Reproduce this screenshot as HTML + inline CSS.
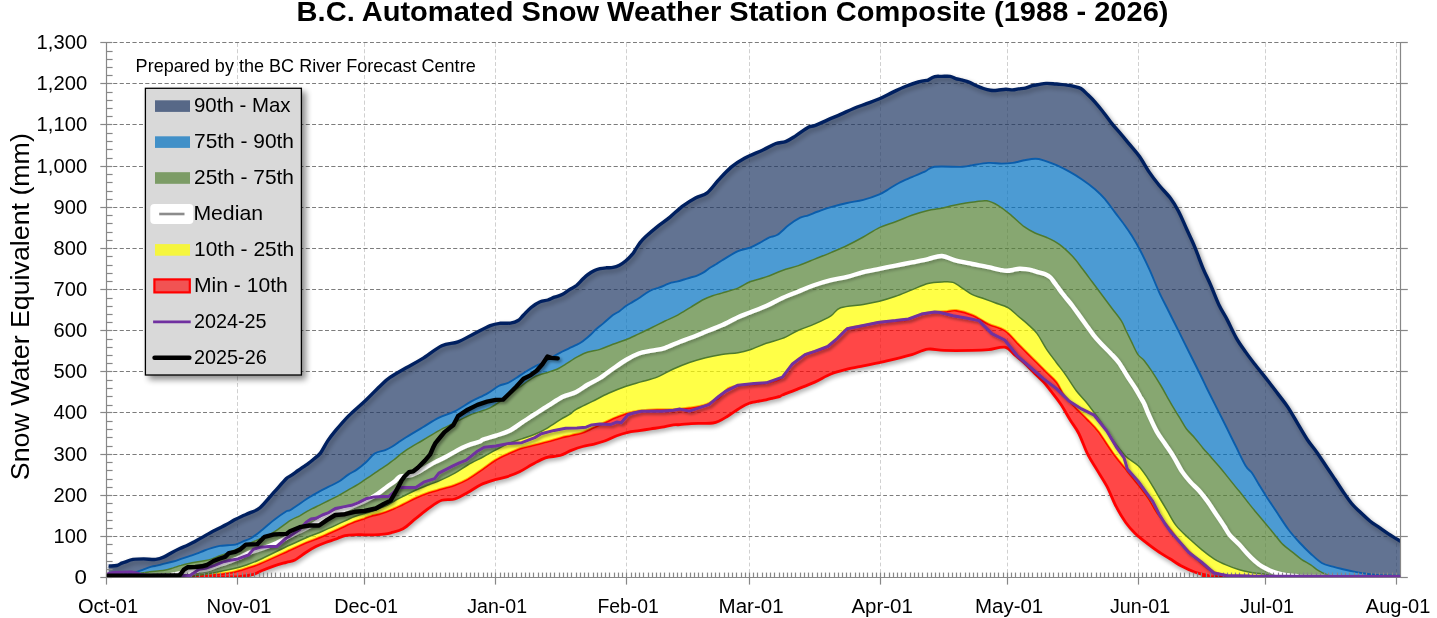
<!DOCTYPE html>
<html><head><meta charset="utf-8"><title>B.C. Automated Snow Weather Station Composite</title>
<style>html,body{margin:0;padding:0;background:#fff;overflow:hidden;}svg{display:block;will-change:transform;}text{font-family:"Liberation Sans",sans-serif;fill:#000;}</style>
</head><body>

<svg width="1437" height="618" viewBox="0 0 1437 618">
<defs>
<filter id="so" x="-10%" y="-10%" width="120%" height="130%"><feGaussianBlur in="SourceAlpha" stdDeviation="2.6"/><feOffset dx="2.4" dy="3.0"/><feComponentTransfer><feFuncA type="linear" slope="0.42"/></feComponentTransfer></filter>
<filter id="si" x="-10%" y="-10%" width="120%" height="130%"><feGaussianBlur in="SourceAlpha" stdDeviation="2.4"/><feOffset dx="2.2" dy="2.8"/><feComponentTransfer><feFuncA type="linear" slope="0.30"/></feComponentTransfer></filter>
<filter id="sr" x="-10%" y="-10%" width="120%" height="130%"><feGaussianBlur in="SourceAlpha" stdDeviation="2.2"/><feOffset dx="0.8" dy="3.0"/><feComponentTransfer><feFuncA type="linear" slope="0.30"/></feComponentTransfer></filter>
<filter id="shl" x="-5%" y="-5%" width="110%" height="115%"><feGaussianBlur in="SourceAlpha" stdDeviation="1.6"/><feOffset dx="1.6" dy="2" result="b"/><feComponentTransfer><feFuncA type="linear" slope="0.22"/></feComponentTransfer><feMerge><feMergeNode/><feMergeNode in="SourceGraphic"/></feMerge></filter>
<filter id="shl2" x="-5%" y="-5%" width="110%" height="115%"><feGaussianBlur in="SourceAlpha" stdDeviation="1.8"/><feOffset dx="1.5" dy="2.2" result="b"/><feComponentTransfer><feFuncA type="linear" slope="0.38"/></feComponentTransfer><feMerge><feMergeNode/><feMergeNode in="SourceGraphic"/></feMerge></filter>
<filter id="shg" x="-10%" y="-10%" width="130%" height="130%"><feGaussianBlur in="SourceAlpha" stdDeviation="3"/><feOffset dx="4" dy="4" result="b"/><feComponentTransfer><feFuncA type="linear" slope="0.45"/></feComponentTransfer><feMerge><feMergeNode/><feMergeNode in="SourceGraphic"/></feMerge></filter>
<clipPath id="plot"><rect x="106.8" y="30" width="1293.6" height="547.3"/></clipPath>
</defs>
<rect x="0" y="0" width="1437" height="618" fill="#fff"/>
<g stroke-width="1" fill="none">
<line x1="237.5" y1="43.0" x2="237.5" y2="577.0" stroke="#d0d0d0" stroke-dasharray="3.75 2.665"/>
<line x1="364.5" y1="43.0" x2="364.5" y2="577.0" stroke="#d0d0d0" stroke-dasharray="3.75 2.665"/>
<line x1="495.5" y1="43.0" x2="495.5" y2="577.0" stroke="#d0d0d0" stroke-dasharray="3.75 2.665"/>
<line x1="626.5" y1="43.0" x2="626.5" y2="577.0" stroke="#d0d0d0" stroke-dasharray="3.75 2.665"/>
<line x1="749.5" y1="43.0" x2="749.5" y2="577.0" stroke="#d0d0d0" stroke-dasharray="3.75 2.665"/>
<line x1="880.5" y1="43.0" x2="880.5" y2="577.0" stroke="#d0d0d0" stroke-dasharray="3.75 2.665"/>
<line x1="1007.5" y1="43.0" x2="1007.5" y2="577.0" stroke="#d0d0d0" stroke-dasharray="3.75 2.665"/>
<line x1="1138.5" y1="43.0" x2="1138.5" y2="577.0" stroke="#d0d0d0" stroke-dasharray="3.75 2.665"/>
<line x1="1265.5" y1="43.0" x2="1265.5" y2="577.0" stroke="#d0d0d0" stroke-dasharray="3.75 2.665"/>
<line x1="1396.5" y1="43.0" x2="1396.5" y2="577.0" stroke="#d0d0d0" stroke-dasharray="3.75 2.665"/>
<line x1="107.0" y1="536.5" x2="1400.0" y2="536.5" stroke="#7c7c7c" stroke-dasharray="3.75 2.665"/>
<line x1="107.0" y1="495.5" x2="1400.0" y2="495.5" stroke="#7c7c7c" stroke-dasharray="3.75 2.665"/>
<line x1="107.0" y1="454.5" x2="1400.0" y2="454.5" stroke="#7c7c7c" stroke-dasharray="3.75 2.665"/>
<line x1="107.0" y1="412.5" x2="1400.0" y2="412.5" stroke="#7c7c7c" stroke-dasharray="3.75 2.665"/>
<line x1="107.0" y1="371.5" x2="1400.0" y2="371.5" stroke="#7c7c7c" stroke-dasharray="3.75 2.665"/>
<line x1="107.0" y1="330.5" x2="1400.0" y2="330.5" stroke="#7c7c7c" stroke-dasharray="3.75 2.665"/>
<line x1="107.0" y1="289.5" x2="1400.0" y2="289.5" stroke="#7c7c7c" stroke-dasharray="3.75 2.665"/>
<line x1="107.0" y1="248.5" x2="1400.0" y2="248.5" stroke="#7c7c7c" stroke-dasharray="3.75 2.665"/>
<line x1="107.0" y1="207.5" x2="1400.0" y2="207.5" stroke="#7c7c7c" stroke-dasharray="3.75 2.665"/>
<line x1="107.0" y1="166.5" x2="1400.0" y2="166.5" stroke="#7c7c7c" stroke-dasharray="3.75 2.665"/>
<line x1="107.0" y1="124.5" x2="1400.0" y2="124.5" stroke="#7c7c7c" stroke-dasharray="3.75 2.665"/>
<line x1="107.0" y1="83.5" x2="1400.0" y2="83.5" stroke="#7c7c7c" stroke-dasharray="3.75 2.665"/>
<line x1="107.0" y1="42.5" x2="1400.0" y2="42.5" stroke="#7c7c7c" stroke-dasharray="3.75 2.665"/>
</g>
<g clip-path="url(#plot)">
<path d="M108.6,566.0 C108.8,566.0 108.1,566.1 109.5,566.0 C110.9,565.9 114.8,566.0 116.8,565.5 C118.8,565.0 120.4,563.7 121.7,563.1 C123.0,562.5 122.9,562.7 124.8,562.1 C126.7,561.5 129.8,559.9 133.0,559.4 C136.2,558.9 139.9,558.9 143.7,558.9 C147.5,558.9 152.3,559.7 155.7,559.4 C159.1,559.1 161.5,558.1 164.2,556.9 C166.9,555.7 169.4,553.8 172.0,552.4 C174.6,551.0 177.2,549.7 179.8,548.5 C182.4,547.3 184.9,546.5 187.5,545.3 C190.1,544.1 192.7,542.6 195.3,541.2 C197.9,539.8 200.5,538.4 203.1,536.9 C205.7,535.4 208.2,533.8 210.8,532.4 C213.4,531.0 216.0,529.8 218.6,528.5 C221.2,527.2 223.8,526.0 226.4,524.6 C229.0,523.2 231.5,521.5 234.1,520.1 C236.7,518.7 239.3,517.4 241.9,516.2 C244.5,515.0 246.7,514.3 249.7,512.9 C252.7,511.5 255.9,511.3 260.0,507.8 C264.1,504.3 269.9,496.8 274.3,491.9 C278.7,487.0 283.8,481.1 286.4,478.5 C289.0,475.9 288.1,477.5 290.0,476.2 C291.9,474.9 295.4,472.4 298.1,470.5 C300.8,468.6 303.8,466.6 306.2,464.9 C308.6,463.1 310.3,462.0 312.7,460.0 C315.1,458.0 317.9,456.3 320.4,453.1 C322.9,449.9 325.1,444.7 327.7,440.9 C330.3,437.1 332.4,434.4 335.9,430.2 C339.4,426.0 344.0,420.5 348.9,415.6 C353.8,410.7 359.6,406.1 365.0,401.0 C370.4,395.9 377.0,388.8 381.2,384.9 C385.4,381.0 385.8,380.3 390.0,377.4 C394.2,374.5 400.8,370.8 406.2,367.7 C411.6,364.6 416.5,362.3 422.4,358.6 C428.3,354.9 435.9,348.5 441.8,345.7 C447.7,342.9 452.6,343.8 458.0,341.8 C463.4,339.8 468.7,336.4 474.1,333.7 C479.5,331.0 486.0,327.3 490.3,325.6 C494.6,323.9 496.6,323.7 500.0,323.3 C503.4,322.9 507.4,323.6 510.4,323.1 C513.4,322.6 516.0,321.8 518.1,320.5 C520.2,319.2 521.1,317.5 523.3,315.3 C525.5,313.1 528.3,309.8 531.1,307.5 C533.9,305.2 537.3,302.9 540.1,301.7 C542.9,300.4 545.5,300.8 547.9,300.0 C550.3,299.2 552.0,298.1 554.4,297.2 C556.8,296.3 559.5,295.9 562.1,294.6 C564.7,293.3 567.5,290.9 569.9,289.4 C572.3,287.9 574.2,287.2 576.4,285.5 C578.5,283.8 580.9,280.9 582.8,279.1 C584.7,277.3 586.0,275.9 588.0,274.5 C590.0,273.1 592.5,271.6 594.5,270.6 C596.5,269.6 598.0,269.2 600.0,268.7 C602.0,268.2 604.4,268.0 606.5,267.8 C608.6,267.6 610.8,267.8 612.9,267.4 C615.0,267.0 617.2,266.3 619.4,265.2 C621.6,264.1 623.7,262.5 625.9,260.7 C628.1,258.9 630.7,256.2 632.4,254.2 C634.1,252.1 634.9,250.3 636.2,248.4 C637.5,246.5 638.5,244.6 640.1,242.6 C641.7,240.6 643.0,239.1 645.8,236.5 C648.6,233.9 653.1,230.0 657.1,226.8 C661.1,223.6 665.7,220.6 670.0,217.1 C674.3,213.6 678.7,209.0 683.0,205.8 C687.3,202.6 691.9,199.9 695.9,197.7 C699.9,195.5 703.4,195.8 707.2,192.8 C711.0,189.8 714.6,184.2 718.6,179.9 C722.6,175.6 727.2,170.5 731.5,166.9 C735.8,163.3 739.3,161.0 744.5,158.2 C749.7,155.4 757.7,152.4 762.9,150.0 C768.1,147.6 772.1,144.9 775.9,143.5 C779.7,142.1 782.4,142.8 785.6,141.6 C788.8,140.4 791.5,138.5 795.3,136.1 C799.1,133.7 805.1,129.0 808.3,127.3 C811.5,125.6 811.5,126.9 814.7,125.7 C817.9,124.5 823.4,121.8 827.7,119.9 C832.0,118.0 836.3,116.3 840.6,114.4 C844.9,112.5 849.3,110.3 853.6,108.5 C857.9,106.7 862.2,105.3 866.5,103.7 C870.8,102.1 875.1,100.7 879.4,98.8 C883.7,96.9 888.1,94.5 892.4,92.4 C896.7,90.4 901.0,88.2 905.3,86.5 C909.6,84.8 914.5,83.1 918.3,82.0 C922.1,80.9 926.4,80.4 928.0,80.1 C929.6,79.8 926.9,80.7 928.0,80.1 C929.1,79.5 932.5,77.2 934.8,76.6 C937.1,76.0 939.2,76.4 941.8,76.4 C944.3,76.4 947.8,76.0 950.1,76.4 C952.4,76.8 953.6,78.0 955.7,78.6 C957.8,79.2 960.3,79.6 962.6,80.2 C964.9,80.8 967.3,81.4 969.6,82.3 C971.9,83.2 974.2,84.7 976.5,85.7 C978.8,86.7 981.2,87.7 983.5,88.5 C985.8,89.3 988.2,90.0 990.5,90.3 C992.8,90.6 994.9,90.5 997.4,90.3 C999.9,90.1 1003.2,89.3 1005.8,89.2 C1008.3,89.1 1010.6,90.0 1012.7,89.9 C1014.8,89.9 1016.2,89.2 1018.3,88.9 C1020.4,88.6 1023.0,88.6 1025.3,88.1 C1027.6,87.6 1029.9,86.3 1032.2,85.7 C1034.5,85.1 1036.9,84.8 1039.2,84.4 C1041.5,84.0 1043.8,83.5 1046.1,83.4 C1048.4,83.3 1050.8,83.5 1053.1,83.7 C1055.4,83.9 1057.8,84.2 1060.1,84.4 C1062.4,84.6 1064.7,84.8 1067.0,85.1 C1069.3,85.4 1071.7,85.8 1074.0,86.4 C1076.3,87.0 1078.6,87.1 1080.9,88.5 C1083.2,89.9 1085.6,92.6 1087.9,94.8 C1090.2,97.0 1092.5,99.2 1094.8,101.8 C1097.1,104.4 1099.0,106.7 1101.8,110.2 C1104.6,113.8 1108.3,119.1 1111.5,123.1 C1114.7,127.1 1118.1,130.8 1121.2,134.4 C1124.3,138.0 1126.9,141.2 1130.0,144.9 C1133.1,148.6 1136.5,152.2 1139.7,156.8 C1142.9,161.4 1146.2,167.7 1149.4,172.4 C1152.6,177.2 1155.6,181.0 1159.1,185.3 C1162.6,189.6 1167.3,194.0 1170.5,198.3 C1173.7,202.6 1175.8,206.1 1178.5,211.2 C1181.2,216.3 1183.9,223.1 1186.6,229.0 C1189.3,234.9 1192.0,240.3 1194.7,246.8 C1197.4,253.3 1200.1,261.3 1202.8,267.8 C1205.5,274.3 1208.2,279.4 1210.9,285.6 C1213.6,291.8 1216.3,299.3 1219.0,305.0 C1221.7,310.7 1224.2,314.1 1227.1,319.6 C1230.0,325.1 1233.1,332.3 1236.2,337.8 C1239.3,343.3 1242.7,347.8 1245.9,352.4 C1249.1,357.0 1251.8,360.4 1255.6,365.3 C1259.4,370.2 1264.7,376.6 1268.5,381.5 C1272.3,386.4 1275.0,390.1 1278.3,394.4 C1281.5,398.7 1284.8,402.5 1288.0,407.4 C1291.2,412.3 1294.5,418.2 1297.7,423.6 C1300.9,429.0 1304.2,434.9 1307.4,439.7 C1310.6,444.5 1313.9,448.1 1317.1,452.7 C1320.3,457.3 1323.8,462.8 1326.8,467.2 C1329.8,471.6 1332.3,475.4 1334.9,479.3 C1337.5,483.2 1339.5,486.5 1342.3,490.5 C1345.1,494.5 1348.5,499.8 1351.6,503.5 C1354.7,507.2 1357.8,509.8 1360.9,512.8 C1364.0,515.8 1367.1,518.7 1370.2,521.2 C1373.3,523.7 1376.4,525.5 1379.5,527.7 C1382.6,529.9 1385.5,532.0 1388.8,534.2 C1392.1,536.4 1397.7,539.6 1399.6,540.7 C1401.5,541.8 1399.9,540.7 1400.0,540.7 L1400.0,577.0 C1184.8,577.0 323.8,577.0 108.6,577.0 Z" fill="#000" stroke="#000" stroke-width="3.4" stroke-linejoin="round" filter="url(#so)"/>
<path d="M108.6,566.0 C108.8,566.0 108.1,566.1 109.5,566.0 C110.9,565.9 114.8,566.0 116.8,565.5 C118.8,565.0 120.4,563.7 121.7,563.1 C123.0,562.5 122.9,562.7 124.8,562.1 C126.7,561.5 129.8,559.9 133.0,559.4 C136.2,558.9 139.9,558.9 143.7,558.9 C147.5,558.9 152.3,559.7 155.7,559.4 C159.1,559.1 161.5,558.1 164.2,556.9 C166.9,555.7 169.4,553.8 172.0,552.4 C174.6,551.0 177.2,549.7 179.8,548.5 C182.4,547.3 184.9,546.5 187.5,545.3 C190.1,544.1 192.7,542.6 195.3,541.2 C197.9,539.8 200.5,538.4 203.1,536.9 C205.7,535.4 208.2,533.8 210.8,532.4 C213.4,531.0 216.0,529.8 218.6,528.5 C221.2,527.2 223.8,526.0 226.4,524.6 C229.0,523.2 231.5,521.5 234.1,520.1 C236.7,518.7 239.3,517.4 241.9,516.2 C244.5,515.0 246.7,514.3 249.7,512.9 C252.7,511.5 255.9,511.3 260.0,507.8 C264.1,504.3 269.9,496.8 274.3,491.9 C278.7,487.0 283.8,481.1 286.4,478.5 C289.0,475.9 288.1,477.5 290.0,476.2 C291.9,474.9 295.4,472.4 298.1,470.5 C300.8,468.6 303.8,466.6 306.2,464.9 C308.6,463.1 310.3,462.0 312.7,460.0 C315.1,458.0 317.9,456.3 320.4,453.1 C322.9,449.9 325.1,444.7 327.7,440.9 C330.3,437.1 332.4,434.4 335.9,430.2 C339.4,426.0 344.0,420.5 348.9,415.6 C353.8,410.7 359.6,406.1 365.0,401.0 C370.4,395.9 377.0,388.8 381.2,384.9 C385.4,381.0 385.8,380.3 390.0,377.4 C394.2,374.5 400.8,370.8 406.2,367.7 C411.6,364.6 416.5,362.3 422.4,358.6 C428.3,354.9 435.9,348.5 441.8,345.7 C447.7,342.9 452.6,343.8 458.0,341.8 C463.4,339.8 468.7,336.4 474.1,333.7 C479.5,331.0 486.0,327.3 490.3,325.6 C494.6,323.9 496.6,323.7 500.0,323.3 C503.4,322.9 507.4,323.6 510.4,323.1 C513.4,322.6 516.0,321.8 518.1,320.5 C520.2,319.2 521.1,317.5 523.3,315.3 C525.5,313.1 528.3,309.8 531.1,307.5 C533.9,305.2 537.3,302.9 540.1,301.7 C542.9,300.4 545.5,300.8 547.9,300.0 C550.3,299.2 552.0,298.1 554.4,297.2 C556.8,296.3 559.5,295.9 562.1,294.6 C564.7,293.3 567.5,290.9 569.9,289.4 C572.3,287.9 574.2,287.2 576.4,285.5 C578.5,283.8 580.9,280.9 582.8,279.1 C584.7,277.3 586.0,275.9 588.0,274.5 C590.0,273.1 592.5,271.6 594.5,270.6 C596.5,269.6 598.0,269.2 600.0,268.7 C602.0,268.2 604.4,268.0 606.5,267.8 C608.6,267.6 610.8,267.8 612.9,267.4 C615.0,267.0 617.2,266.3 619.4,265.2 C621.6,264.1 623.7,262.5 625.9,260.7 C628.1,258.9 630.7,256.2 632.4,254.2 C634.1,252.1 634.9,250.3 636.2,248.4 C637.5,246.5 638.5,244.6 640.1,242.6 C641.7,240.6 643.0,239.1 645.8,236.5 C648.6,233.9 653.1,230.0 657.1,226.8 C661.1,223.6 665.7,220.6 670.0,217.1 C674.3,213.6 678.7,209.0 683.0,205.8 C687.3,202.6 691.9,199.9 695.9,197.7 C699.9,195.5 703.4,195.8 707.2,192.8 C711.0,189.8 714.6,184.2 718.6,179.9 C722.6,175.6 727.2,170.5 731.5,166.9 C735.8,163.3 739.3,161.0 744.5,158.2 C749.7,155.4 757.7,152.4 762.9,150.0 C768.1,147.6 772.1,144.9 775.9,143.5 C779.7,142.1 782.4,142.8 785.6,141.6 C788.8,140.4 791.5,138.5 795.3,136.1 C799.1,133.7 805.1,129.0 808.3,127.3 C811.5,125.6 811.5,126.9 814.7,125.7 C817.9,124.5 823.4,121.8 827.7,119.9 C832.0,118.0 836.3,116.3 840.6,114.4 C844.9,112.5 849.3,110.3 853.6,108.5 C857.9,106.7 862.2,105.3 866.5,103.7 C870.8,102.1 875.1,100.7 879.4,98.8 C883.7,96.9 888.1,94.5 892.4,92.4 C896.7,90.4 901.0,88.2 905.3,86.5 C909.6,84.8 914.5,83.1 918.3,82.0 C922.1,80.9 926.4,80.4 928.0,80.1 C929.6,79.8 926.9,80.7 928.0,80.1 C929.1,79.5 932.5,77.2 934.8,76.6 C937.1,76.0 939.2,76.4 941.8,76.4 C944.3,76.4 947.8,76.0 950.1,76.4 C952.4,76.8 953.6,78.0 955.7,78.6 C957.8,79.2 960.3,79.6 962.6,80.2 C964.9,80.8 967.3,81.4 969.6,82.3 C971.9,83.2 974.2,84.7 976.5,85.7 C978.8,86.7 981.2,87.7 983.5,88.5 C985.8,89.3 988.2,90.0 990.5,90.3 C992.8,90.6 994.9,90.5 997.4,90.3 C999.9,90.1 1003.2,89.3 1005.8,89.2 C1008.3,89.1 1010.6,90.0 1012.7,89.9 C1014.8,89.9 1016.2,89.2 1018.3,88.9 C1020.4,88.6 1023.0,88.6 1025.3,88.1 C1027.6,87.6 1029.9,86.3 1032.2,85.7 C1034.5,85.1 1036.9,84.8 1039.2,84.4 C1041.5,84.0 1043.8,83.5 1046.1,83.4 C1048.4,83.3 1050.8,83.5 1053.1,83.7 C1055.4,83.9 1057.8,84.2 1060.1,84.4 C1062.4,84.6 1064.7,84.8 1067.0,85.1 C1069.3,85.4 1071.7,85.8 1074.0,86.4 C1076.3,87.0 1078.6,87.1 1080.9,88.5 C1083.2,89.9 1085.6,92.6 1087.9,94.8 C1090.2,97.0 1092.5,99.2 1094.8,101.8 C1097.1,104.4 1099.0,106.7 1101.8,110.2 C1104.6,113.8 1108.3,119.1 1111.5,123.1 C1114.7,127.1 1118.1,130.8 1121.2,134.4 C1124.3,138.0 1126.9,141.2 1130.0,144.9 C1133.1,148.6 1136.5,152.2 1139.7,156.8 C1142.9,161.4 1146.2,167.7 1149.4,172.4 C1152.6,177.2 1155.6,181.0 1159.1,185.3 C1162.6,189.6 1167.3,194.0 1170.5,198.3 C1173.7,202.6 1175.8,206.1 1178.5,211.2 C1181.2,216.3 1183.9,223.1 1186.6,229.0 C1189.3,234.9 1192.0,240.3 1194.7,246.8 C1197.4,253.3 1200.1,261.3 1202.8,267.8 C1205.5,274.3 1208.2,279.4 1210.9,285.6 C1213.6,291.8 1216.3,299.3 1219.0,305.0 C1221.7,310.7 1224.2,314.1 1227.1,319.6 C1230.0,325.1 1233.1,332.3 1236.2,337.8 C1239.3,343.3 1242.7,347.8 1245.9,352.4 C1249.1,357.0 1251.8,360.4 1255.6,365.3 C1259.4,370.2 1264.7,376.6 1268.5,381.5 C1272.3,386.4 1275.0,390.1 1278.3,394.4 C1281.5,398.7 1284.8,402.5 1288.0,407.4 C1291.2,412.3 1294.5,418.2 1297.7,423.6 C1300.9,429.0 1304.2,434.9 1307.4,439.7 C1310.6,444.5 1313.9,448.1 1317.1,452.7 C1320.3,457.3 1323.8,462.8 1326.8,467.2 C1329.8,471.6 1332.3,475.4 1334.9,479.3 C1337.5,483.2 1339.5,486.5 1342.3,490.5 C1345.1,494.5 1348.5,499.8 1351.6,503.5 C1354.7,507.2 1357.8,509.8 1360.9,512.8 C1364.0,515.8 1367.1,518.7 1370.2,521.2 C1373.3,523.7 1376.4,525.5 1379.5,527.7 C1382.6,529.9 1385.5,532.0 1388.8,534.2 C1392.1,536.4 1397.7,539.6 1399.6,540.7 C1401.5,541.8 1399.9,540.7 1400.0,540.7 L1400.0,577.0 C1184.8,577.0 323.8,577.0 108.6,577.0 Z" fill="#fff"/>
<path d="M108.6,576.4 C120.9,576.4 166.9,576.6 182.4,576.4 C197.9,576.2 195.3,575.8 201.8,575.4 C208.3,575.0 215.8,574.4 221.2,573.8 C226.6,573.2 229.8,572.8 234.1,571.8 C238.4,570.8 242.8,569.3 247.1,567.9 C251.4,566.5 252.8,566.4 260.0,563.4 C267.1,560.4 282.3,553.3 290.0,549.8 C297.7,546.3 300.8,544.8 306.2,542.5 C311.6,540.2 317.0,538.4 322.4,536.1 C327.8,533.8 333.1,531.2 338.5,528.8 C343.9,526.4 350.4,523.2 354.7,521.5 C359.0,519.8 361.7,519.2 364.4,518.3 C367.1,517.3 368.2,516.6 370.9,515.8 C373.6,515.0 377.4,514.4 380.6,513.4 C383.8,512.4 386.6,511.5 390.3,510.0 C394.0,508.5 398.7,506.2 403.0,504.2 C407.3,502.1 411.6,499.6 415.9,497.7 C420.2,495.8 424.6,494.0 428.9,492.5 C433.2,491.0 437.5,490.0 441.8,488.7 C446.1,487.4 450.5,486.4 454.8,484.8 C459.1,483.2 463.0,481.7 467.7,479.0 C472.4,476.3 478.3,471.9 483.0,468.7 C487.7,465.5 491.6,462.2 495.9,459.6 C500.2,457.0 504.6,455.1 508.9,453.1 C513.2,451.2 517.5,449.3 521.8,447.9 C526.1,446.5 530.5,445.8 534.8,444.7 C539.1,443.6 543.4,442.7 547.7,441.5 C552.0,440.3 556.8,438.7 560.7,437.6 C564.6,436.5 567.6,436.0 571.3,435.1 C575.0,434.2 578.9,433.6 582.7,432.3 C586.5,431.0 590.2,428.9 594.0,427.2 C597.8,425.5 601.5,423.8 605.3,422.1 C609.1,420.4 612.9,418.5 616.7,417.0 C620.5,415.5 624.2,414.0 628.0,413.0 C631.8,412.0 634.4,411.4 639.3,410.8 C644.1,410.2 651.4,409.6 657.1,409.4 C662.8,409.2 667.9,409.7 673.3,409.4 C678.7,409.1 684.0,408.6 689.4,407.8 C694.8,407.0 700.7,406.2 705.6,404.6 C710.5,403.0 714.8,400.8 718.6,398.1 C722.4,395.4 724.5,390.5 728.3,388.4 C732.1,386.2 736.8,386.0 741.2,385.2 C745.7,384.4 750.8,384.2 755.0,383.8 C759.2,383.4 761.6,383.9 766.2,382.8 C770.8,381.7 778.1,380.3 782.4,377.2 C786.7,374.1 788.3,368.1 792.1,364.3 C795.9,360.5 801.2,356.8 805.0,354.6 C808.8,352.5 810.9,352.8 814.7,351.4 C818.5,350.0 823.9,348.7 827.7,346.5 C831.5,344.3 834.2,341.4 837.4,338.4 C840.6,335.4 842.8,330.8 847.1,328.7 C851.4,326.6 857.9,326.6 863.3,325.5 C868.7,324.4 874.0,323.0 879.4,322.2 C884.8,321.4 890.7,321.1 895.6,320.6 C900.5,320.1 904.3,320.1 908.6,319.0 C912.9,317.9 917.2,315.3 921.5,314.1 C925.8,312.9 930.6,312.3 934.5,311.9 C938.4,311.5 941.4,311.8 945.0,311.5 C948.6,311.2 951.6,309.8 956.2,310.3 C960.8,310.9 967.0,312.5 972.4,314.8 C977.8,317.1 983.1,321.3 988.5,323.9 C993.9,326.5 999.8,327.1 1004.7,330.3 C1009.6,333.5 1013.9,339.5 1017.7,343.3 C1021.5,347.1 1024.2,349.8 1027.4,353.0 C1030.6,356.2 1033.9,359.5 1037.1,362.7 C1040.3,365.9 1043.6,369.2 1046.8,372.4 C1050.0,375.6 1053.6,378.3 1056.5,382.1 C1059.4,385.9 1060.8,390.8 1064.0,395.0 C1067.2,399.2 1071.7,403.5 1075.5,407.5 C1079.3,411.5 1083.2,415.1 1087.0,419.0 C1090.8,422.9 1093.7,425.3 1098.0,431.0 C1102.3,436.7 1108.5,446.8 1113.1,453.1 C1117.7,459.4 1121.5,463.6 1125.7,468.9 C1129.9,474.1 1134.6,479.9 1138.3,484.6 C1142.0,489.3 1144.6,492.6 1147.8,497.3 C1151.0,502.0 1153.6,507.8 1157.3,513.0 C1161.0,518.2 1165.7,523.5 1169.9,528.8 C1174.1,534.1 1178.3,539.9 1182.5,544.6 C1186.7,549.3 1190.9,553.3 1195.1,557.2 C1199.3,561.1 1203.5,565.3 1207.7,568.2 C1211.9,571.1 1215.8,573.0 1220.3,574.5 C1224.8,576.0 1205.1,576.5 1235.0,577.0 C1264.9,577.5 1372.1,577.2 1399.6,577.3 C1427.1,577.3 1399.9,577.3 1400.0,577.3 L1400.0,577.3 C1399.9,577.3 1429.6,577.3 1399.6,577.3 C1369.6,577.2 1252.0,577.3 1220.0,577.0 C1188.0,576.7 1211.9,576.3 1207.7,575.5 C1203.5,574.7 1199.3,573.8 1195.1,572.3 C1190.9,570.8 1186.7,568.9 1182.5,566.6 C1178.3,564.4 1174.1,561.4 1169.9,558.8 C1165.7,556.2 1161.5,553.8 1157.3,550.9 C1153.1,548.0 1148.3,544.3 1144.6,541.4 C1140.9,538.5 1138.3,536.6 1135.2,533.5 C1132.1,530.4 1128.9,527.0 1125.7,522.5 C1122.5,518.0 1119.4,512.8 1116.2,506.7 C1113.0,500.6 1110.0,492.2 1106.8,486.2 C1103.6,480.1 1100.4,475.6 1097.3,470.4 C1094.2,465.1 1091.0,460.8 1087.9,454.7 C1084.8,448.6 1081.7,439.2 1078.8,433.5 C1075.9,427.8 1073.5,425.3 1070.5,420.5 C1067.5,415.7 1064.1,409.2 1061.0,404.5 C1057.9,399.8 1054.9,396.2 1052.0,392.5 C1049.1,388.8 1046.6,385.5 1043.6,382.1 C1040.6,378.8 1037.0,375.6 1033.8,372.4 C1030.5,369.2 1027.3,365.7 1024.1,362.7 C1020.9,359.7 1017.6,357.2 1014.4,354.6 C1011.2,352.0 1009.0,348.0 1004.7,347.2 C1000.4,346.4 993.9,349.2 988.5,349.7 C983.1,350.2 979.8,350.3 972.4,350.4 C965.0,350.5 951.6,350.6 944.2,350.4 C936.8,350.2 933.4,348.4 928.0,349.1 C922.6,349.8 917.2,353.0 911.8,354.6 C906.4,356.2 901.0,357.5 895.6,358.8 C890.2,360.1 884.8,361.5 879.4,362.7 C874.0,363.9 868.7,364.8 863.3,365.9 C857.9,367.0 852.5,367.8 847.1,369.2 C841.7,370.6 836.3,371.9 830.9,374.0 C825.5,376.1 820.1,379.7 814.7,382.1 C809.3,384.5 803.9,386.5 798.5,388.6 C793.1,390.8 785.5,393.7 782.4,395.0 C779.3,396.3 781.6,395.9 780.0,396.4 C778.4,396.9 775.2,397.5 772.9,398.1 C770.6,398.7 768.4,399.3 766.1,399.8 C763.8,400.3 761.4,400.6 759.3,401.0 C757.2,401.4 755.5,401.6 753.6,402.1 C751.7,402.6 750.1,403.0 748.0,403.8 C745.9,404.6 743.5,405.9 741.2,407.2 C738.9,408.5 736.7,410.2 734.4,411.7 C732.1,413.2 730.1,414.7 727.6,416.2 C725.1,417.7 722.1,419.7 719.6,420.8 C717.1,421.9 715.6,422.6 712.8,423.0 C710.0,423.4 706.2,423.3 702.6,423.4 C699.0,423.5 695.1,423.4 691.3,423.6 C687.5,423.8 683.0,424.5 680.0,424.7 C677.0,424.9 676.3,424.5 673.3,424.9 C670.3,425.3 665.8,426.5 662.0,427.2 C658.2,427.9 654.5,428.3 650.7,428.9 C646.9,429.5 643.1,430.0 639.3,430.6 C635.5,431.2 631.8,431.5 628.0,432.3 C624.2,433.1 620.5,434.3 616.7,435.7 C612.9,437.1 609.1,439.4 605.3,440.8 C601.5,442.2 597.8,443.2 594.0,444.2 C590.2,445.1 586.5,445.5 582.7,446.5 C578.9,447.5 575.1,448.9 571.3,450.4 C567.5,451.9 564.3,454.3 560.0,455.5 C555.7,456.7 550.0,456.3 545.4,457.8 C540.8,459.3 536.8,462.0 532.5,464.3 C528.2,466.6 523.8,469.7 519.5,471.8 C515.2,473.9 510.9,475.4 506.6,476.8 C502.3,478.2 497.9,478.9 493.6,480.2 C489.3,481.5 485.0,482.8 480.7,484.8 C476.4,486.9 472.0,490.1 467.7,492.5 C463.4,494.9 459.1,497.7 454.8,499.0 C450.5,500.3 446.1,498.8 441.8,500.3 C437.5,501.8 433.2,505.1 428.9,508.1 C424.6,511.1 420.2,515.0 415.9,518.4 C411.6,521.8 407.1,526.4 403.0,528.8 C398.9,531.2 394.2,531.9 391.0,532.8 C387.8,533.7 386.7,533.8 383.9,534.1 C381.1,534.4 377.4,534.7 374.1,534.8 C370.9,534.9 367.6,534.8 364.4,534.8 C361.2,534.8 357.9,534.6 354.7,534.8 C351.5,534.9 348.2,535.0 345.0,535.7 C341.8,536.5 338.5,538.2 335.3,539.3 C332.1,540.4 328.8,541.3 325.6,542.5 C322.4,543.7 319.1,545.0 315.9,546.6 C312.7,548.2 309.7,550.0 306.2,552.2 C302.7,554.4 298.2,558.3 294.9,560.0 C291.6,561.7 289.8,561.3 286.4,562.3 C283.0,563.3 278.4,564.5 274.3,565.9 C270.2,567.3 265.6,569.1 262.1,570.5 C258.6,571.9 257.1,573.4 253.5,574.4 C249.9,575.4 244.9,576.0 240.6,576.4 C236.3,576.8 249.6,576.9 227.6,577.0 C205.6,577.1 128.4,577.0 108.6,577.0 Z" fill="#000" stroke="#000" stroke-width="2.8" filter="url(#sr)"/>
<path d="M108.6,566.0 C108.8,566.0 108.1,566.1 109.5,566.0 C110.9,565.9 114.8,566.0 116.8,565.5 C118.8,565.0 120.4,563.7 121.7,563.1 C123.0,562.5 122.9,562.7 124.8,562.1 C126.7,561.5 129.8,559.9 133.0,559.4 C136.2,558.9 139.9,558.9 143.7,558.9 C147.5,558.9 152.3,559.7 155.7,559.4 C159.1,559.1 161.5,558.1 164.2,556.9 C166.9,555.7 169.4,553.8 172.0,552.4 C174.6,551.0 177.2,549.7 179.8,548.5 C182.4,547.3 184.9,546.5 187.5,545.3 C190.1,544.1 192.7,542.6 195.3,541.2 C197.9,539.8 200.5,538.4 203.1,536.9 C205.7,535.4 208.2,533.8 210.8,532.4 C213.4,531.0 216.0,529.8 218.6,528.5 C221.2,527.2 223.8,526.0 226.4,524.6 C229.0,523.2 231.5,521.5 234.1,520.1 C236.7,518.7 239.3,517.4 241.9,516.2 C244.5,515.0 246.7,514.3 249.7,512.9 C252.7,511.5 255.9,511.3 260.0,507.8 C264.1,504.3 269.9,496.8 274.3,491.9 C278.7,487.0 283.8,481.1 286.4,478.5 C289.0,475.9 288.1,477.5 290.0,476.2 C291.9,474.9 295.4,472.4 298.1,470.5 C300.8,468.6 303.8,466.6 306.2,464.9 C308.6,463.1 310.3,462.0 312.7,460.0 C315.1,458.0 317.9,456.3 320.4,453.1 C322.9,449.9 325.1,444.7 327.7,440.9 C330.3,437.1 332.4,434.4 335.9,430.2 C339.4,426.0 344.0,420.5 348.9,415.6 C353.8,410.7 359.6,406.1 365.0,401.0 C370.4,395.9 377.0,388.8 381.2,384.9 C385.4,381.0 385.8,380.3 390.0,377.4 C394.2,374.5 400.8,370.8 406.2,367.7 C411.6,364.6 416.5,362.3 422.4,358.6 C428.3,354.9 435.9,348.5 441.8,345.7 C447.7,342.9 452.6,343.8 458.0,341.8 C463.4,339.8 468.7,336.4 474.1,333.7 C479.5,331.0 486.0,327.3 490.3,325.6 C494.6,323.9 496.6,323.7 500.0,323.3 C503.4,322.9 507.4,323.6 510.4,323.1 C513.4,322.6 516.0,321.8 518.1,320.5 C520.2,319.2 521.1,317.5 523.3,315.3 C525.5,313.1 528.3,309.8 531.1,307.5 C533.9,305.2 537.3,302.9 540.1,301.7 C542.9,300.4 545.5,300.8 547.9,300.0 C550.3,299.2 552.0,298.1 554.4,297.2 C556.8,296.3 559.5,295.9 562.1,294.6 C564.7,293.3 567.5,290.9 569.9,289.4 C572.3,287.9 574.2,287.2 576.4,285.5 C578.5,283.8 580.9,280.9 582.8,279.1 C584.7,277.3 586.0,275.9 588.0,274.5 C590.0,273.1 592.5,271.6 594.5,270.6 C596.5,269.6 598.0,269.2 600.0,268.7 C602.0,268.2 604.4,268.0 606.5,267.8 C608.6,267.6 610.8,267.8 612.9,267.4 C615.0,267.0 617.2,266.3 619.4,265.2 C621.6,264.1 623.7,262.5 625.9,260.7 C628.1,258.9 630.7,256.2 632.4,254.2 C634.1,252.1 634.9,250.3 636.2,248.4 C637.5,246.5 638.5,244.6 640.1,242.6 C641.7,240.6 643.0,239.1 645.8,236.5 C648.6,233.9 653.1,230.0 657.1,226.8 C661.1,223.6 665.7,220.6 670.0,217.1 C674.3,213.6 678.7,209.0 683.0,205.8 C687.3,202.6 691.9,199.9 695.9,197.7 C699.9,195.5 703.4,195.8 707.2,192.8 C711.0,189.8 714.6,184.2 718.6,179.9 C722.6,175.6 727.2,170.5 731.5,166.9 C735.8,163.3 739.3,161.0 744.5,158.2 C749.7,155.4 757.7,152.4 762.9,150.0 C768.1,147.6 772.1,144.9 775.9,143.5 C779.7,142.1 782.4,142.8 785.6,141.6 C788.8,140.4 791.5,138.5 795.3,136.1 C799.1,133.7 805.1,129.0 808.3,127.3 C811.5,125.6 811.5,126.9 814.7,125.7 C817.9,124.5 823.4,121.8 827.7,119.9 C832.0,118.0 836.3,116.3 840.6,114.4 C844.9,112.5 849.3,110.3 853.6,108.5 C857.9,106.7 862.2,105.3 866.5,103.7 C870.8,102.1 875.1,100.7 879.4,98.8 C883.7,96.9 888.1,94.5 892.4,92.4 C896.7,90.4 901.0,88.2 905.3,86.5 C909.6,84.8 914.5,83.1 918.3,82.0 C922.1,80.9 926.4,80.4 928.0,80.1 C929.6,79.8 926.9,80.7 928.0,80.1 C929.1,79.5 932.5,77.2 934.8,76.6 C937.1,76.0 939.2,76.4 941.8,76.4 C944.3,76.4 947.8,76.0 950.1,76.4 C952.4,76.8 953.6,78.0 955.7,78.6 C957.8,79.2 960.3,79.6 962.6,80.2 C964.9,80.8 967.3,81.4 969.6,82.3 C971.9,83.2 974.2,84.7 976.5,85.7 C978.8,86.7 981.2,87.7 983.5,88.5 C985.8,89.3 988.2,90.0 990.5,90.3 C992.8,90.6 994.9,90.5 997.4,90.3 C999.9,90.1 1003.2,89.3 1005.8,89.2 C1008.3,89.1 1010.6,90.0 1012.7,89.9 C1014.8,89.9 1016.2,89.2 1018.3,88.9 C1020.4,88.6 1023.0,88.6 1025.3,88.1 C1027.6,87.6 1029.9,86.3 1032.2,85.7 C1034.5,85.1 1036.9,84.8 1039.2,84.4 C1041.5,84.0 1043.8,83.5 1046.1,83.4 C1048.4,83.3 1050.8,83.5 1053.1,83.7 C1055.4,83.9 1057.8,84.2 1060.1,84.4 C1062.4,84.6 1064.7,84.8 1067.0,85.1 C1069.3,85.4 1071.7,85.8 1074.0,86.4 C1076.3,87.0 1078.6,87.1 1080.9,88.5 C1083.2,89.9 1085.6,92.6 1087.9,94.8 C1090.2,97.0 1092.5,99.2 1094.8,101.8 C1097.1,104.4 1099.0,106.7 1101.8,110.2 C1104.6,113.8 1108.3,119.1 1111.5,123.1 C1114.7,127.1 1118.1,130.8 1121.2,134.4 C1124.3,138.0 1126.9,141.2 1130.0,144.9 C1133.1,148.6 1136.5,152.2 1139.7,156.8 C1142.9,161.4 1146.2,167.7 1149.4,172.4 C1152.6,177.2 1155.6,181.0 1159.1,185.3 C1162.6,189.6 1167.3,194.0 1170.5,198.3 C1173.7,202.6 1175.8,206.1 1178.5,211.2 C1181.2,216.3 1183.9,223.1 1186.6,229.0 C1189.3,234.9 1192.0,240.3 1194.7,246.8 C1197.4,253.3 1200.1,261.3 1202.8,267.8 C1205.5,274.3 1208.2,279.4 1210.9,285.6 C1213.6,291.8 1216.3,299.3 1219.0,305.0 C1221.7,310.7 1224.2,314.1 1227.1,319.6 C1230.0,325.1 1233.1,332.3 1236.2,337.8 C1239.3,343.3 1242.7,347.8 1245.9,352.4 C1249.1,357.0 1251.8,360.4 1255.6,365.3 C1259.4,370.2 1264.7,376.6 1268.5,381.5 C1272.3,386.4 1275.0,390.1 1278.3,394.4 C1281.5,398.7 1284.8,402.5 1288.0,407.4 C1291.2,412.3 1294.5,418.2 1297.7,423.6 C1300.9,429.0 1304.2,434.9 1307.4,439.7 C1310.6,444.5 1313.9,448.1 1317.1,452.7 C1320.3,457.3 1323.8,462.8 1326.8,467.2 C1329.8,471.6 1332.3,475.4 1334.9,479.3 C1337.5,483.2 1339.5,486.5 1342.3,490.5 C1345.1,494.5 1348.5,499.8 1351.6,503.5 C1354.7,507.2 1357.8,509.8 1360.9,512.8 C1364.0,515.8 1367.1,518.7 1370.2,521.2 C1373.3,523.7 1376.4,525.5 1379.5,527.7 C1382.6,529.9 1385.5,532.0 1388.8,534.2 C1392.1,536.4 1397.7,539.6 1399.6,540.7 C1401.5,541.8 1399.9,540.7 1400.0,540.7 L1400.0,577.3 C1399.9,577.3 1429.6,577.3 1399.6,577.3 C1369.6,577.2 1252.0,577.3 1220.0,577.0 C1188.0,576.7 1211.9,576.3 1207.7,575.5 C1203.5,574.7 1199.3,573.8 1195.1,572.3 C1190.9,570.8 1186.7,568.9 1182.5,566.6 C1178.3,564.4 1174.1,561.4 1169.9,558.8 C1165.7,556.2 1161.5,553.8 1157.3,550.9 C1153.1,548.0 1148.3,544.3 1144.6,541.4 C1140.9,538.5 1138.3,536.6 1135.2,533.5 C1132.1,530.4 1128.9,527.0 1125.7,522.5 C1122.5,518.0 1119.4,512.8 1116.2,506.7 C1113.0,500.6 1110.0,492.2 1106.8,486.2 C1103.6,480.1 1100.4,475.6 1097.3,470.4 C1094.2,465.1 1091.0,460.8 1087.9,454.7 C1084.8,448.6 1081.7,439.2 1078.8,433.5 C1075.9,427.8 1073.5,425.3 1070.5,420.5 C1067.5,415.7 1064.1,409.2 1061.0,404.5 C1057.9,399.8 1054.9,396.2 1052.0,392.5 C1049.1,388.8 1046.6,385.5 1043.6,382.1 C1040.6,378.8 1037.0,375.6 1033.8,372.4 C1030.5,369.2 1027.3,365.7 1024.1,362.7 C1020.9,359.7 1017.6,357.2 1014.4,354.6 C1011.2,352.0 1009.0,348.0 1004.7,347.2 C1000.4,346.4 993.9,349.2 988.5,349.7 C983.1,350.2 979.8,350.3 972.4,350.4 C965.0,350.5 951.6,350.6 944.2,350.4 C936.8,350.2 933.4,348.4 928.0,349.1 C922.6,349.8 917.2,353.0 911.8,354.6 C906.4,356.2 901.0,357.5 895.6,358.8 C890.2,360.1 884.8,361.5 879.4,362.7 C874.0,363.9 868.7,364.8 863.3,365.9 C857.9,367.0 852.5,367.8 847.1,369.2 C841.7,370.6 836.3,371.9 830.9,374.0 C825.5,376.1 820.1,379.7 814.7,382.1 C809.3,384.5 803.9,386.5 798.5,388.6 C793.1,390.8 785.5,393.7 782.4,395.0 C779.3,396.3 781.6,395.9 780.0,396.4 C778.4,396.9 775.2,397.5 772.9,398.1 C770.6,398.7 768.4,399.3 766.1,399.8 C763.8,400.3 761.4,400.6 759.3,401.0 C757.2,401.4 755.5,401.6 753.6,402.1 C751.7,402.6 750.1,403.0 748.0,403.8 C745.9,404.6 743.5,405.9 741.2,407.2 C738.9,408.5 736.7,410.2 734.4,411.7 C732.1,413.2 730.1,414.7 727.6,416.2 C725.1,417.7 722.1,419.7 719.6,420.8 C717.1,421.9 715.6,422.6 712.8,423.0 C710.0,423.4 706.2,423.3 702.6,423.4 C699.0,423.5 695.1,423.4 691.3,423.6 C687.5,423.8 683.0,424.5 680.0,424.7 C677.0,424.9 676.3,424.5 673.3,424.9 C670.3,425.3 665.8,426.5 662.0,427.2 C658.2,427.9 654.5,428.3 650.7,428.9 C646.9,429.5 643.1,430.0 639.3,430.6 C635.5,431.2 631.8,431.5 628.0,432.3 C624.2,433.1 620.5,434.3 616.7,435.7 C612.9,437.1 609.1,439.4 605.3,440.8 C601.5,442.2 597.8,443.2 594.0,444.2 C590.2,445.1 586.5,445.5 582.7,446.5 C578.9,447.5 575.1,448.9 571.3,450.4 C567.5,451.9 564.3,454.3 560.0,455.5 C555.7,456.7 550.0,456.3 545.4,457.8 C540.8,459.3 536.8,462.0 532.5,464.3 C528.2,466.6 523.8,469.7 519.5,471.8 C515.2,473.9 510.9,475.4 506.6,476.8 C502.3,478.2 497.9,478.9 493.6,480.2 C489.3,481.5 485.0,482.8 480.7,484.8 C476.4,486.9 472.0,490.1 467.7,492.5 C463.4,494.9 459.1,497.7 454.8,499.0 C450.5,500.3 446.1,498.8 441.8,500.3 C437.5,501.8 433.2,505.1 428.9,508.1 C424.6,511.1 420.2,515.0 415.9,518.4 C411.6,521.8 407.1,526.4 403.0,528.8 C398.9,531.2 394.2,531.9 391.0,532.8 C387.8,533.7 386.7,533.8 383.9,534.1 C381.1,534.4 377.4,534.7 374.1,534.8 C370.9,534.9 367.6,534.8 364.4,534.8 C361.2,534.8 357.9,534.6 354.7,534.8 C351.5,534.9 348.2,535.0 345.0,535.7 C341.8,536.5 338.5,538.2 335.3,539.3 C332.1,540.4 328.8,541.3 325.6,542.5 C322.4,543.7 319.1,545.0 315.9,546.6 C312.7,548.2 309.7,550.0 306.2,552.2 C302.7,554.4 298.2,558.3 294.9,560.0 C291.6,561.7 289.8,561.3 286.4,562.3 C283.0,563.3 278.4,564.5 274.3,565.9 C270.2,567.3 265.6,569.1 262.1,570.5 C258.6,571.9 257.1,573.4 253.5,574.4 C249.9,575.4 244.9,576.0 240.6,576.4 C236.3,576.8 249.6,576.9 227.6,577.0 C205.6,577.1 128.4,577.0 108.6,577.0 Z" fill="#fff"/>
<g stroke-width="1" fill="none">
<line x1="237.5" y1="43.0" x2="237.5" y2="577.0" stroke="#d0d0d0" stroke-dasharray="3.75 2.665"/>
<line x1="364.5" y1="43.0" x2="364.5" y2="577.0" stroke="#d0d0d0" stroke-dasharray="3.75 2.665"/>
<line x1="495.5" y1="43.0" x2="495.5" y2="577.0" stroke="#d0d0d0" stroke-dasharray="3.75 2.665"/>
<line x1="626.5" y1="43.0" x2="626.5" y2="577.0" stroke="#d0d0d0" stroke-dasharray="3.75 2.665"/>
<line x1="749.5" y1="43.0" x2="749.5" y2="577.0" stroke="#d0d0d0" stroke-dasharray="3.75 2.665"/>
<line x1="880.5" y1="43.0" x2="880.5" y2="577.0" stroke="#d0d0d0" stroke-dasharray="3.75 2.665"/>
<line x1="1007.5" y1="43.0" x2="1007.5" y2="577.0" stroke="#d0d0d0" stroke-dasharray="3.75 2.665"/>
<line x1="1138.5" y1="43.0" x2="1138.5" y2="577.0" stroke="#d0d0d0" stroke-dasharray="3.75 2.665"/>
<line x1="1265.5" y1="43.0" x2="1265.5" y2="577.0" stroke="#d0d0d0" stroke-dasharray="3.75 2.665"/>
<line x1="1396.5" y1="43.0" x2="1396.5" y2="577.0" stroke="#d0d0d0" stroke-dasharray="3.75 2.665"/>
<line x1="107.0" y1="536.5" x2="1400.0" y2="536.5" stroke="#7c7c7c" stroke-dasharray="3.75 2.665"/>
<line x1="107.0" y1="495.5" x2="1400.0" y2="495.5" stroke="#7c7c7c" stroke-dasharray="3.75 2.665"/>
<line x1="107.0" y1="454.5" x2="1400.0" y2="454.5" stroke="#7c7c7c" stroke-dasharray="3.75 2.665"/>
<line x1="107.0" y1="412.5" x2="1400.0" y2="412.5" stroke="#7c7c7c" stroke-dasharray="3.75 2.665"/>
<line x1="107.0" y1="371.5" x2="1400.0" y2="371.5" stroke="#7c7c7c" stroke-dasharray="3.75 2.665"/>
<line x1="107.0" y1="330.5" x2="1400.0" y2="330.5" stroke="#7c7c7c" stroke-dasharray="3.75 2.665"/>
<line x1="107.0" y1="289.5" x2="1400.0" y2="289.5" stroke="#7c7c7c" stroke-dasharray="3.75 2.665"/>
<line x1="107.0" y1="248.5" x2="1400.0" y2="248.5" stroke="#7c7c7c" stroke-dasharray="3.75 2.665"/>
<line x1="107.0" y1="207.5" x2="1400.0" y2="207.5" stroke="#7c7c7c" stroke-dasharray="3.75 2.665"/>
<line x1="107.0" y1="166.5" x2="1400.0" y2="166.5" stroke="#7c7c7c" stroke-dasharray="3.75 2.665"/>
<line x1="107.0" y1="124.5" x2="1400.0" y2="124.5" stroke="#7c7c7c" stroke-dasharray="3.75 2.665"/>
<line x1="107.0" y1="83.5" x2="1400.0" y2="83.5" stroke="#7c7c7c" stroke-dasharray="3.75 2.665"/>
<line x1="107.0" y1="42.5" x2="1400.0" y2="42.5" stroke="#7c7c7c" stroke-dasharray="3.75 2.665"/>
</g>
<path d="M108.6,566.0 C108.8,566.0 108.1,566.1 109.5,566.0 C110.9,565.9 114.8,566.0 116.8,565.5 C118.8,565.0 120.4,563.7 121.7,563.1 C123.0,562.5 122.9,562.7 124.8,562.1 C126.7,561.5 129.8,559.9 133.0,559.4 C136.2,558.9 139.9,558.9 143.7,558.9 C147.5,558.9 152.3,559.7 155.7,559.4 C159.1,559.1 161.5,558.1 164.2,556.9 C166.9,555.7 169.4,553.8 172.0,552.4 C174.6,551.0 177.2,549.7 179.8,548.5 C182.4,547.3 184.9,546.5 187.5,545.3 C190.1,544.1 192.7,542.6 195.3,541.2 C197.9,539.8 200.5,538.4 203.1,536.9 C205.7,535.4 208.2,533.8 210.8,532.4 C213.4,531.0 216.0,529.8 218.6,528.5 C221.2,527.2 223.8,526.0 226.4,524.6 C229.0,523.2 231.5,521.5 234.1,520.1 C236.7,518.7 239.3,517.4 241.9,516.2 C244.5,515.0 246.7,514.3 249.7,512.9 C252.7,511.5 255.9,511.3 260.0,507.8 C264.1,504.3 269.9,496.8 274.3,491.9 C278.7,487.0 283.8,481.1 286.4,478.5 C289.0,475.9 288.1,477.5 290.0,476.2 C291.9,474.9 295.4,472.4 298.1,470.5 C300.8,468.6 303.8,466.6 306.2,464.9 C308.6,463.1 310.3,462.0 312.7,460.0 C315.1,458.0 317.9,456.3 320.4,453.1 C322.9,449.9 325.1,444.7 327.7,440.9 C330.3,437.1 332.4,434.4 335.9,430.2 C339.4,426.0 344.0,420.5 348.9,415.6 C353.8,410.7 359.6,406.1 365.0,401.0 C370.4,395.9 377.0,388.8 381.2,384.9 C385.4,381.0 385.8,380.3 390.0,377.4 C394.2,374.5 400.8,370.8 406.2,367.7 C411.6,364.6 416.5,362.3 422.4,358.6 C428.3,354.9 435.9,348.5 441.8,345.7 C447.7,342.9 452.6,343.8 458.0,341.8 C463.4,339.8 468.7,336.4 474.1,333.7 C479.5,331.0 486.0,327.3 490.3,325.6 C494.6,323.9 496.6,323.7 500.0,323.3 C503.4,322.9 507.4,323.6 510.4,323.1 C513.4,322.6 516.0,321.8 518.1,320.5 C520.2,319.2 521.1,317.5 523.3,315.3 C525.5,313.1 528.3,309.8 531.1,307.5 C533.9,305.2 537.3,302.9 540.1,301.7 C542.9,300.4 545.5,300.8 547.9,300.0 C550.3,299.2 552.0,298.1 554.4,297.2 C556.8,296.3 559.5,295.9 562.1,294.6 C564.7,293.3 567.5,290.9 569.9,289.4 C572.3,287.9 574.2,287.2 576.4,285.5 C578.5,283.8 580.9,280.9 582.8,279.1 C584.7,277.3 586.0,275.9 588.0,274.5 C590.0,273.1 592.5,271.6 594.5,270.6 C596.5,269.6 598.0,269.2 600.0,268.7 C602.0,268.2 604.4,268.0 606.5,267.8 C608.6,267.6 610.8,267.8 612.9,267.4 C615.0,267.0 617.2,266.3 619.4,265.2 C621.6,264.1 623.7,262.5 625.9,260.7 C628.1,258.9 630.7,256.2 632.4,254.2 C634.1,252.1 634.9,250.3 636.2,248.4 C637.5,246.5 638.5,244.6 640.1,242.6 C641.7,240.6 643.0,239.1 645.8,236.5 C648.6,233.9 653.1,230.0 657.1,226.8 C661.1,223.6 665.7,220.6 670.0,217.1 C674.3,213.6 678.7,209.0 683.0,205.8 C687.3,202.6 691.9,199.9 695.9,197.7 C699.9,195.5 703.4,195.8 707.2,192.8 C711.0,189.8 714.6,184.2 718.6,179.9 C722.6,175.6 727.2,170.5 731.5,166.9 C735.8,163.3 739.3,161.0 744.5,158.2 C749.7,155.4 757.7,152.4 762.9,150.0 C768.1,147.6 772.1,144.9 775.9,143.5 C779.7,142.1 782.4,142.8 785.6,141.6 C788.8,140.4 791.5,138.5 795.3,136.1 C799.1,133.7 805.1,129.0 808.3,127.3 C811.5,125.6 811.5,126.9 814.7,125.7 C817.9,124.5 823.4,121.8 827.7,119.9 C832.0,118.0 836.3,116.3 840.6,114.4 C844.9,112.5 849.3,110.3 853.6,108.5 C857.9,106.7 862.2,105.3 866.5,103.7 C870.8,102.1 875.1,100.7 879.4,98.8 C883.7,96.9 888.1,94.5 892.4,92.4 C896.7,90.4 901.0,88.2 905.3,86.5 C909.6,84.8 914.5,83.1 918.3,82.0 C922.1,80.9 926.4,80.4 928.0,80.1 C929.6,79.8 926.9,80.7 928.0,80.1 C929.1,79.5 932.5,77.2 934.8,76.6 C937.1,76.0 939.2,76.4 941.8,76.4 C944.3,76.4 947.8,76.0 950.1,76.4 C952.4,76.8 953.6,78.0 955.7,78.6 C957.8,79.2 960.3,79.6 962.6,80.2 C964.9,80.8 967.3,81.4 969.6,82.3 C971.9,83.2 974.2,84.7 976.5,85.7 C978.8,86.7 981.2,87.7 983.5,88.5 C985.8,89.3 988.2,90.0 990.5,90.3 C992.8,90.6 994.9,90.5 997.4,90.3 C999.9,90.1 1003.2,89.3 1005.8,89.2 C1008.3,89.1 1010.6,90.0 1012.7,89.9 C1014.8,89.9 1016.2,89.2 1018.3,88.9 C1020.4,88.6 1023.0,88.6 1025.3,88.1 C1027.6,87.6 1029.9,86.3 1032.2,85.7 C1034.5,85.1 1036.9,84.8 1039.2,84.4 C1041.5,84.0 1043.8,83.5 1046.1,83.4 C1048.4,83.3 1050.8,83.5 1053.1,83.7 C1055.4,83.9 1057.8,84.2 1060.1,84.4 C1062.4,84.6 1064.7,84.8 1067.0,85.1 C1069.3,85.4 1071.7,85.8 1074.0,86.4 C1076.3,87.0 1078.6,87.1 1080.9,88.5 C1083.2,89.9 1085.6,92.6 1087.9,94.8 C1090.2,97.0 1092.5,99.2 1094.8,101.8 C1097.1,104.4 1099.0,106.7 1101.8,110.2 C1104.6,113.8 1108.3,119.1 1111.5,123.1 C1114.7,127.1 1118.1,130.8 1121.2,134.4 C1124.3,138.0 1126.9,141.2 1130.0,144.9 C1133.1,148.6 1136.5,152.2 1139.7,156.8 C1142.9,161.4 1146.2,167.7 1149.4,172.4 C1152.6,177.2 1155.6,181.0 1159.1,185.3 C1162.6,189.6 1167.3,194.0 1170.5,198.3 C1173.7,202.6 1175.8,206.1 1178.5,211.2 C1181.2,216.3 1183.9,223.1 1186.6,229.0 C1189.3,234.9 1192.0,240.3 1194.7,246.8 C1197.4,253.3 1200.1,261.3 1202.8,267.8 C1205.5,274.3 1208.2,279.4 1210.9,285.6 C1213.6,291.8 1216.3,299.3 1219.0,305.0 C1221.7,310.7 1224.2,314.1 1227.1,319.6 C1230.0,325.1 1233.1,332.3 1236.2,337.8 C1239.3,343.3 1242.7,347.8 1245.9,352.4 C1249.1,357.0 1251.8,360.4 1255.6,365.3 C1259.4,370.2 1264.7,376.6 1268.5,381.5 C1272.3,386.4 1275.0,390.1 1278.3,394.4 C1281.5,398.7 1284.8,402.5 1288.0,407.4 C1291.2,412.3 1294.5,418.2 1297.7,423.6 C1300.9,429.0 1304.2,434.9 1307.4,439.7 C1310.6,444.5 1313.9,448.1 1317.1,452.7 C1320.3,457.3 1323.8,462.8 1326.8,467.2 C1329.8,471.6 1332.3,475.4 1334.9,479.3 C1337.5,483.2 1339.5,486.5 1342.3,490.5 C1345.1,494.5 1348.5,499.8 1351.6,503.5 C1354.7,507.2 1357.8,509.8 1360.9,512.8 C1364.0,515.8 1367.1,518.7 1370.2,521.2 C1373.3,523.7 1376.4,525.5 1379.5,527.7 C1382.6,529.9 1385.5,532.0 1388.8,534.2 C1392.1,536.4 1397.7,539.6 1399.6,540.7 C1401.5,541.8 1399.9,540.7 1400.0,540.7 L1400.0,575.7 C1399.9,575.7 1403.0,575.8 1399.6,575.7 C1396.2,575.6 1385.0,575.4 1379.5,575.1 C1374.0,574.8 1370.5,574.3 1366.5,573.8 C1362.5,573.3 1359.0,572.6 1355.3,571.9 C1351.6,571.2 1347.9,570.4 1344.2,569.5 C1340.5,568.6 1336.7,567.8 1333.0,566.7 C1329.3,565.6 1325.5,565.2 1321.8,563.0 C1318.1,560.8 1314.4,557.1 1310.7,553.7 C1307.0,550.3 1303.2,546.5 1299.5,542.5 C1295.8,538.5 1292.1,534.5 1288.4,529.5 C1284.7,524.5 1280.9,518.4 1277.2,512.8 C1273.5,507.2 1269.1,500.8 1266.0,496.0 C1262.9,491.2 1260.9,487.8 1258.6,484.0 C1256.3,480.2 1254.2,476.1 1252.0,473.0 C1249.8,469.9 1248.2,470.1 1245.6,465.7 C1242.9,461.3 1239.2,453.1 1236.1,446.8 C1232.9,440.5 1229.8,434.1 1226.7,427.8 C1223.6,421.5 1220.4,415.2 1217.2,408.9 C1214.0,402.6 1210.6,395.8 1207.7,390.0 C1204.8,384.2 1203.0,380.0 1200.0,374.0 C1197.0,368.0 1193.6,361.2 1190.0,354.0 C1186.4,346.8 1182.0,338.0 1178.5,330.9 C1175.0,323.8 1172.0,318.0 1168.8,311.5 C1165.6,305.0 1162.3,299.1 1159.1,292.1 C1155.9,285.1 1152.6,276.4 1149.4,269.4 C1146.2,262.4 1142.9,255.6 1140.0,250.0 C1137.1,244.4 1134.6,240.2 1132.0,236.0 C1129.4,231.8 1127.4,229.0 1124.5,225.0 C1121.6,221.0 1118.0,216.4 1114.8,212.1 C1111.5,207.8 1108.2,203.0 1105.0,199.2 C1101.8,195.4 1099.1,192.7 1095.3,189.4 C1091.5,186.2 1086.7,182.6 1082.4,179.7 C1078.1,176.8 1073.7,174.1 1069.4,171.7 C1065.1,169.3 1060.8,167.1 1056.5,165.2 C1052.2,163.3 1047.1,161.4 1043.6,160.3 C1040.1,159.2 1038.8,158.7 1035.5,158.7 C1032.2,158.7 1027.9,159.6 1024.1,160.3 C1020.3,161.0 1016.6,162.4 1012.8,162.9 C1009.0,163.4 1005.5,163.6 1001.5,163.6 C997.5,163.6 993.4,162.6 988.5,162.9 C983.6,163.2 976.7,164.5 972.4,165.2 C968.1,165.8 969.0,166.5 962.7,166.8 C956.4,167.1 940.8,166.0 934.5,166.8 C928.2,167.6 928.6,170.0 924.8,171.7 C921.0,173.4 916.1,175.3 911.8,177.2 C907.5,179.1 902.7,181.1 898.9,183.0 C895.1,184.9 892.5,186.9 889.2,188.8 C886.0,190.7 883.7,192.5 879.4,194.3 C875.1,196.1 868.7,198.4 863.3,199.8 C857.9,201.2 852.5,201.8 847.1,203.0 C841.7,204.2 835.8,205.8 830.9,207.2 C826.0,208.6 821.8,210.2 818.0,211.5 C814.2,212.8 811.3,214.3 808.3,215.3 C805.3,216.3 803.5,216.0 800.2,217.6 C797.0,219.2 792.6,222.1 788.8,225.0 C785.0,227.9 780.7,232.8 777.5,234.8 C774.3,236.9 772.4,236.0 769.4,237.3 C766.4,238.6 762.9,241.1 759.7,242.8 C756.5,244.5 753.6,246.3 750.0,247.7 C746.4,249.1 742.7,249.0 738.0,251.1 C733.3,253.2 725.4,258.4 721.8,260.5 C718.2,262.6 718.5,262.8 716.5,264.0 C714.5,265.2 712.1,266.4 710.0,267.8 C707.9,269.2 705.8,271.1 703.6,272.4 C701.5,273.7 699.3,274.8 697.1,275.6 C694.9,276.5 692.8,276.9 690.6,277.5 C688.4,278.1 686.2,278.9 684.1,279.5 C682.0,280.1 679.9,280.9 677.7,281.4 C675.6,281.9 673.4,282.0 671.2,282.7 C669.0,283.4 666.9,284.4 664.7,285.3 C662.6,286.2 660.4,287.1 658.3,287.9 C656.1,288.6 654.0,288.8 651.8,289.8 C649.6,290.8 647.5,292.3 645.3,293.7 C643.1,295.1 640.9,296.9 638.8,298.3 C636.6,299.7 634.5,300.8 632.4,302.1 C630.2,303.4 628.1,304.5 625.9,306.0 C623.7,307.5 621.6,309.7 619.4,311.2 C617.2,312.7 615.5,313.1 612.9,315.1 C610.3,317.1 606.5,320.7 603.6,323.1 C600.8,325.5 598.0,327.6 595.8,329.5 C593.6,331.4 592.8,332.8 590.6,334.7 C588.4,336.6 585.1,339.5 582.8,341.2 C580.5,342.9 579.4,343.5 577.0,344.7 C574.6,345.9 571.5,347.2 568.6,348.6 C565.8,350.0 562.8,351.3 559.9,352.8 C557.0,354.3 554.0,356.0 551.1,357.7 C548.2,359.4 545.3,361.2 542.4,362.8 C539.5,364.4 536.6,365.5 533.7,367.1 C530.8,368.7 527.8,370.4 524.9,372.2 C522.0,374.0 519.1,376.2 516.2,378.0 C513.3,379.8 510.4,381.8 507.5,383.1 C504.6,384.4 502.1,384.2 498.7,386.0 C495.3,387.8 491.7,391.0 487.1,393.6 C482.5,396.2 476.3,398.7 470.9,401.7 C465.5,404.7 460.1,408.7 454.7,411.4 C449.3,414.1 443.9,415.1 438.5,417.8 C433.1,420.5 427.8,424.3 422.4,427.5 C417.0,430.7 409.9,434.9 406.2,437.2 C402.5,439.5 402.3,439.6 400.0,441.2 C397.7,442.8 394.8,445.0 392.3,446.5 C389.8,448.0 388.1,448.9 385.2,450.1 C382.2,451.3 377.9,451.5 374.6,453.6 C371.4,455.7 368.7,459.8 365.7,462.5 C362.7,465.2 359.7,467.6 356.8,469.6 C353.9,471.6 351.4,472.6 348.3,474.6 C345.2,476.6 341.8,479.8 338.5,481.8 C335.2,483.8 332.0,485.1 328.8,486.7 C325.6,488.3 322.3,489.9 319.1,491.6 C315.9,493.4 312.6,495.2 309.4,497.2 C306.2,499.2 302.9,501.5 299.7,503.7 C296.5,505.9 292.2,508.9 290.0,510.2 C287.8,511.5 289.0,509.7 286.4,511.3 C283.8,512.9 278.7,516.4 274.3,519.8 C269.9,523.2 263.9,528.6 260.0,531.7 C256.1,534.8 253.7,536.6 250.9,538.2 C248.1,539.8 245.8,540.3 243.2,541.4 C240.6,542.5 238.0,544.0 235.4,544.6 C232.8,545.2 230.2,545.1 227.6,545.3 C225.0,545.5 222.5,545.5 219.9,545.9 C217.3,546.3 214.7,547.1 212.1,547.9 C209.5,548.7 207.0,549.5 204.4,550.5 C201.8,551.5 199.2,552.7 196.6,553.7 C194.0,554.7 191.4,555.4 188.8,556.3 C186.2,557.2 183.7,558.0 181.1,558.9 C178.5,559.8 175.9,560.8 173.3,561.5 C170.7,562.2 168.1,562.8 165.5,563.4 C162.9,564.0 160.1,564.8 157.8,565.4 C155.5,566.0 153.9,566.0 151.6,566.7 C149.2,567.4 146.7,568.4 143.7,569.4 C140.7,570.4 137.4,571.8 133.5,572.7 C129.6,573.6 124.2,574.6 120.0,575.0 C115.8,575.4 110.5,575.0 108.6,575.0 Z" fill="#1f3864" fill-opacity="0.70"/>
<path d="M108.6,575.0 C110.5,575.0 115.8,575.4 120.0,575.0 C124.2,574.6 129.6,573.6 133.5,572.7 C137.4,571.8 140.7,570.4 143.7,569.4 C146.7,568.4 149.2,567.4 151.6,566.7 C153.9,566.0 155.5,566.0 157.8,565.4 C160.1,564.8 162.9,564.0 165.5,563.4 C168.1,562.8 170.7,562.2 173.3,561.5 C175.9,560.8 178.5,559.8 181.1,558.9 C183.7,558.0 186.2,557.2 188.8,556.3 C191.4,555.4 194.0,554.7 196.6,553.7 C199.2,552.7 201.8,551.5 204.4,550.5 C207.0,549.5 209.5,548.7 212.1,547.9 C214.7,547.1 217.3,546.3 219.9,545.9 C222.5,545.5 225.0,545.5 227.6,545.3 C230.2,545.1 232.8,545.2 235.4,544.6 C238.0,544.0 240.6,542.5 243.2,541.4 C245.8,540.3 248.1,539.8 250.9,538.2 C253.7,536.6 256.1,534.8 260.0,531.7 C263.9,528.6 269.9,523.2 274.3,519.8 C278.7,516.4 283.8,512.9 286.4,511.3 C289.0,509.7 287.8,511.5 290.0,510.2 C292.2,508.9 296.5,505.9 299.7,503.7 C302.9,501.5 306.2,499.2 309.4,497.2 C312.6,495.2 315.9,493.4 319.1,491.6 C322.3,489.9 325.6,488.3 328.8,486.7 C332.0,485.1 335.2,483.8 338.5,481.8 C341.8,479.8 345.2,476.6 348.3,474.6 C351.4,472.6 353.9,471.6 356.8,469.6 C359.7,467.6 362.7,465.2 365.7,462.5 C368.7,459.8 371.4,455.7 374.6,453.6 C377.9,451.5 382.2,451.3 385.2,450.1 C388.1,448.9 389.8,448.0 392.3,446.5 C394.8,445.0 397.7,442.8 400.0,441.2 C402.3,439.6 402.5,439.5 406.2,437.2 C409.9,434.9 417.0,430.7 422.4,427.5 C427.8,424.3 433.1,420.5 438.5,417.8 C443.9,415.1 449.3,414.1 454.7,411.4 C460.1,408.7 465.5,404.7 470.9,401.7 C476.3,398.7 482.5,396.2 487.1,393.6 C491.7,391.0 495.3,387.8 498.7,386.0 C502.1,384.2 504.6,384.4 507.5,383.1 C510.4,381.8 513.3,379.8 516.2,378.0 C519.1,376.2 522.0,374.0 524.9,372.2 C527.8,370.4 530.8,368.7 533.7,367.1 C536.6,365.5 539.5,364.4 542.4,362.8 C545.3,361.2 548.2,359.4 551.1,357.7 C554.0,356.0 557.0,354.3 559.9,352.8 C562.8,351.3 565.8,350.0 568.6,348.6 C571.5,347.2 574.6,345.9 577.0,344.7 C579.4,343.5 580.5,342.9 582.8,341.2 C585.1,339.5 588.4,336.6 590.6,334.7 C592.8,332.8 593.6,331.4 595.8,329.5 C598.0,327.6 600.8,325.5 603.6,323.1 C606.5,320.7 610.3,317.1 612.9,315.1 C615.5,313.1 617.2,312.7 619.4,311.2 C621.6,309.7 623.7,307.5 625.9,306.0 C628.1,304.5 630.2,303.4 632.4,302.1 C634.5,300.8 636.6,299.7 638.8,298.3 C640.9,296.9 643.1,295.1 645.3,293.7 C647.5,292.3 649.6,290.8 651.8,289.8 C654.0,288.8 656.1,288.6 658.3,287.9 C660.4,287.1 662.6,286.2 664.7,285.3 C666.9,284.4 669.0,283.4 671.2,282.7 C673.4,282.0 675.6,281.9 677.7,281.4 C679.9,280.9 682.0,280.1 684.1,279.5 C686.2,278.9 688.4,278.1 690.6,277.5 C692.8,276.9 694.9,276.5 697.1,275.6 C699.3,274.8 701.5,273.7 703.6,272.4 C705.8,271.1 707.9,269.2 710.0,267.8 C712.1,266.4 714.5,265.2 716.5,264.0 C718.5,262.8 718.2,262.6 721.8,260.5 C725.4,258.4 733.3,253.2 738.0,251.1 C742.7,249.0 746.4,249.1 750.0,247.7 C753.6,246.3 756.5,244.5 759.7,242.8 C762.9,241.1 766.4,238.6 769.4,237.3 C772.4,236.0 774.3,236.9 777.5,234.8 C780.7,232.8 785.0,227.9 788.8,225.0 C792.6,222.1 797.0,219.2 800.2,217.6 C803.5,216.0 805.3,216.3 808.3,215.3 C811.3,214.3 814.2,212.8 818.0,211.5 C821.8,210.2 826.0,208.6 830.9,207.2 C835.8,205.8 841.7,204.2 847.1,203.0 C852.5,201.8 857.9,201.2 863.3,199.8 C868.7,198.4 875.1,196.1 879.4,194.3 C883.7,192.5 886.0,190.7 889.2,188.8 C892.5,186.9 895.1,184.9 898.9,183.0 C902.7,181.1 907.5,179.1 911.8,177.2 C916.1,175.3 921.0,173.4 924.8,171.7 C928.6,170.0 928.2,167.6 934.5,166.8 C940.8,166.0 956.4,167.1 962.7,166.8 C969.0,166.5 968.1,165.8 972.4,165.2 C976.7,164.5 983.6,163.2 988.5,162.9 C993.4,162.6 997.5,163.6 1001.5,163.6 C1005.5,163.6 1009.0,163.4 1012.8,162.9 C1016.6,162.4 1020.3,161.0 1024.1,160.3 C1027.9,159.6 1032.2,158.7 1035.5,158.7 C1038.8,158.7 1040.1,159.2 1043.6,160.3 C1047.1,161.4 1052.2,163.3 1056.5,165.2 C1060.8,167.1 1065.1,169.3 1069.4,171.7 C1073.7,174.1 1078.1,176.8 1082.4,179.7 C1086.7,182.6 1091.5,186.2 1095.3,189.4 C1099.1,192.7 1101.8,195.4 1105.0,199.2 C1108.2,203.0 1111.5,207.8 1114.8,212.1 C1118.0,216.4 1121.6,221.0 1124.5,225.0 C1127.4,229.0 1129.4,231.8 1132.0,236.0 C1134.6,240.2 1137.1,244.4 1140.0,250.0 C1142.9,255.6 1146.2,262.4 1149.4,269.4 C1152.6,276.4 1155.9,285.1 1159.1,292.1 C1162.3,299.1 1165.6,305.0 1168.8,311.5 C1172.0,318.0 1175.0,323.8 1178.5,330.9 C1182.0,338.0 1186.4,346.8 1190.0,354.0 C1193.6,361.2 1197.0,368.0 1200.0,374.0 C1203.0,380.0 1204.8,384.2 1207.7,390.0 C1210.6,395.8 1214.0,402.6 1217.2,408.9 C1220.4,415.2 1223.6,421.5 1226.7,427.8 C1229.8,434.1 1232.9,440.5 1236.1,446.8 C1239.2,453.1 1242.9,461.3 1245.6,465.7 C1248.2,470.1 1249.8,469.9 1252.0,473.0 C1254.2,476.1 1256.3,480.2 1258.6,484.0 C1260.9,487.8 1262.9,491.2 1266.0,496.0 C1269.1,500.8 1273.5,507.2 1277.2,512.8 C1280.9,518.4 1284.7,524.5 1288.4,529.5 C1292.1,534.5 1295.8,538.5 1299.5,542.5 C1303.2,546.5 1307.0,550.3 1310.7,553.7 C1314.4,557.1 1318.1,560.8 1321.8,563.0 C1325.5,565.2 1329.3,565.6 1333.0,566.7 C1336.7,567.8 1340.5,568.6 1344.2,569.5 C1347.9,570.4 1351.6,571.2 1355.3,571.9 C1359.0,572.6 1362.5,573.3 1366.5,573.8 C1370.5,574.3 1374.0,574.8 1379.5,575.1 C1385.0,575.4 1396.2,575.6 1399.6,575.7 C1403.0,575.8 1399.9,575.7 1400.0,575.7 L1400.0,577.3 C1399.9,577.3 1407.9,577.3 1399.6,577.3 C1391.3,577.2 1361.1,577.2 1350.0,577.0 C1338.9,576.8 1337.1,576.5 1333.0,576.0 C1328.9,575.5 1328.1,575.1 1325.6,574.2 C1323.1,573.3 1320.6,572.0 1318.1,570.4 C1315.6,568.8 1313.5,566.8 1310.7,564.9 C1307.9,563.0 1304.5,561.5 1301.4,559.3 C1298.3,557.1 1295.2,554.3 1292.1,551.8 C1289.0,549.3 1285.9,547.5 1282.8,544.4 C1279.7,541.3 1276.6,536.9 1273.5,533.2 C1270.4,529.5 1267.3,525.8 1264.2,522.1 C1261.1,518.4 1257.7,514.3 1254.9,510.9 C1252.1,507.5 1249.8,504.6 1247.4,501.6 C1245.0,498.6 1242.3,495.0 1240.5,492.8 C1238.7,490.6 1238.8,490.9 1236.8,488.4 C1234.8,485.9 1231.2,481.4 1228.4,477.9 C1225.6,474.4 1222.8,470.7 1220.0,467.4 C1217.2,464.1 1214.4,461.1 1211.6,457.9 C1208.8,454.7 1206.0,451.7 1203.2,448.4 C1200.4,445.1 1197.5,441.2 1194.7,437.9 C1191.9,434.6 1188.8,432.0 1186.3,428.7 C1183.8,425.4 1182.1,421.7 1179.9,418.2 C1177.8,414.7 1175.6,411.3 1173.4,407.7 C1171.2,404.1 1169.1,400.1 1166.9,396.3 C1164.8,392.5 1162.9,389.0 1160.5,385.0 C1158.1,381.0 1155.1,376.2 1152.4,372.1 C1149.7,368.1 1146.7,363.7 1144.3,360.7 C1141.9,357.7 1140.0,357.5 1137.8,354.3 C1135.6,351.1 1133.3,345.4 1131.3,341.3 C1129.3,337.2 1127.4,333.4 1125.7,330.0 C1124.0,326.6 1123.6,324.3 1121.2,320.6 C1118.8,316.9 1114.7,312.0 1111.5,307.7 C1108.3,303.4 1105.0,299.0 1101.8,294.7 C1098.6,290.4 1095.3,286.1 1092.1,281.8 C1088.9,277.5 1085.6,273.0 1082.4,268.8 C1079.2,264.6 1076.5,260.5 1072.7,256.5 C1068.9,252.5 1064.0,247.8 1059.7,244.6 C1055.4,241.4 1050.9,239.4 1046.8,237.5 C1042.7,235.6 1038.8,234.8 1035.0,233.0 C1031.2,231.2 1028.1,229.6 1024.1,226.7 C1020.1,223.8 1015.5,218.8 1011.2,215.3 C1006.9,211.8 1002.3,208.0 998.3,205.6 C994.2,203.2 990.7,201.5 986.9,200.8 C983.1,200.2 979.1,201.3 975.6,201.7 C972.1,202.1 969.7,202.3 965.9,203.0 C962.1,203.7 957.2,204.7 952.9,205.6 C948.6,206.5 944.1,207.7 940.0,208.5 C935.9,209.3 932.7,209.4 928.0,210.5 C923.3,211.6 917.2,213.4 911.8,215.3 C906.4,217.2 901.0,219.8 895.6,221.8 C890.2,223.9 884.8,225.1 879.4,227.6 C874.0,230.1 868.7,234.0 863.3,237.0 C857.9,240.0 852.5,242.9 847.1,245.5 C841.7,248.1 836.3,250.3 830.9,252.6 C825.5,254.9 820.1,256.9 814.7,259.1 C809.3,261.3 803.9,263.7 798.5,265.6 C793.1,267.5 787.8,268.6 782.4,270.5 C777.0,272.4 771.6,275.0 766.2,276.9 C760.8,278.8 754.7,279.9 750.0,281.8 C745.3,283.7 742.7,286.2 738.0,288.1 C733.3,290.0 726.0,291.8 721.8,293.1 C717.6,294.4 715.6,294.6 712.6,295.7 C709.6,296.8 707.3,297.6 703.6,299.5 C699.9,301.4 694.9,304.7 690.6,307.3 C686.3,309.9 682.0,312.8 677.7,315.1 C673.4,317.4 669.3,318.9 665.0,321.0 C660.7,323.1 656.4,325.4 652.0,327.5 C647.6,329.6 643.1,331.9 638.8,333.9 C634.4,335.9 630.2,338.0 625.9,339.7 C621.6,341.4 617.2,342.6 612.9,344.2 C608.6,345.8 604.1,348.1 600.0,349.4 C595.9,350.7 591.8,350.8 588.0,352.0 C584.2,353.2 581.0,354.9 577.3,356.9 C573.6,358.9 569.1,362.1 565.7,364.2 C562.3,366.3 559.9,368.0 557.0,369.3 C554.1,370.6 552.1,370.9 548.2,372.2 C544.3,373.5 538.6,374.8 533.7,377.3 C528.9,379.9 524.0,384.0 519.1,387.5 C514.2,391.0 509.5,395.0 504.6,398.4 C499.8,401.8 495.6,405.2 490.0,407.9 C484.4,410.6 476.8,412.1 470.9,414.6 C465.0,417.1 460.1,420.0 454.7,422.7 C449.3,425.4 443.9,427.8 438.5,430.8 C433.1,433.8 427.8,437.3 422.4,440.5 C417.0,443.7 411.0,446.9 406.2,450.2 C401.4,453.4 396.8,457.6 393.6,460.0 C390.4,462.4 389.8,463.0 387.1,464.9 C384.4,466.8 380.6,469.1 377.4,471.3 C374.2,473.5 370.9,475.6 367.7,477.8 C364.5,480.0 361.2,482.3 358.0,484.3 C354.8,486.3 351.6,488.0 348.3,489.9 C345.1,491.8 341.8,493.8 338.5,495.6 C335.2,497.4 332.0,498.9 328.8,500.5 C325.6,502.1 322.3,503.7 319.1,505.3 C315.9,506.9 312.6,508.4 309.4,510.2 C306.2,511.9 302.9,514.0 299.7,515.8 C296.5,517.5 294.2,518.0 290.0,520.7 C285.8,523.4 278.9,529.0 274.3,531.9 C269.7,534.8 266.0,536.2 262.1,538.0 C258.2,539.8 254.1,541.4 250.9,542.7 C247.8,544.0 245.8,544.7 243.2,545.9 C240.6,547.1 238.0,548.6 235.4,549.8 C232.8,551.0 230.2,552.1 227.6,553.1 C225.0,554.1 222.5,554.6 219.9,555.6 C217.3,556.6 214.7,558.0 212.1,558.9 C209.5,559.8 207.0,560.3 204.4,560.8 C201.8,561.3 199.2,561.7 196.6,562.1 C194.0,562.5 191.4,562.9 188.8,563.4 C186.2,563.9 183.7,564.6 181.1,565.4 C178.5,566.1 175.9,567.1 173.3,567.9 C170.7,568.6 168.1,569.4 165.5,569.9 C162.9,570.4 160.4,570.6 157.8,570.9 C155.2,571.2 152.9,571.4 150.0,571.8 C147.1,572.2 144.5,572.6 140.3,573.2 C136.1,573.8 130.3,575.1 125.0,575.5 C119.7,575.9 111.3,575.5 108.6,575.5 Z" fill="#0070c0" fill-opacity="0.70"/>
<path d="M108.6,575.5 C111.3,575.5 119.7,575.9 125.0,575.5 C130.3,575.1 136.1,573.8 140.3,573.2 C144.5,572.6 147.1,572.2 150.0,571.8 C152.9,571.4 155.2,571.2 157.8,570.9 C160.4,570.6 162.9,570.4 165.5,569.9 C168.1,569.4 170.7,568.6 173.3,567.9 C175.9,567.1 178.5,566.1 181.1,565.4 C183.7,564.6 186.2,563.9 188.8,563.4 C191.4,562.9 194.0,562.5 196.6,562.1 C199.2,561.7 201.8,561.3 204.4,560.8 C207.0,560.3 209.5,559.8 212.1,558.9 C214.7,558.0 217.3,556.6 219.9,555.6 C222.5,554.6 225.0,554.1 227.6,553.1 C230.2,552.1 232.8,551.0 235.4,549.8 C238.0,548.6 240.6,547.1 243.2,545.9 C245.8,544.7 247.8,544.0 250.9,542.7 C254.1,541.4 258.2,539.8 262.1,538.0 C266.0,536.2 269.7,534.8 274.3,531.9 C278.9,529.0 285.8,523.4 290.0,520.7 C294.2,518.0 296.5,517.5 299.7,515.8 C302.9,514.0 306.2,511.9 309.4,510.2 C312.6,508.4 315.9,506.9 319.1,505.3 C322.3,503.7 325.6,502.1 328.8,500.5 C332.0,498.9 335.2,497.4 338.5,495.6 C341.8,493.8 345.1,491.8 348.3,489.9 C351.6,488.0 354.8,486.3 358.0,484.3 C361.2,482.3 364.5,480.0 367.7,477.8 C370.9,475.6 374.2,473.5 377.4,471.3 C380.6,469.1 384.4,466.8 387.1,464.9 C389.8,463.0 390.4,462.4 393.6,460.0 C396.8,457.6 401.4,453.4 406.2,450.2 C411.0,446.9 417.0,443.7 422.4,440.5 C427.8,437.3 433.1,433.8 438.5,430.8 C443.9,427.8 449.3,425.4 454.7,422.7 C460.1,420.0 465.0,417.1 470.9,414.6 C476.8,412.1 484.4,410.6 490.0,407.9 C495.6,405.2 499.8,401.8 504.6,398.4 C509.5,395.0 514.2,391.0 519.1,387.5 C524.0,384.0 528.9,379.9 533.7,377.3 C538.6,374.8 544.3,373.5 548.2,372.2 C552.1,370.9 554.1,370.6 557.0,369.3 C559.9,368.0 562.3,366.3 565.7,364.2 C569.1,362.1 573.6,358.9 577.3,356.9 C581.0,354.9 584.2,353.2 588.0,352.0 C591.8,350.8 595.9,350.7 600.0,349.4 C604.1,348.1 608.6,345.8 612.9,344.2 C617.2,342.6 621.6,341.4 625.9,339.7 C630.2,338.0 634.4,335.9 638.8,333.9 C643.1,331.9 647.6,329.6 652.0,327.5 C656.4,325.4 660.7,323.1 665.0,321.0 C669.3,318.9 673.4,317.4 677.7,315.1 C682.0,312.8 686.3,309.9 690.6,307.3 C694.9,304.7 699.9,301.4 703.6,299.5 C707.3,297.6 709.6,296.8 712.6,295.7 C715.6,294.6 717.6,294.4 721.8,293.1 C726.0,291.8 733.3,290.0 738.0,288.1 C742.7,286.2 745.3,283.7 750.0,281.8 C754.7,279.9 760.8,278.8 766.2,276.9 C771.6,275.0 777.0,272.4 782.4,270.5 C787.8,268.6 793.1,267.5 798.5,265.6 C803.9,263.7 809.3,261.3 814.7,259.1 C820.1,256.9 825.5,254.9 830.9,252.6 C836.3,250.3 841.7,248.1 847.1,245.5 C852.5,242.9 857.9,240.0 863.3,237.0 C868.7,234.0 874.0,230.1 879.4,227.6 C884.8,225.1 890.2,223.9 895.6,221.8 C901.0,219.8 906.4,217.2 911.8,215.3 C917.2,213.4 923.3,211.6 928.0,210.5 C932.7,209.4 935.9,209.3 940.0,208.5 C944.1,207.7 948.6,206.5 952.9,205.6 C957.2,204.7 962.1,203.7 965.9,203.0 C969.7,202.3 972.1,202.1 975.6,201.7 C979.1,201.3 983.1,200.2 986.9,200.8 C990.7,201.5 994.2,203.2 998.3,205.6 C1002.3,208.0 1006.9,211.8 1011.2,215.3 C1015.5,218.8 1020.1,223.8 1024.1,226.7 C1028.1,229.6 1031.2,231.2 1035.0,233.0 C1038.8,234.8 1042.7,235.6 1046.8,237.5 C1050.9,239.4 1055.4,241.4 1059.7,244.6 C1064.0,247.8 1068.9,252.5 1072.7,256.5 C1076.5,260.5 1079.2,264.6 1082.4,268.8 C1085.6,273.0 1088.9,277.5 1092.1,281.8 C1095.3,286.1 1098.6,290.4 1101.8,294.7 C1105.0,299.0 1108.3,303.4 1111.5,307.7 C1114.7,312.0 1118.8,316.9 1121.2,320.6 C1123.6,324.3 1124.0,326.6 1125.7,330.0 C1127.4,333.4 1129.3,337.2 1131.3,341.3 C1133.3,345.4 1135.6,351.1 1137.8,354.3 C1140.0,357.5 1141.9,357.7 1144.3,360.7 C1146.7,363.7 1149.7,368.1 1152.4,372.1 C1155.1,376.2 1158.1,381.0 1160.5,385.0 C1162.9,389.0 1164.8,392.5 1166.9,396.3 C1169.1,400.1 1171.2,404.1 1173.4,407.7 C1175.6,411.3 1177.8,414.7 1179.9,418.2 C1182.1,421.7 1183.8,425.4 1186.3,428.7 C1188.8,432.0 1191.9,434.6 1194.7,437.9 C1197.5,441.2 1200.4,445.1 1203.2,448.4 C1206.0,451.7 1208.8,454.7 1211.6,457.9 C1214.4,461.1 1217.2,464.1 1220.0,467.4 C1222.8,470.7 1225.6,474.4 1228.4,477.9 C1231.2,481.4 1234.8,485.9 1236.8,488.4 C1238.8,490.9 1238.7,490.6 1240.5,492.8 C1242.3,495.0 1245.0,498.6 1247.4,501.6 C1249.8,504.6 1252.1,507.5 1254.9,510.9 C1257.7,514.3 1261.1,518.4 1264.2,522.1 C1267.3,525.8 1270.4,529.5 1273.5,533.2 C1276.6,536.9 1279.7,541.3 1282.8,544.4 C1285.9,547.5 1289.0,549.3 1292.1,551.8 C1295.2,554.3 1298.3,557.1 1301.4,559.3 C1304.5,561.5 1307.9,563.0 1310.7,564.9 C1313.5,566.8 1315.6,568.8 1318.1,570.4 C1320.6,572.0 1323.1,573.3 1325.6,574.2 C1328.1,575.1 1328.9,575.5 1333.0,576.0 C1337.1,576.5 1338.9,576.8 1350.0,577.0 C1361.1,577.2 1391.3,577.2 1399.6,577.3 C1407.9,577.3 1399.9,577.3 1400.0,577.3 L1400.0,577.3 C1399.9,577.3 1418.8,577.3 1399.6,577.3 C1380.4,577.2 1306.3,577.3 1285.0,577.0 C1263.7,576.7 1275.4,576.2 1271.6,575.7 C1267.8,575.2 1265.9,574.4 1262.3,573.8 C1258.7,573.2 1253.8,573.0 1250.0,572.3 C1246.2,571.6 1243.2,571.0 1239.3,569.8 C1235.4,568.6 1230.9,566.9 1226.7,565.1 C1222.5,563.3 1218.2,561.4 1214.0,558.8 C1209.8,556.2 1205.6,552.7 1201.4,549.3 C1197.2,545.9 1193.0,542.2 1188.8,538.3 C1184.6,534.3 1179.9,530.3 1176.2,525.6 C1172.5,520.9 1169.9,515.1 1166.7,509.9 C1163.5,504.6 1160.5,499.4 1157.3,494.1 C1154.1,488.8 1151.0,483.0 1147.8,478.3 C1144.6,473.6 1142.0,469.4 1138.3,465.7 C1134.6,462.0 1129.9,460.4 1125.7,456.2 C1121.5,452.0 1117.3,446.3 1113.1,440.5 C1108.9,434.7 1104.7,427.6 1100.5,421.5 C1096.3,415.4 1091.9,409.3 1087.9,404.2 C1083.9,399.1 1080.1,395.8 1076.5,391.0 C1072.9,386.2 1069.5,380.3 1066.2,375.6 C1062.9,370.9 1059.7,367.0 1056.5,362.7 C1053.3,358.4 1050.0,354.5 1046.8,349.7 C1043.6,344.9 1040.3,337.9 1037.1,333.6 C1033.9,329.3 1030.6,326.9 1027.4,323.9 C1024.2,320.9 1020.9,318.5 1017.7,315.8 C1014.5,313.1 1011.8,309.9 1008.0,307.7 C1004.2,305.5 999.3,304.4 995.0,302.8 C990.7,301.2 985.9,299.4 982.1,298.0 C978.3,296.6 975.6,296.3 972.4,294.7 C969.2,293.1 966.0,290.4 962.7,288.3 C959.5,286.2 956.0,283.5 952.9,282.4 C949.8,281.3 948.4,281.6 944.2,281.8 C940.1,282.0 933.4,282.0 928.0,283.4 C922.6,284.8 917.2,287.8 911.8,289.9 C906.4,292.0 901.0,294.4 895.6,296.3 C890.2,298.2 884.8,299.9 879.4,301.2 C874.0,302.5 869.8,303.3 863.3,304.4 C856.8,305.5 846.0,305.8 840.6,307.7 C835.2,309.6 835.2,313.1 830.9,315.8 C826.6,318.5 820.1,321.5 814.7,323.9 C809.3,326.3 803.9,327.9 798.5,330.3 C793.1,332.7 787.8,336.2 782.4,338.4 C777.0,340.6 771.6,341.4 766.2,343.3 C760.8,345.2 754.7,348.1 750.0,349.7 C745.3,351.3 742.7,352.0 738.0,352.8 C733.3,353.6 727.2,353.6 721.8,354.4 C716.4,355.2 711.0,356.3 705.6,357.7 C700.2,359.1 694.8,360.6 689.4,362.5 C684.0,364.4 678.7,366.6 673.3,369.0 C667.9,371.4 662.5,375.0 657.1,377.1 C651.7,379.2 646.3,380.3 640.9,381.9 C635.5,383.5 630.1,384.9 624.7,386.8 C619.3,388.7 613.9,390.9 608.5,393.3 C603.1,395.7 597.8,398.7 592.4,401.4 C587.0,404.1 579.9,407.3 576.2,409.4 C572.5,411.5 572.6,412.5 570.0,414.2 C567.4,415.9 564.4,417.1 560.7,419.4 C557.0,421.7 552.0,425.3 547.7,427.8 C543.4,430.3 539.1,432.5 534.8,434.3 C530.5,436.1 526.1,437.4 521.8,438.9 C517.5,440.4 513.2,441.6 508.9,443.4 C504.6,445.2 500.2,447.6 495.9,449.9 C491.6,452.2 487.7,454.5 483.0,457.0 C478.3,459.5 472.4,462.3 467.7,465.0 C463.0,467.7 459.1,470.7 454.8,473.1 C450.5,475.5 446.1,477.7 441.8,479.6 C437.5,481.6 433.2,483.1 428.9,484.8 C424.6,486.5 420.2,488.1 415.9,490.0 C411.6,491.9 406.5,494.6 403.0,496.4 C399.5,498.1 397.6,499.0 395.0,500.5 C392.4,502.0 391.1,503.5 387.1,505.3 C383.1,507.1 376.3,509.6 370.9,511.5 C365.5,513.4 360.1,514.4 354.7,516.5 C349.3,518.6 343.9,521.4 338.5,523.9 C333.1,526.4 327.8,528.9 322.4,531.2 C317.0,533.5 311.6,535.4 306.2,537.7 C300.8,540.0 297.7,541.4 290.0,545.0 C282.3,548.6 267.1,556.2 260.0,559.5 C252.8,562.8 251.4,563.2 247.1,564.7 C242.8,566.2 238.4,567.5 234.1,568.6 C229.8,569.7 225.5,570.3 221.2,571.2 C216.9,572.1 215.1,572.8 208.2,573.8 C201.3,574.8 196.6,576.5 180.0,577.0 C163.4,577.5 120.5,577.0 108.6,577.0 Z" fill="#548235" fill-opacity="0.70"/>
<path d="M108.6,577.0 C120.5,577.0 163.4,577.5 180.0,577.0 C196.6,576.5 201.3,574.8 208.2,573.8 C215.1,572.8 216.9,572.1 221.2,571.2 C225.5,570.3 229.8,569.7 234.1,568.6 C238.4,567.5 242.8,566.2 247.1,564.7 C251.4,563.2 252.8,562.8 260.0,559.5 C267.1,556.2 282.3,548.6 290.0,545.0 C297.7,541.4 300.8,540.0 306.2,537.7 C311.6,535.4 317.0,533.5 322.4,531.2 C327.8,528.9 333.1,526.4 338.5,523.9 C343.9,521.4 349.3,518.6 354.7,516.5 C360.1,514.4 365.5,513.4 370.9,511.5 C376.3,509.6 383.1,507.1 387.1,505.3 C391.1,503.5 392.4,502.0 395.0,500.5 C397.6,499.0 399.5,498.1 403.0,496.4 C406.5,494.6 411.6,491.9 415.9,490.0 C420.2,488.1 424.6,486.5 428.9,484.8 C433.2,483.1 437.5,481.6 441.8,479.6 C446.1,477.7 450.5,475.5 454.8,473.1 C459.1,470.7 463.0,467.7 467.7,465.0 C472.4,462.3 478.3,459.5 483.0,457.0 C487.7,454.5 491.6,452.2 495.9,449.9 C500.2,447.6 504.6,445.2 508.9,443.4 C513.2,441.6 517.5,440.4 521.8,438.9 C526.1,437.4 530.5,436.1 534.8,434.3 C539.1,432.5 543.4,430.3 547.7,427.8 C552.0,425.3 557.0,421.7 560.7,419.4 C564.4,417.1 567.4,415.9 570.0,414.2 C572.6,412.5 572.5,411.5 576.2,409.4 C579.9,407.3 587.0,404.1 592.4,401.4 C597.8,398.7 603.1,395.7 608.5,393.3 C613.9,390.9 619.3,388.7 624.7,386.8 C630.1,384.9 635.5,383.5 640.9,381.9 C646.3,380.3 651.7,379.2 657.1,377.1 C662.5,375.0 667.9,371.4 673.3,369.0 C678.7,366.6 684.0,364.4 689.4,362.5 C694.8,360.6 700.2,359.1 705.6,357.7 C711.0,356.3 716.4,355.2 721.8,354.4 C727.2,353.6 733.3,353.6 738.0,352.8 C742.7,352.0 745.3,351.3 750.0,349.7 C754.7,348.1 760.8,345.2 766.2,343.3 C771.6,341.4 777.0,340.6 782.4,338.4 C787.8,336.2 793.1,332.7 798.5,330.3 C803.9,327.9 809.3,326.3 814.7,323.9 C820.1,321.5 826.6,318.5 830.9,315.8 C835.2,313.1 835.2,309.6 840.6,307.7 C846.0,305.8 856.8,305.5 863.3,304.4 C869.8,303.3 874.0,302.5 879.4,301.2 C884.8,299.9 890.2,298.2 895.6,296.3 C901.0,294.4 906.4,292.0 911.8,289.9 C917.2,287.8 922.6,284.8 928.0,283.4 C933.4,282.0 940.1,282.0 944.2,281.8 C948.4,281.6 949.8,281.3 952.9,282.4 C956.0,283.5 959.5,286.2 962.7,288.3 C966.0,290.4 969.2,293.1 972.4,294.7 C975.6,296.3 978.3,296.6 982.1,298.0 C985.9,299.4 990.7,301.2 995.0,302.8 C999.3,304.4 1004.2,305.5 1008.0,307.7 C1011.8,309.9 1014.5,313.1 1017.7,315.8 C1020.9,318.5 1024.2,320.9 1027.4,323.9 C1030.6,326.9 1033.9,329.3 1037.1,333.6 C1040.3,337.9 1043.6,344.9 1046.8,349.7 C1050.0,354.5 1053.3,358.4 1056.5,362.7 C1059.7,367.0 1062.9,370.9 1066.2,375.6 C1069.5,380.3 1072.9,386.2 1076.5,391.0 C1080.1,395.8 1083.9,399.1 1087.9,404.2 C1091.9,409.3 1096.3,415.4 1100.5,421.5 C1104.7,427.6 1108.9,434.7 1113.1,440.5 C1117.3,446.3 1121.5,452.0 1125.7,456.2 C1129.9,460.4 1134.6,462.0 1138.3,465.7 C1142.0,469.4 1144.6,473.6 1147.8,478.3 C1151.0,483.0 1154.1,488.8 1157.3,494.1 C1160.5,499.4 1163.5,504.6 1166.7,509.9 C1169.9,515.1 1172.5,520.9 1176.2,525.6 C1179.9,530.3 1184.6,534.3 1188.8,538.3 C1193.0,542.2 1197.2,545.9 1201.4,549.3 C1205.6,552.7 1209.8,556.2 1214.0,558.8 C1218.2,561.4 1222.5,563.3 1226.7,565.1 C1230.9,566.9 1235.4,568.6 1239.3,569.8 C1243.2,571.0 1246.2,571.6 1250.0,572.3 C1253.8,573.0 1258.7,573.2 1262.3,573.8 C1265.9,574.4 1267.8,575.2 1271.6,575.7 C1275.4,576.2 1263.7,576.7 1285.0,577.0 C1306.3,577.3 1380.4,577.2 1399.6,577.3 C1418.8,577.3 1399.9,577.3 1400.0,577.3 L1400.0,577.3 C1399.9,577.3 1427.1,577.3 1399.6,577.3 C1372.1,577.2 1264.9,577.5 1235.0,577.0 C1205.1,576.5 1224.8,576.0 1220.3,574.5 C1215.8,573.0 1211.9,571.1 1207.7,568.2 C1203.5,565.3 1199.3,561.1 1195.1,557.2 C1190.9,553.3 1186.7,549.3 1182.5,544.6 C1178.3,539.9 1174.1,534.1 1169.9,528.8 C1165.7,523.5 1161.0,518.2 1157.3,513.0 C1153.6,507.8 1151.0,502.0 1147.8,497.3 C1144.6,492.6 1142.0,489.3 1138.3,484.6 C1134.6,479.9 1129.9,474.1 1125.7,468.9 C1121.5,463.6 1117.7,459.4 1113.1,453.1 C1108.5,446.8 1102.3,436.7 1098.0,431.0 C1093.7,425.3 1090.8,422.9 1087.0,419.0 C1083.2,415.1 1079.3,411.5 1075.5,407.5 C1071.7,403.5 1067.2,399.2 1064.0,395.0 C1060.8,390.8 1059.4,385.9 1056.5,382.1 C1053.6,378.3 1050.0,375.6 1046.8,372.4 C1043.6,369.2 1040.3,365.9 1037.1,362.7 C1033.9,359.5 1030.6,356.2 1027.4,353.0 C1024.2,349.8 1021.5,347.1 1017.7,343.3 C1013.9,339.5 1009.6,333.5 1004.7,330.3 C999.8,327.1 993.9,326.5 988.5,323.9 C983.1,321.3 977.8,317.1 972.4,314.8 C967.0,312.5 960.8,310.9 956.2,310.3 C951.6,309.8 948.6,311.2 945.0,311.5 C941.4,311.8 938.4,311.5 934.5,311.9 C930.6,312.3 925.8,312.9 921.5,314.1 C917.2,315.3 912.9,317.9 908.6,319.0 C904.3,320.1 900.5,320.1 895.6,320.6 C890.7,321.1 884.8,321.4 879.4,322.2 C874.0,323.0 868.7,324.4 863.3,325.5 C857.9,326.6 851.4,326.6 847.1,328.7 C842.8,330.8 840.6,335.4 837.4,338.4 C834.2,341.4 831.5,344.3 827.7,346.5 C823.9,348.7 818.5,350.0 814.7,351.4 C810.9,352.8 808.8,352.5 805.0,354.6 C801.2,356.8 795.9,360.5 792.1,364.3 C788.3,368.1 786.7,374.1 782.4,377.2 C778.1,380.3 770.8,381.7 766.2,382.8 C761.6,383.9 759.2,383.4 755.0,383.8 C750.8,384.2 745.7,384.4 741.2,385.2 C736.8,386.0 732.1,386.2 728.3,388.4 C724.5,390.5 722.4,395.4 718.6,398.1 C714.8,400.8 710.5,403.0 705.6,404.6 C700.7,406.2 694.8,407.0 689.4,407.8 C684.0,408.6 678.7,409.1 673.3,409.4 C667.9,409.7 662.8,409.2 657.1,409.4 C651.4,409.6 644.1,410.2 639.3,410.8 C634.4,411.4 631.8,412.0 628.0,413.0 C624.2,414.0 620.5,415.5 616.7,417.0 C612.9,418.5 609.1,420.4 605.3,422.1 C601.5,423.8 597.8,425.5 594.0,427.2 C590.2,428.9 586.5,431.0 582.7,432.3 C578.9,433.6 575.0,434.2 571.3,435.1 C567.6,436.0 564.6,436.5 560.7,437.6 C556.8,438.7 552.0,440.3 547.7,441.5 C543.4,442.7 539.1,443.6 534.8,444.7 C530.5,445.8 526.1,446.5 521.8,447.9 C517.5,449.3 513.2,451.2 508.9,453.1 C504.6,455.1 500.2,457.0 495.9,459.6 C491.6,462.2 487.7,465.5 483.0,468.7 C478.3,471.9 472.4,476.3 467.7,479.0 C463.0,481.7 459.1,483.2 454.8,484.8 C450.5,486.4 446.1,487.4 441.8,488.7 C437.5,490.0 433.2,491.0 428.9,492.5 C424.6,494.0 420.2,495.8 415.9,497.7 C411.6,499.6 407.3,502.1 403.0,504.2 C398.7,506.2 394.0,508.5 390.3,510.0 C386.6,511.5 383.8,512.4 380.6,513.4 C377.4,514.4 373.6,515.0 370.9,515.8 C368.2,516.6 367.1,517.3 364.4,518.3 C361.7,519.2 359.0,519.8 354.7,521.5 C350.4,523.2 343.9,526.4 338.5,528.8 C333.1,531.2 327.8,533.8 322.4,536.1 C317.0,538.4 311.6,540.2 306.2,542.5 C300.8,544.8 297.7,546.3 290.0,549.8 C282.3,553.3 267.1,560.4 260.0,563.4 C252.8,566.4 251.4,566.5 247.1,567.9 C242.8,569.3 238.4,570.8 234.1,571.8 C229.8,572.8 226.6,573.2 221.2,573.8 C215.8,574.4 208.3,575.0 201.8,575.4 C195.3,575.8 197.9,576.2 182.4,576.4 C166.9,576.6 120.9,576.4 108.6,576.4 Z" fill="#ffff00" fill-opacity="0.72"/>
<path d="M108.6,576.4 C120.9,576.4 166.9,576.6 182.4,576.4 C197.9,576.2 195.3,575.8 201.8,575.4 C208.3,575.0 215.8,574.4 221.2,573.8 C226.6,573.2 229.8,572.8 234.1,571.8 C238.4,570.8 242.8,569.3 247.1,567.9 C251.4,566.5 252.8,566.4 260.0,563.4 C267.1,560.4 282.3,553.3 290.0,549.8 C297.7,546.3 300.8,544.8 306.2,542.5 C311.6,540.2 317.0,538.4 322.4,536.1 C327.8,533.8 333.1,531.2 338.5,528.8 C343.9,526.4 350.4,523.2 354.7,521.5 C359.0,519.8 361.7,519.2 364.4,518.3 C367.1,517.3 368.2,516.6 370.9,515.8 C373.6,515.0 377.4,514.4 380.6,513.4 C383.8,512.4 386.6,511.5 390.3,510.0 C394.0,508.5 398.7,506.2 403.0,504.2 C407.3,502.1 411.6,499.6 415.9,497.7 C420.2,495.8 424.6,494.0 428.9,492.5 C433.2,491.0 437.5,490.0 441.8,488.7 C446.1,487.4 450.5,486.4 454.8,484.8 C459.1,483.2 463.0,481.7 467.7,479.0 C472.4,476.3 478.3,471.9 483.0,468.7 C487.7,465.5 491.6,462.2 495.9,459.6 C500.2,457.0 504.6,455.1 508.9,453.1 C513.2,451.2 517.5,449.3 521.8,447.9 C526.1,446.5 530.5,445.8 534.8,444.7 C539.1,443.6 543.4,442.7 547.7,441.5 C552.0,440.3 556.8,438.7 560.7,437.6 C564.6,436.5 567.6,436.0 571.3,435.1 C575.0,434.2 578.9,433.6 582.7,432.3 C586.5,431.0 590.2,428.9 594.0,427.2 C597.8,425.5 601.5,423.8 605.3,422.1 C609.1,420.4 612.9,418.5 616.7,417.0 C620.5,415.5 624.2,414.0 628.0,413.0 C631.8,412.0 634.4,411.4 639.3,410.8 C644.1,410.2 651.4,409.6 657.1,409.4 C662.8,409.2 667.9,409.7 673.3,409.4 C678.7,409.1 684.0,408.6 689.4,407.8 C694.8,407.0 700.7,406.2 705.6,404.6 C710.5,403.0 714.8,400.8 718.6,398.1 C722.4,395.4 724.5,390.5 728.3,388.4 C732.1,386.2 736.8,386.0 741.2,385.2 C745.7,384.4 750.8,384.2 755.0,383.8 C759.2,383.4 761.6,383.9 766.2,382.8 C770.8,381.7 778.1,380.3 782.4,377.2 C786.7,374.1 788.3,368.1 792.1,364.3 C795.9,360.5 801.2,356.8 805.0,354.6 C808.8,352.5 810.9,352.8 814.7,351.4 C818.5,350.0 823.9,348.7 827.7,346.5 C831.5,344.3 834.2,341.4 837.4,338.4 C840.6,335.4 842.8,330.8 847.1,328.7 C851.4,326.6 857.9,326.6 863.3,325.5 C868.7,324.4 874.0,323.0 879.4,322.2 C884.8,321.4 890.7,321.1 895.6,320.6 C900.5,320.1 904.3,320.1 908.6,319.0 C912.9,317.9 917.2,315.3 921.5,314.1 C925.8,312.9 930.6,312.3 934.5,311.9 C938.4,311.5 941.4,311.8 945.0,311.5 C948.6,311.2 951.6,309.8 956.2,310.3 C960.8,310.9 967.0,312.5 972.4,314.8 C977.8,317.1 983.1,321.3 988.5,323.9 C993.9,326.5 999.8,327.1 1004.7,330.3 C1009.6,333.5 1013.9,339.5 1017.7,343.3 C1021.5,347.1 1024.2,349.8 1027.4,353.0 C1030.6,356.2 1033.9,359.5 1037.1,362.7 C1040.3,365.9 1043.6,369.2 1046.8,372.4 C1050.0,375.6 1053.6,378.3 1056.5,382.1 C1059.4,385.9 1060.8,390.8 1064.0,395.0 C1067.2,399.2 1071.7,403.5 1075.5,407.5 C1079.3,411.5 1083.2,415.1 1087.0,419.0 C1090.8,422.9 1093.7,425.3 1098.0,431.0 C1102.3,436.7 1108.5,446.8 1113.1,453.1 C1117.7,459.4 1121.5,463.6 1125.7,468.9 C1129.9,474.1 1134.6,479.9 1138.3,484.6 C1142.0,489.3 1144.6,492.6 1147.8,497.3 C1151.0,502.0 1153.6,507.8 1157.3,513.0 C1161.0,518.2 1165.7,523.5 1169.9,528.8 C1174.1,534.1 1178.3,539.9 1182.5,544.6 C1186.7,549.3 1190.9,553.3 1195.1,557.2 C1199.3,561.1 1203.5,565.3 1207.7,568.2 C1211.9,571.1 1215.8,573.0 1220.3,574.5 C1224.8,576.0 1205.1,576.5 1235.0,577.0 C1264.9,577.5 1372.1,577.2 1399.6,577.3 C1427.1,577.3 1399.9,577.3 1400.0,577.3 L1400.0,577.3 C1399.9,577.3 1429.6,577.3 1399.6,577.3 C1369.6,577.2 1252.0,577.3 1220.0,577.0 C1188.0,576.7 1211.9,576.3 1207.7,575.5 C1203.5,574.7 1199.3,573.8 1195.1,572.3 C1190.9,570.8 1186.7,568.9 1182.5,566.6 C1178.3,564.4 1174.1,561.4 1169.9,558.8 C1165.7,556.2 1161.5,553.8 1157.3,550.9 C1153.1,548.0 1148.3,544.3 1144.6,541.4 C1140.9,538.5 1138.3,536.6 1135.2,533.5 C1132.1,530.4 1128.9,527.0 1125.7,522.5 C1122.5,518.0 1119.4,512.8 1116.2,506.7 C1113.0,500.6 1110.0,492.2 1106.8,486.2 C1103.6,480.1 1100.4,475.6 1097.3,470.4 C1094.2,465.1 1091.0,460.8 1087.9,454.7 C1084.8,448.6 1081.7,439.2 1078.8,433.5 C1075.9,427.8 1073.5,425.3 1070.5,420.5 C1067.5,415.7 1064.1,409.2 1061.0,404.5 C1057.9,399.8 1054.9,396.2 1052.0,392.5 C1049.1,388.8 1046.6,385.5 1043.6,382.1 C1040.6,378.8 1037.0,375.6 1033.8,372.4 C1030.5,369.2 1027.3,365.7 1024.1,362.7 C1020.9,359.7 1017.6,357.2 1014.4,354.6 C1011.2,352.0 1009.0,348.0 1004.7,347.2 C1000.4,346.4 993.9,349.2 988.5,349.7 C983.1,350.2 979.8,350.3 972.4,350.4 C965.0,350.5 951.6,350.6 944.2,350.4 C936.8,350.2 933.4,348.4 928.0,349.1 C922.6,349.8 917.2,353.0 911.8,354.6 C906.4,356.2 901.0,357.5 895.6,358.8 C890.2,360.1 884.8,361.5 879.4,362.7 C874.0,363.9 868.7,364.8 863.3,365.9 C857.9,367.0 852.5,367.8 847.1,369.2 C841.7,370.6 836.3,371.9 830.9,374.0 C825.5,376.1 820.1,379.7 814.7,382.1 C809.3,384.5 803.9,386.5 798.5,388.6 C793.1,390.8 785.5,393.7 782.4,395.0 C779.3,396.3 781.6,395.9 780.0,396.4 C778.4,396.9 775.2,397.5 772.9,398.1 C770.6,398.7 768.4,399.3 766.1,399.8 C763.8,400.3 761.4,400.6 759.3,401.0 C757.2,401.4 755.5,401.6 753.6,402.1 C751.7,402.6 750.1,403.0 748.0,403.8 C745.9,404.6 743.5,405.9 741.2,407.2 C738.9,408.5 736.7,410.2 734.4,411.7 C732.1,413.2 730.1,414.7 727.6,416.2 C725.1,417.7 722.1,419.7 719.6,420.8 C717.1,421.9 715.6,422.6 712.8,423.0 C710.0,423.4 706.2,423.3 702.6,423.4 C699.0,423.5 695.1,423.4 691.3,423.6 C687.5,423.8 683.0,424.5 680.0,424.7 C677.0,424.9 676.3,424.5 673.3,424.9 C670.3,425.3 665.8,426.5 662.0,427.2 C658.2,427.9 654.5,428.3 650.7,428.9 C646.9,429.5 643.1,430.0 639.3,430.6 C635.5,431.2 631.8,431.5 628.0,432.3 C624.2,433.1 620.5,434.3 616.7,435.7 C612.9,437.1 609.1,439.4 605.3,440.8 C601.5,442.2 597.8,443.2 594.0,444.2 C590.2,445.1 586.5,445.5 582.7,446.5 C578.9,447.5 575.1,448.9 571.3,450.4 C567.5,451.9 564.3,454.3 560.0,455.5 C555.7,456.7 550.0,456.3 545.4,457.8 C540.8,459.3 536.8,462.0 532.5,464.3 C528.2,466.6 523.8,469.7 519.5,471.8 C515.2,473.9 510.9,475.4 506.6,476.8 C502.3,478.2 497.9,478.9 493.6,480.2 C489.3,481.5 485.0,482.8 480.7,484.8 C476.4,486.9 472.0,490.1 467.7,492.5 C463.4,494.9 459.1,497.7 454.8,499.0 C450.5,500.3 446.1,498.8 441.8,500.3 C437.5,501.8 433.2,505.1 428.9,508.1 C424.6,511.1 420.2,515.0 415.9,518.4 C411.6,521.8 407.1,526.4 403.0,528.8 C398.9,531.2 394.2,531.9 391.0,532.8 C387.8,533.7 386.7,533.8 383.9,534.1 C381.1,534.4 377.4,534.7 374.1,534.8 C370.9,534.9 367.6,534.8 364.4,534.8 C361.2,534.8 357.9,534.6 354.7,534.8 C351.5,534.9 348.2,535.0 345.0,535.7 C341.8,536.5 338.5,538.2 335.3,539.3 C332.1,540.4 328.8,541.3 325.6,542.5 C322.4,543.7 319.1,545.0 315.9,546.6 C312.7,548.2 309.7,550.0 306.2,552.2 C302.7,554.4 298.2,558.3 294.9,560.0 C291.6,561.7 289.8,561.3 286.4,562.3 C283.0,563.3 278.4,564.5 274.3,565.9 C270.2,567.3 265.6,569.1 262.1,570.5 C258.6,571.9 257.1,573.4 253.5,574.4 C249.9,575.4 244.9,576.0 240.6,576.4 C236.3,576.8 249.6,576.9 227.6,577.0 C205.6,577.1 128.4,577.0 108.6,577.0 Z" fill="#ff0000" fill-opacity="0.72"/>
<path d="M108.6,576.4 C120.9,576.4 166.9,576.6 182.4,576.4 C197.9,576.2 195.3,575.8 201.8,575.4 C208.3,575.0 215.8,574.4 221.2,573.8 C226.6,573.2 229.8,572.8 234.1,571.8 C238.4,570.8 242.8,569.3 247.1,567.9 C251.4,566.5 252.8,566.4 260.0,563.4 C267.1,560.4 282.3,553.3 290.0,549.8 C297.7,546.3 300.8,544.8 306.2,542.5 C311.6,540.2 317.0,538.4 322.4,536.1 C327.8,533.8 333.1,531.2 338.5,528.8 C343.9,526.4 350.4,523.2 354.7,521.5 C359.0,519.8 361.7,519.2 364.4,518.3 C367.1,517.3 368.2,516.6 370.9,515.8 C373.6,515.0 377.4,514.4 380.6,513.4 C383.8,512.4 386.6,511.5 390.3,510.0 C394.0,508.5 398.7,506.2 403.0,504.2 C407.3,502.1 411.6,499.6 415.9,497.7 C420.2,495.8 424.6,494.0 428.9,492.5 C433.2,491.0 437.5,490.0 441.8,488.7 C446.1,487.4 450.5,486.4 454.8,484.8 C459.1,483.2 463.0,481.7 467.7,479.0 C472.4,476.3 478.3,471.9 483.0,468.7 C487.7,465.5 491.6,462.2 495.9,459.6 C500.2,457.0 504.6,455.1 508.9,453.1 C513.2,451.2 517.5,449.3 521.8,447.9 C526.1,446.5 530.5,445.8 534.8,444.7 C539.1,443.6 543.4,442.7 547.7,441.5 C552.0,440.3 556.8,438.7 560.7,437.6 C564.6,436.5 567.6,436.0 571.3,435.1 C575.0,434.2 578.9,433.6 582.7,432.3 C586.5,431.0 590.2,428.9 594.0,427.2 C597.8,425.5 601.5,423.8 605.3,422.1 C609.1,420.4 612.9,418.5 616.7,417.0 C620.5,415.5 624.2,414.0 628.0,413.0 C631.8,412.0 634.4,411.4 639.3,410.8 C644.1,410.2 651.4,409.6 657.1,409.4 C662.8,409.2 667.9,409.7 673.3,409.4 C678.7,409.1 684.0,408.6 689.4,407.8 C694.8,407.0 700.7,406.2 705.6,404.6 C710.5,403.0 714.8,400.8 718.6,398.1 C722.4,395.4 724.5,390.5 728.3,388.4 C732.1,386.2 736.8,386.0 741.2,385.2 C745.7,384.4 750.8,384.2 755.0,383.8 C759.2,383.4 761.6,383.9 766.2,382.8 C770.8,381.7 778.1,380.3 782.4,377.2 C786.7,374.1 788.3,368.1 792.1,364.3 C795.9,360.5 801.2,356.8 805.0,354.6 C808.8,352.5 810.9,352.8 814.7,351.4 C818.5,350.0 823.9,348.7 827.7,346.5 C831.5,344.3 834.2,341.4 837.4,338.4 C840.6,335.4 842.8,330.8 847.1,328.7 C851.4,326.6 857.9,326.6 863.3,325.5 C868.7,324.4 874.0,323.0 879.4,322.2 C884.8,321.4 890.7,321.1 895.6,320.6 C900.5,320.1 904.3,320.1 908.6,319.0 C912.9,317.9 917.2,315.3 921.5,314.1 C925.8,312.9 930.6,312.3 934.5,311.9 C938.4,311.5 941.4,311.8 945.0,311.5 C948.6,311.2 951.6,309.8 956.2,310.3 C960.8,310.9 967.0,312.5 972.4,314.8 C977.8,317.1 983.1,321.3 988.5,323.9 C993.9,326.5 999.8,327.1 1004.7,330.3 C1009.6,333.5 1013.9,339.5 1017.7,343.3 C1021.5,347.1 1024.2,349.8 1027.4,353.0 C1030.6,356.2 1033.9,359.5 1037.1,362.7 C1040.3,365.9 1043.6,369.2 1046.8,372.4 C1050.0,375.6 1053.6,378.3 1056.5,382.1 C1059.4,385.9 1060.8,390.8 1064.0,395.0 C1067.2,399.2 1071.7,403.5 1075.5,407.5 C1079.3,411.5 1083.2,415.1 1087.0,419.0 C1090.8,422.9 1093.7,425.3 1098.0,431.0 C1102.3,436.7 1108.5,446.8 1113.1,453.1 C1117.7,459.4 1121.5,463.6 1125.7,468.9 C1129.9,474.1 1134.6,479.9 1138.3,484.6 C1142.0,489.3 1144.6,492.6 1147.8,497.3 C1151.0,502.0 1153.6,507.8 1157.3,513.0 C1161.0,518.2 1165.7,523.5 1169.9,528.8 C1174.1,534.1 1178.3,539.9 1182.5,544.6 C1186.7,549.3 1190.9,553.3 1195.1,557.2 C1199.3,561.1 1203.5,565.3 1207.7,568.2 C1211.9,571.1 1215.8,573.0 1220.3,574.5 C1224.8,576.0 1205.1,576.5 1235.0,577.0 C1264.9,577.5 1372.1,577.2 1399.6,577.3 C1427.1,577.3 1399.9,577.3 1400.0,577.3" fill="none" stroke="#ffb000" stroke-width="2.4" stroke-linejoin="round"/>
<path d="M108.6,576.4 C120.9,576.4 166.9,576.6 182.4,576.4 C197.9,576.2 195.3,575.8 201.8,575.4 C208.3,575.0 215.8,574.4 221.2,573.8 C226.6,573.2 229.8,572.8 234.1,571.8 C238.4,570.8 242.8,569.3 247.1,567.9 C251.4,566.5 252.8,566.4 260.0,563.4 C267.1,560.4 282.3,553.3 290.0,549.8 C297.7,546.3 300.8,544.8 306.2,542.5 C311.6,540.2 317.0,538.4 322.4,536.1 C327.8,533.8 333.1,531.2 338.5,528.8 C343.9,526.4 350.4,523.2 354.7,521.5 C359.0,519.8 361.7,519.2 364.4,518.3 C367.1,517.3 368.2,516.6 370.9,515.8 C373.6,515.0 377.4,514.4 380.6,513.4 C383.8,512.4 386.6,511.5 390.3,510.0 C394.0,508.5 398.7,506.2 403.0,504.2 C407.3,502.1 411.6,499.6 415.9,497.7 C420.2,495.8 424.6,494.0 428.9,492.5 C433.2,491.0 437.5,490.0 441.8,488.7 C446.1,487.4 450.5,486.4 454.8,484.8 C459.1,483.2 463.0,481.7 467.7,479.0 C472.4,476.3 478.3,471.9 483.0,468.7 C487.7,465.5 491.6,462.2 495.9,459.6 C500.2,457.0 504.6,455.1 508.9,453.1 C513.2,451.2 517.5,449.3 521.8,447.9 C526.1,446.5 530.5,445.8 534.8,444.7 C539.1,443.6 543.4,442.7 547.7,441.5 C552.0,440.3 556.8,438.7 560.7,437.6 C564.6,436.5 567.6,436.0 571.3,435.1 C575.0,434.2 578.9,433.6 582.7,432.3 C586.5,431.0 590.2,428.9 594.0,427.2 C597.8,425.5 601.5,423.8 605.3,422.1 C609.1,420.4 612.9,418.5 616.7,417.0 C620.5,415.5 624.2,414.0 628.0,413.0 C631.8,412.0 634.4,411.4 639.3,410.8 C644.1,410.2 651.4,409.6 657.1,409.4 C662.8,409.2 667.9,409.7 673.3,409.4 C678.7,409.1 684.0,408.6 689.4,407.8 C694.8,407.0 700.7,406.2 705.6,404.6 C710.5,403.0 714.8,400.8 718.6,398.1 C722.4,395.4 724.5,390.5 728.3,388.4 C732.1,386.2 736.8,386.0 741.2,385.2 C745.7,384.4 750.8,384.2 755.0,383.8 C759.2,383.4 761.6,383.9 766.2,382.8 C770.8,381.7 778.1,380.3 782.4,377.2 C786.7,374.1 788.3,368.1 792.1,364.3 C795.9,360.5 801.2,356.8 805.0,354.6 C808.8,352.5 810.9,352.8 814.7,351.4 C818.5,350.0 823.9,348.7 827.7,346.5 C831.5,344.3 834.2,341.4 837.4,338.4 C840.6,335.4 842.8,330.8 847.1,328.7 C851.4,326.6 857.9,326.6 863.3,325.5 C868.7,324.4 874.0,323.0 879.4,322.2 C884.8,321.4 890.7,321.1 895.6,320.6 C900.5,320.1 904.3,320.1 908.6,319.0 C912.9,317.9 917.2,315.3 921.5,314.1 C925.8,312.9 930.6,312.3 934.5,311.9 C938.4,311.5 941.4,311.8 945.0,311.5 C948.6,311.2 951.6,309.8 956.2,310.3 C960.8,310.9 967.0,312.5 972.4,314.8 C977.8,317.1 983.1,321.3 988.5,323.9 C993.9,326.5 999.8,327.1 1004.7,330.3 C1009.6,333.5 1013.9,339.5 1017.7,343.3 C1021.5,347.1 1024.2,349.8 1027.4,353.0 C1030.6,356.2 1033.9,359.5 1037.1,362.7 C1040.3,365.9 1043.6,369.2 1046.8,372.4 C1050.0,375.6 1053.6,378.3 1056.5,382.1 C1059.4,385.9 1060.8,390.8 1064.0,395.0 C1067.2,399.2 1071.7,403.5 1075.5,407.5 C1079.3,411.5 1083.2,415.1 1087.0,419.0 C1090.8,422.9 1093.7,425.3 1098.0,431.0 C1102.3,436.7 1108.5,446.8 1113.1,453.1 C1117.7,459.4 1121.5,463.6 1125.7,468.9 C1129.9,474.1 1134.6,479.9 1138.3,484.6 C1142.0,489.3 1144.6,492.6 1147.8,497.3 C1151.0,502.0 1153.6,507.8 1157.3,513.0 C1161.0,518.2 1165.7,523.5 1169.9,528.8 C1174.1,534.1 1178.3,539.9 1182.5,544.6 C1186.7,549.3 1190.9,553.3 1195.1,557.2 C1199.3,561.1 1203.5,565.3 1207.7,568.2 C1211.9,571.1 1215.8,573.0 1220.3,574.5 C1224.8,576.0 1205.1,576.5 1235.0,577.0 C1264.9,577.5 1372.1,577.2 1399.6,577.3 C1427.1,577.3 1399.9,577.3 1400.0,577.3" fill="none" stroke="#ff0000" stroke-width="1.6" stroke-linejoin="round" transform="translate(0,0.6)"/>
<path d="M108.6,577.0 C128.4,577.0 205.6,577.1 227.6,577.0 C249.6,576.9 236.3,576.8 240.6,576.4 C244.9,576.0 249.9,575.4 253.5,574.4 C257.1,573.4 258.6,571.9 262.1,570.5 C265.6,569.1 270.2,567.3 274.3,565.9 C278.4,564.5 283.0,563.3 286.4,562.3 C289.8,561.3 291.6,561.7 294.9,560.0 C298.2,558.3 302.7,554.4 306.2,552.2 C309.7,550.0 312.7,548.2 315.9,546.6 C319.1,545.0 322.4,543.7 325.6,542.5 C328.8,541.3 332.1,540.4 335.3,539.3 C338.5,538.2 341.8,536.5 345.0,535.7 C348.2,535.0 351.5,534.9 354.7,534.8 C357.9,534.6 361.2,534.8 364.4,534.8 C367.6,534.8 370.9,534.9 374.1,534.8 C377.4,534.7 381.1,534.4 383.9,534.1 C386.7,533.8 387.8,533.7 391.0,532.8 C394.2,531.9 398.9,531.2 403.0,528.8 C407.1,526.4 411.6,521.8 415.9,518.4 C420.2,515.0 424.6,511.1 428.9,508.1 C433.2,505.1 437.5,501.8 441.8,500.3 C446.1,498.8 450.5,500.3 454.8,499.0 C459.1,497.7 463.4,494.9 467.7,492.5 C472.0,490.1 476.4,486.9 480.7,484.8 C485.0,482.8 489.3,481.5 493.6,480.2 C497.9,478.9 502.3,478.2 506.6,476.8 C510.9,475.4 515.2,473.9 519.5,471.8 C523.8,469.7 528.2,466.6 532.5,464.3 C536.8,462.0 540.8,459.3 545.4,457.8 C550.0,456.3 555.7,456.7 560.0,455.5 C564.3,454.3 567.5,451.9 571.3,450.4 C575.1,448.9 578.9,447.5 582.7,446.5 C586.5,445.5 590.2,445.1 594.0,444.2 C597.8,443.2 601.5,442.2 605.3,440.8 C609.1,439.4 612.9,437.1 616.7,435.7 C620.5,434.3 624.2,433.1 628.0,432.3 C631.8,431.5 635.5,431.2 639.3,430.6 C643.1,430.0 646.9,429.5 650.7,428.9 C654.5,428.3 658.2,427.9 662.0,427.2 C665.8,426.5 670.3,425.3 673.3,424.9 C676.3,424.5 677.0,424.9 680.0,424.7 C683.0,424.5 687.5,423.8 691.3,423.6 C695.1,423.4 699.0,423.5 702.6,423.4 C706.2,423.3 710.0,423.4 712.8,423.0 C715.6,422.6 717.1,421.9 719.6,420.8 C722.1,419.7 725.1,417.7 727.6,416.2 C730.1,414.7 732.1,413.2 734.4,411.7 C736.7,410.2 738.9,408.5 741.2,407.2 C743.5,405.9 745.9,404.6 748.0,403.8 C750.1,403.0 751.7,402.6 753.6,402.1 C755.5,401.6 757.2,401.4 759.3,401.0 C761.4,400.6 763.8,400.3 766.1,399.8 C768.4,399.3 770.6,398.7 772.9,398.1 C775.2,397.5 778.4,396.9 780.0,396.4 C781.6,395.9 779.3,396.3 782.4,395.0 C785.5,393.7 793.1,390.8 798.5,388.6 C803.9,386.5 809.3,384.5 814.7,382.1 C820.1,379.7 825.5,376.1 830.9,374.0 C836.3,371.9 841.7,370.6 847.1,369.2 C852.5,367.8 857.9,367.0 863.3,365.9 C868.7,364.8 874.0,363.9 879.4,362.7 C884.8,361.5 890.2,360.1 895.6,358.8 C901.0,357.5 906.4,356.2 911.8,354.6 C917.2,353.0 922.6,349.8 928.0,349.1 C933.4,348.4 936.8,350.2 944.2,350.4 C951.6,350.6 965.0,350.5 972.4,350.4 C979.8,350.3 983.1,350.2 988.5,349.7 C993.9,349.2 1000.4,346.4 1004.7,347.2 C1009.0,348.0 1011.2,352.0 1014.4,354.6 C1017.6,357.2 1020.9,359.7 1024.1,362.7 C1027.3,365.7 1030.5,369.2 1033.8,372.4 C1037.0,375.6 1040.6,378.8 1043.6,382.1 C1046.6,385.5 1049.1,388.8 1052.0,392.5 C1054.9,396.2 1057.9,399.8 1061.0,404.5 C1064.1,409.2 1067.5,415.7 1070.5,420.5 C1073.5,425.3 1075.9,427.8 1078.8,433.5 C1081.7,439.2 1084.8,448.6 1087.9,454.7 C1091.0,460.8 1094.2,465.1 1097.3,470.4 C1100.4,475.6 1103.6,480.1 1106.8,486.2 C1110.0,492.2 1113.0,500.6 1116.2,506.7 C1119.4,512.8 1122.5,518.0 1125.7,522.5 C1128.9,527.0 1132.1,530.4 1135.2,533.5 C1138.3,536.6 1140.9,538.5 1144.6,541.4 C1148.3,544.3 1153.1,548.0 1157.3,550.9 C1161.5,553.8 1165.7,556.2 1169.9,558.8 C1174.1,561.4 1178.3,564.4 1182.5,566.6 C1186.7,568.9 1190.9,570.8 1195.1,572.3 C1199.3,573.8 1203.5,574.7 1207.7,575.5 C1211.9,576.3 1188.0,576.7 1220.0,577.0 C1252.0,577.3 1369.6,577.2 1399.6,577.3 C1429.6,577.3 1399.9,577.3 1400.0,577.3" fill="none" stroke="#ff0000" stroke-width="2.8" stroke-linejoin="round"/>
<path d="M108.6,577.0 C120.5,577.0 163.4,577.5 180.0,577.0 C196.6,576.5 201.3,574.8 208.2,573.8 C215.1,572.8 216.9,572.1 221.2,571.2 C225.5,570.3 229.8,569.7 234.1,568.6 C238.4,567.5 242.8,566.2 247.1,564.7 C251.4,563.2 252.8,562.8 260.0,559.5 C267.1,556.2 282.3,548.6 290.0,545.0 C297.7,541.4 300.8,540.0 306.2,537.7 C311.6,535.4 317.0,533.5 322.4,531.2 C327.8,528.9 333.1,526.4 338.5,523.9 C343.9,521.4 349.3,518.6 354.7,516.5 C360.1,514.4 365.5,513.4 370.9,511.5 C376.3,509.6 383.1,507.1 387.1,505.3 C391.1,503.5 392.4,502.0 395.0,500.5 C397.6,499.0 399.5,498.1 403.0,496.4 C406.5,494.6 411.6,491.9 415.9,490.0 C420.2,488.1 424.6,486.5 428.9,484.8 C433.2,483.1 437.5,481.6 441.8,479.6 C446.1,477.7 450.5,475.5 454.8,473.1 C459.1,470.7 463.0,467.7 467.7,465.0 C472.4,462.3 478.3,459.5 483.0,457.0 C487.7,454.5 491.6,452.2 495.9,449.9 C500.2,447.6 504.6,445.2 508.9,443.4 C513.2,441.6 517.5,440.4 521.8,438.9 C526.1,437.4 530.5,436.1 534.8,434.3 C539.1,432.5 543.4,430.3 547.7,427.8 C552.0,425.3 557.0,421.7 560.7,419.4 C564.4,417.1 567.4,415.9 570.0,414.2 C572.6,412.5 572.5,411.5 576.2,409.4 C579.9,407.3 587.0,404.1 592.4,401.4 C597.8,398.7 603.1,395.7 608.5,393.3 C613.9,390.9 619.3,388.7 624.7,386.8 C630.1,384.9 635.5,383.5 640.9,381.9 C646.3,380.3 651.7,379.2 657.1,377.1 C662.5,375.0 667.9,371.4 673.3,369.0 C678.7,366.6 684.0,364.4 689.4,362.5 C694.8,360.6 700.2,359.1 705.6,357.7 C711.0,356.3 716.4,355.2 721.8,354.4 C727.2,353.6 733.3,353.6 738.0,352.8 C742.7,352.0 745.3,351.3 750.0,349.7 C754.7,348.1 760.8,345.2 766.2,343.3 C771.6,341.4 777.0,340.6 782.4,338.4 C787.8,336.2 793.1,332.7 798.5,330.3 C803.9,327.9 809.3,326.3 814.7,323.9 C820.1,321.5 826.6,318.5 830.9,315.8 C835.2,313.1 835.2,309.6 840.6,307.7 C846.0,305.8 856.8,305.5 863.3,304.4 C869.8,303.3 874.0,302.5 879.4,301.2 C884.8,299.9 890.2,298.2 895.6,296.3 C901.0,294.4 906.4,292.0 911.8,289.9 C917.2,287.8 922.6,284.8 928.0,283.4 C933.4,282.0 940.1,282.0 944.2,281.8 C948.4,281.6 949.8,281.3 952.9,282.4 C956.0,283.5 959.5,286.2 962.7,288.3 C966.0,290.4 969.2,293.1 972.4,294.7 C975.6,296.3 978.3,296.6 982.1,298.0 C985.9,299.4 990.7,301.2 995.0,302.8 C999.3,304.4 1004.2,305.5 1008.0,307.7 C1011.8,309.9 1014.5,313.1 1017.7,315.8 C1020.9,318.5 1024.2,320.9 1027.4,323.9 C1030.6,326.9 1033.9,329.3 1037.1,333.6 C1040.3,337.9 1043.6,344.9 1046.8,349.7 C1050.0,354.5 1053.3,358.4 1056.5,362.7 C1059.7,367.0 1062.9,370.9 1066.2,375.6 C1069.5,380.3 1072.9,386.2 1076.5,391.0 C1080.1,395.8 1083.9,399.1 1087.9,404.2 C1091.9,409.3 1096.3,415.4 1100.5,421.5 C1104.7,427.6 1108.9,434.7 1113.1,440.5 C1117.3,446.3 1121.5,452.0 1125.7,456.2 C1129.9,460.4 1134.6,462.0 1138.3,465.7 C1142.0,469.4 1144.6,473.6 1147.8,478.3 C1151.0,483.0 1154.1,488.8 1157.3,494.1 C1160.5,499.4 1163.5,504.6 1166.7,509.9 C1169.9,515.1 1172.5,520.9 1176.2,525.6 C1179.9,530.3 1184.6,534.3 1188.8,538.3 C1193.0,542.2 1197.2,545.9 1201.4,549.3 C1205.6,552.7 1209.8,556.2 1214.0,558.8 C1218.2,561.4 1222.5,563.3 1226.7,565.1 C1230.9,566.9 1235.4,568.6 1239.3,569.8 C1243.2,571.0 1246.2,571.6 1250.0,572.3 C1253.8,573.0 1258.7,573.2 1262.3,573.8 C1265.9,574.4 1267.8,575.2 1271.6,575.7 C1275.4,576.2 1263.7,576.7 1285.0,577.0 C1306.3,577.3 1380.4,577.2 1399.6,577.3 C1418.8,577.3 1399.9,577.3 1400.0,577.3" fill="none" stroke="#4e7a2e" stroke-width="1.5" stroke-linejoin="round"/>
<path d="M108.6,575.5 C111.3,575.5 119.7,575.9 125.0,575.5 C130.3,575.1 136.1,573.8 140.3,573.2 C144.5,572.6 147.1,572.2 150.0,571.8 C152.9,571.4 155.2,571.2 157.8,570.9 C160.4,570.6 162.9,570.4 165.5,569.9 C168.1,569.4 170.7,568.6 173.3,567.9 C175.9,567.1 178.5,566.1 181.1,565.4 C183.7,564.6 186.2,563.9 188.8,563.4 C191.4,562.9 194.0,562.5 196.6,562.1 C199.2,561.7 201.8,561.3 204.4,560.8 C207.0,560.3 209.5,559.8 212.1,558.9 C214.7,558.0 217.3,556.6 219.9,555.6 C222.5,554.6 225.0,554.1 227.6,553.1 C230.2,552.1 232.8,551.0 235.4,549.8 C238.0,548.6 240.6,547.1 243.2,545.9 C245.8,544.7 247.8,544.0 250.9,542.7 C254.1,541.4 258.2,539.8 262.1,538.0 C266.0,536.2 269.7,534.8 274.3,531.9 C278.9,529.0 285.8,523.4 290.0,520.7 C294.2,518.0 296.5,517.5 299.7,515.8 C302.9,514.0 306.2,511.9 309.4,510.2 C312.6,508.4 315.9,506.9 319.1,505.3 C322.3,503.7 325.6,502.1 328.8,500.5 C332.0,498.9 335.2,497.4 338.5,495.6 C341.8,493.8 345.1,491.8 348.3,489.9 C351.6,488.0 354.8,486.3 358.0,484.3 C361.2,482.3 364.5,480.0 367.7,477.8 C370.9,475.6 374.2,473.5 377.4,471.3 C380.6,469.1 384.4,466.8 387.1,464.9 C389.8,463.0 390.4,462.4 393.6,460.0 C396.8,457.6 401.4,453.4 406.2,450.2 C411.0,446.9 417.0,443.7 422.4,440.5 C427.8,437.3 433.1,433.8 438.5,430.8 C443.9,427.8 449.3,425.4 454.7,422.7 C460.1,420.0 465.0,417.1 470.9,414.6 C476.8,412.1 484.4,410.6 490.0,407.9 C495.6,405.2 499.8,401.8 504.6,398.4 C509.5,395.0 514.2,391.0 519.1,387.5 C524.0,384.0 528.9,379.9 533.7,377.3 C538.6,374.8 544.3,373.5 548.2,372.2 C552.1,370.9 554.1,370.6 557.0,369.3 C559.9,368.0 562.3,366.3 565.7,364.2 C569.1,362.1 573.6,358.9 577.3,356.9 C581.0,354.9 584.2,353.2 588.0,352.0 C591.8,350.8 595.9,350.7 600.0,349.4 C604.1,348.1 608.6,345.8 612.9,344.2 C617.2,342.6 621.6,341.4 625.9,339.7 C630.2,338.0 634.4,335.9 638.8,333.9 C643.1,331.9 647.6,329.6 652.0,327.5 C656.4,325.4 660.7,323.1 665.0,321.0 C669.3,318.9 673.4,317.4 677.7,315.1 C682.0,312.8 686.3,309.9 690.6,307.3 C694.9,304.7 699.9,301.4 703.6,299.5 C707.3,297.6 709.6,296.8 712.6,295.7 C715.6,294.6 717.6,294.4 721.8,293.1 C726.0,291.8 733.3,290.0 738.0,288.1 C742.7,286.2 745.3,283.7 750.0,281.8 C754.7,279.9 760.8,278.8 766.2,276.9 C771.6,275.0 777.0,272.4 782.4,270.5 C787.8,268.6 793.1,267.5 798.5,265.6 C803.9,263.7 809.3,261.3 814.7,259.1 C820.1,256.9 825.5,254.9 830.9,252.6 C836.3,250.3 841.7,248.1 847.1,245.5 C852.5,242.9 857.9,240.0 863.3,237.0 C868.7,234.0 874.0,230.1 879.4,227.6 C884.8,225.1 890.2,223.9 895.6,221.8 C901.0,219.8 906.4,217.2 911.8,215.3 C917.2,213.4 923.3,211.6 928.0,210.5 C932.7,209.4 935.9,209.3 940.0,208.5 C944.1,207.7 948.6,206.5 952.9,205.6 C957.2,204.7 962.1,203.7 965.9,203.0 C969.7,202.3 972.1,202.1 975.6,201.7 C979.1,201.3 983.1,200.2 986.9,200.8 C990.7,201.5 994.2,203.2 998.3,205.6 C1002.3,208.0 1006.9,211.8 1011.2,215.3 C1015.5,218.8 1020.1,223.8 1024.1,226.7 C1028.1,229.6 1031.2,231.2 1035.0,233.0 C1038.8,234.8 1042.7,235.6 1046.8,237.5 C1050.9,239.4 1055.4,241.4 1059.7,244.6 C1064.0,247.8 1068.9,252.5 1072.7,256.5 C1076.5,260.5 1079.2,264.6 1082.4,268.8 C1085.6,273.0 1088.9,277.5 1092.1,281.8 C1095.3,286.1 1098.6,290.4 1101.8,294.7 C1105.0,299.0 1108.3,303.4 1111.5,307.7 C1114.7,312.0 1118.8,316.9 1121.2,320.6 C1123.6,324.3 1124.0,326.6 1125.7,330.0 C1127.4,333.4 1129.3,337.2 1131.3,341.3 C1133.3,345.4 1135.6,351.1 1137.8,354.3 C1140.0,357.5 1141.9,357.7 1144.3,360.7 C1146.7,363.7 1149.7,368.1 1152.4,372.1 C1155.1,376.2 1158.1,381.0 1160.5,385.0 C1162.9,389.0 1164.8,392.5 1166.9,396.3 C1169.1,400.1 1171.2,404.1 1173.4,407.7 C1175.6,411.3 1177.8,414.7 1179.9,418.2 C1182.1,421.7 1183.8,425.4 1186.3,428.7 C1188.8,432.0 1191.9,434.6 1194.7,437.9 C1197.5,441.2 1200.4,445.1 1203.2,448.4 C1206.0,451.7 1208.8,454.7 1211.6,457.9 C1214.4,461.1 1217.2,464.1 1220.0,467.4 C1222.8,470.7 1225.6,474.4 1228.4,477.9 C1231.2,481.4 1234.8,485.9 1236.8,488.4 C1238.8,490.9 1238.7,490.6 1240.5,492.8 C1242.3,495.0 1245.0,498.6 1247.4,501.6 C1249.8,504.6 1252.1,507.5 1254.9,510.9 C1257.7,514.3 1261.1,518.4 1264.2,522.1 C1267.3,525.8 1270.4,529.5 1273.5,533.2 C1276.6,536.9 1279.7,541.3 1282.8,544.4 C1285.9,547.5 1289.0,549.3 1292.1,551.8 C1295.2,554.3 1298.3,557.1 1301.4,559.3 C1304.5,561.5 1307.9,563.0 1310.7,564.9 C1313.5,566.8 1315.6,568.8 1318.1,570.4 C1320.6,572.0 1323.1,573.3 1325.6,574.2 C1328.1,575.1 1328.9,575.5 1333.0,576.0 C1337.1,576.5 1338.9,576.8 1350.0,577.0 C1361.1,577.2 1391.3,577.2 1399.6,577.3 C1407.9,577.3 1399.9,577.3 1400.0,577.3" fill="none" stroke="#4e7a2e" stroke-width="1.5" stroke-linejoin="round"/>
<path d="M108.6,575.0 C110.5,575.0 115.8,575.4 120.0,575.0 C124.2,574.6 129.6,573.6 133.5,572.7 C137.4,571.8 140.7,570.4 143.7,569.4 C146.7,568.4 149.2,567.4 151.6,566.7 C153.9,566.0 155.5,566.0 157.8,565.4 C160.1,564.8 162.9,564.0 165.5,563.4 C168.1,562.8 170.7,562.2 173.3,561.5 C175.9,560.8 178.5,559.8 181.1,558.9 C183.7,558.0 186.2,557.2 188.8,556.3 C191.4,555.4 194.0,554.7 196.6,553.7 C199.2,552.7 201.8,551.5 204.4,550.5 C207.0,549.5 209.5,548.7 212.1,547.9 C214.7,547.1 217.3,546.3 219.9,545.9 C222.5,545.5 225.0,545.5 227.6,545.3 C230.2,545.1 232.8,545.2 235.4,544.6 C238.0,544.0 240.6,542.5 243.2,541.4 C245.8,540.3 248.1,539.8 250.9,538.2 C253.7,536.6 256.1,534.8 260.0,531.7 C263.9,528.6 269.9,523.2 274.3,519.8 C278.7,516.4 283.8,512.9 286.4,511.3 C289.0,509.7 287.8,511.5 290.0,510.2 C292.2,508.9 296.5,505.9 299.7,503.7 C302.9,501.5 306.2,499.2 309.4,497.2 C312.6,495.2 315.9,493.4 319.1,491.6 C322.3,489.9 325.6,488.3 328.8,486.7 C332.0,485.1 335.2,483.8 338.5,481.8 C341.8,479.8 345.2,476.6 348.3,474.6 C351.4,472.6 353.9,471.6 356.8,469.6 C359.7,467.6 362.7,465.2 365.7,462.5 C368.7,459.8 371.4,455.7 374.6,453.6 C377.9,451.5 382.2,451.3 385.2,450.1 C388.1,448.9 389.8,448.0 392.3,446.5 C394.8,445.0 397.7,442.8 400.0,441.2 C402.3,439.6 402.5,439.5 406.2,437.2 C409.9,434.9 417.0,430.7 422.4,427.5 C427.8,424.3 433.1,420.5 438.5,417.8 C443.9,415.1 449.3,414.1 454.7,411.4 C460.1,408.7 465.5,404.7 470.9,401.7 C476.3,398.7 482.5,396.2 487.1,393.6 C491.7,391.0 495.3,387.8 498.7,386.0 C502.1,384.2 504.6,384.4 507.5,383.1 C510.4,381.8 513.3,379.8 516.2,378.0 C519.1,376.2 522.0,374.0 524.9,372.2 C527.8,370.4 530.8,368.7 533.7,367.1 C536.6,365.5 539.5,364.4 542.4,362.8 C545.3,361.2 548.2,359.4 551.1,357.7 C554.0,356.0 557.0,354.3 559.9,352.8 C562.8,351.3 565.8,350.0 568.6,348.6 C571.5,347.2 574.6,345.9 577.0,344.7 C579.4,343.5 580.5,342.9 582.8,341.2 C585.1,339.5 588.4,336.6 590.6,334.7 C592.8,332.8 593.6,331.4 595.8,329.5 C598.0,327.6 600.8,325.5 603.6,323.1 C606.5,320.7 610.3,317.1 612.9,315.1 C615.5,313.1 617.2,312.7 619.4,311.2 C621.6,309.7 623.7,307.5 625.9,306.0 C628.1,304.5 630.2,303.4 632.4,302.1 C634.5,300.8 636.6,299.7 638.8,298.3 C640.9,296.9 643.1,295.1 645.3,293.7 C647.5,292.3 649.6,290.8 651.8,289.8 C654.0,288.8 656.1,288.6 658.3,287.9 C660.4,287.1 662.6,286.2 664.7,285.3 C666.9,284.4 669.0,283.4 671.2,282.7 C673.4,282.0 675.6,281.9 677.7,281.4 C679.9,280.9 682.0,280.1 684.1,279.5 C686.2,278.9 688.4,278.1 690.6,277.5 C692.8,276.9 694.9,276.5 697.1,275.6 C699.3,274.8 701.5,273.7 703.6,272.4 C705.8,271.1 707.9,269.2 710.0,267.8 C712.1,266.4 714.5,265.2 716.5,264.0 C718.5,262.8 718.2,262.6 721.8,260.5 C725.4,258.4 733.3,253.2 738.0,251.1 C742.7,249.0 746.4,249.1 750.0,247.7 C753.6,246.3 756.5,244.5 759.7,242.8 C762.9,241.1 766.4,238.6 769.4,237.3 C772.4,236.0 774.3,236.9 777.5,234.8 C780.7,232.8 785.0,227.9 788.8,225.0 C792.6,222.1 797.0,219.2 800.2,217.6 C803.5,216.0 805.3,216.3 808.3,215.3 C811.3,214.3 814.2,212.8 818.0,211.5 C821.8,210.2 826.0,208.6 830.9,207.2 C835.8,205.8 841.7,204.2 847.1,203.0 C852.5,201.8 857.9,201.2 863.3,199.8 C868.7,198.4 875.1,196.1 879.4,194.3 C883.7,192.5 886.0,190.7 889.2,188.8 C892.5,186.9 895.1,184.9 898.9,183.0 C902.7,181.1 907.5,179.1 911.8,177.2 C916.1,175.3 921.0,173.4 924.8,171.7 C928.6,170.0 928.2,167.6 934.5,166.8 C940.8,166.0 956.4,167.1 962.7,166.8 C969.0,166.5 968.1,165.8 972.4,165.2 C976.7,164.5 983.6,163.2 988.5,162.9 C993.4,162.6 997.5,163.6 1001.5,163.6 C1005.5,163.6 1009.0,163.4 1012.8,162.9 C1016.6,162.4 1020.3,161.0 1024.1,160.3 C1027.9,159.6 1032.2,158.7 1035.5,158.7 C1038.8,158.7 1040.1,159.2 1043.6,160.3 C1047.1,161.4 1052.2,163.3 1056.5,165.2 C1060.8,167.1 1065.1,169.3 1069.4,171.7 C1073.7,174.1 1078.1,176.8 1082.4,179.7 C1086.7,182.6 1091.5,186.2 1095.3,189.4 C1099.1,192.7 1101.8,195.4 1105.0,199.2 C1108.2,203.0 1111.5,207.8 1114.8,212.1 C1118.0,216.4 1121.6,221.0 1124.5,225.0 C1127.4,229.0 1129.4,231.8 1132.0,236.0 C1134.6,240.2 1137.1,244.4 1140.0,250.0 C1142.9,255.6 1146.2,262.4 1149.4,269.4 C1152.6,276.4 1155.9,285.1 1159.1,292.1 C1162.3,299.1 1165.6,305.0 1168.8,311.5 C1172.0,318.0 1175.0,323.8 1178.5,330.9 C1182.0,338.0 1186.4,346.8 1190.0,354.0 C1193.6,361.2 1197.0,368.0 1200.0,374.0 C1203.0,380.0 1204.8,384.2 1207.7,390.0 C1210.6,395.8 1214.0,402.6 1217.2,408.9 C1220.4,415.2 1223.6,421.5 1226.7,427.8 C1229.8,434.1 1232.9,440.5 1236.1,446.8 C1239.2,453.1 1242.9,461.3 1245.6,465.7 C1248.2,470.1 1249.8,469.9 1252.0,473.0 C1254.2,476.1 1256.3,480.2 1258.6,484.0 C1260.9,487.8 1262.9,491.2 1266.0,496.0 C1269.1,500.8 1273.5,507.2 1277.2,512.8 C1280.9,518.4 1284.7,524.5 1288.4,529.5 C1292.1,534.5 1295.8,538.5 1299.5,542.5 C1303.2,546.5 1307.0,550.3 1310.7,553.7 C1314.4,557.1 1318.1,560.8 1321.8,563.0 C1325.5,565.2 1329.3,565.6 1333.0,566.7 C1336.7,567.8 1340.5,568.6 1344.2,569.5 C1347.9,570.4 1351.6,571.2 1355.3,571.9 C1359.0,572.6 1362.5,573.3 1366.5,573.8 C1370.5,574.3 1374.0,574.8 1379.5,575.1 C1385.0,575.4 1396.2,575.6 1399.6,575.7 C1403.0,575.8 1399.9,575.7 1400.0,575.7" fill="none" stroke="#0b5dab" stroke-width="1.9" stroke-linejoin="round"/>
<clipPath id="inmax"><path d="M108.6,566.0 C108.8,566.0 108.1,566.1 109.5,566.0 C110.9,565.9 114.8,566.0 116.8,565.5 C118.8,565.0 120.4,563.7 121.7,563.1 C123.0,562.5 122.9,562.7 124.8,562.1 C126.7,561.5 129.8,559.9 133.0,559.4 C136.2,558.9 139.9,558.9 143.7,558.9 C147.5,558.9 152.3,559.7 155.7,559.4 C159.1,559.1 161.5,558.1 164.2,556.9 C166.9,555.7 169.4,553.8 172.0,552.4 C174.6,551.0 177.2,549.7 179.8,548.5 C182.4,547.3 184.9,546.5 187.5,545.3 C190.1,544.1 192.7,542.6 195.3,541.2 C197.9,539.8 200.5,538.4 203.1,536.9 C205.7,535.4 208.2,533.8 210.8,532.4 C213.4,531.0 216.0,529.8 218.6,528.5 C221.2,527.2 223.8,526.0 226.4,524.6 C229.0,523.2 231.5,521.5 234.1,520.1 C236.7,518.7 239.3,517.4 241.9,516.2 C244.5,515.0 246.7,514.3 249.7,512.9 C252.7,511.5 255.9,511.3 260.0,507.8 C264.1,504.3 269.9,496.8 274.3,491.9 C278.7,487.0 283.8,481.1 286.4,478.5 C289.0,475.9 288.1,477.5 290.0,476.2 C291.9,474.9 295.4,472.4 298.1,470.5 C300.8,468.6 303.8,466.6 306.2,464.9 C308.6,463.1 310.3,462.0 312.7,460.0 C315.1,458.0 317.9,456.3 320.4,453.1 C322.9,449.9 325.1,444.7 327.7,440.9 C330.3,437.1 332.4,434.4 335.9,430.2 C339.4,426.0 344.0,420.5 348.9,415.6 C353.8,410.7 359.6,406.1 365.0,401.0 C370.4,395.9 377.0,388.8 381.2,384.9 C385.4,381.0 385.8,380.3 390.0,377.4 C394.2,374.5 400.8,370.8 406.2,367.7 C411.6,364.6 416.5,362.3 422.4,358.6 C428.3,354.9 435.9,348.5 441.8,345.7 C447.7,342.9 452.6,343.8 458.0,341.8 C463.4,339.8 468.7,336.4 474.1,333.7 C479.5,331.0 486.0,327.3 490.3,325.6 C494.6,323.9 496.6,323.7 500.0,323.3 C503.4,322.9 507.4,323.6 510.4,323.1 C513.4,322.6 516.0,321.8 518.1,320.5 C520.2,319.2 521.1,317.5 523.3,315.3 C525.5,313.1 528.3,309.8 531.1,307.5 C533.9,305.2 537.3,302.9 540.1,301.7 C542.9,300.4 545.5,300.8 547.9,300.0 C550.3,299.2 552.0,298.1 554.4,297.2 C556.8,296.3 559.5,295.9 562.1,294.6 C564.7,293.3 567.5,290.9 569.9,289.4 C572.3,287.9 574.2,287.2 576.4,285.5 C578.5,283.8 580.9,280.9 582.8,279.1 C584.7,277.3 586.0,275.9 588.0,274.5 C590.0,273.1 592.5,271.6 594.5,270.6 C596.5,269.6 598.0,269.2 600.0,268.7 C602.0,268.2 604.4,268.0 606.5,267.8 C608.6,267.6 610.8,267.8 612.9,267.4 C615.0,267.0 617.2,266.3 619.4,265.2 C621.6,264.1 623.7,262.5 625.9,260.7 C628.1,258.9 630.7,256.2 632.4,254.2 C634.1,252.1 634.9,250.3 636.2,248.4 C637.5,246.5 638.5,244.6 640.1,242.6 C641.7,240.6 643.0,239.1 645.8,236.5 C648.6,233.9 653.1,230.0 657.1,226.8 C661.1,223.6 665.7,220.6 670.0,217.1 C674.3,213.6 678.7,209.0 683.0,205.8 C687.3,202.6 691.9,199.9 695.9,197.7 C699.9,195.5 703.4,195.8 707.2,192.8 C711.0,189.8 714.6,184.2 718.6,179.9 C722.6,175.6 727.2,170.5 731.5,166.9 C735.8,163.3 739.3,161.0 744.5,158.2 C749.7,155.4 757.7,152.4 762.9,150.0 C768.1,147.6 772.1,144.9 775.9,143.5 C779.7,142.1 782.4,142.8 785.6,141.6 C788.8,140.4 791.5,138.5 795.3,136.1 C799.1,133.7 805.1,129.0 808.3,127.3 C811.5,125.6 811.5,126.9 814.7,125.7 C817.9,124.5 823.4,121.8 827.7,119.9 C832.0,118.0 836.3,116.3 840.6,114.4 C844.9,112.5 849.3,110.3 853.6,108.5 C857.9,106.7 862.2,105.3 866.5,103.7 C870.8,102.1 875.1,100.7 879.4,98.8 C883.7,96.9 888.1,94.5 892.4,92.4 C896.7,90.4 901.0,88.2 905.3,86.5 C909.6,84.8 914.5,83.1 918.3,82.0 C922.1,80.9 926.4,80.4 928.0,80.1 C929.6,79.8 926.9,80.7 928.0,80.1 C929.1,79.5 932.5,77.2 934.8,76.6 C937.1,76.0 939.2,76.4 941.8,76.4 C944.3,76.4 947.8,76.0 950.1,76.4 C952.4,76.8 953.6,78.0 955.7,78.6 C957.8,79.2 960.3,79.6 962.6,80.2 C964.9,80.8 967.3,81.4 969.6,82.3 C971.9,83.2 974.2,84.7 976.5,85.7 C978.8,86.7 981.2,87.7 983.5,88.5 C985.8,89.3 988.2,90.0 990.5,90.3 C992.8,90.6 994.9,90.5 997.4,90.3 C999.9,90.1 1003.2,89.3 1005.8,89.2 C1008.3,89.1 1010.6,90.0 1012.7,89.9 C1014.8,89.9 1016.2,89.2 1018.3,88.9 C1020.4,88.6 1023.0,88.6 1025.3,88.1 C1027.6,87.6 1029.9,86.3 1032.2,85.7 C1034.5,85.1 1036.9,84.8 1039.2,84.4 C1041.5,84.0 1043.8,83.5 1046.1,83.4 C1048.4,83.3 1050.8,83.5 1053.1,83.7 C1055.4,83.9 1057.8,84.2 1060.1,84.4 C1062.4,84.6 1064.7,84.8 1067.0,85.1 C1069.3,85.4 1071.7,85.8 1074.0,86.4 C1076.3,87.0 1078.6,87.1 1080.9,88.5 C1083.2,89.9 1085.6,92.6 1087.9,94.8 C1090.2,97.0 1092.5,99.2 1094.8,101.8 C1097.1,104.4 1099.0,106.7 1101.8,110.2 C1104.6,113.8 1108.3,119.1 1111.5,123.1 C1114.7,127.1 1118.1,130.8 1121.2,134.4 C1124.3,138.0 1126.9,141.2 1130.0,144.9 C1133.1,148.6 1136.5,152.2 1139.7,156.8 C1142.9,161.4 1146.2,167.7 1149.4,172.4 C1152.6,177.2 1155.6,181.0 1159.1,185.3 C1162.6,189.6 1167.3,194.0 1170.5,198.3 C1173.7,202.6 1175.8,206.1 1178.5,211.2 C1181.2,216.3 1183.9,223.1 1186.6,229.0 C1189.3,234.9 1192.0,240.3 1194.7,246.8 C1197.4,253.3 1200.1,261.3 1202.8,267.8 C1205.5,274.3 1208.2,279.4 1210.9,285.6 C1213.6,291.8 1216.3,299.3 1219.0,305.0 C1221.7,310.7 1224.2,314.1 1227.1,319.6 C1230.0,325.1 1233.1,332.3 1236.2,337.8 C1239.3,343.3 1242.7,347.8 1245.9,352.4 C1249.1,357.0 1251.8,360.4 1255.6,365.3 C1259.4,370.2 1264.7,376.6 1268.5,381.5 C1272.3,386.4 1275.0,390.1 1278.3,394.4 C1281.5,398.7 1284.8,402.5 1288.0,407.4 C1291.2,412.3 1294.5,418.2 1297.7,423.6 C1300.9,429.0 1304.2,434.9 1307.4,439.7 C1310.6,444.5 1313.9,448.1 1317.1,452.7 C1320.3,457.3 1323.8,462.8 1326.8,467.2 C1329.8,471.6 1332.3,475.4 1334.9,479.3 C1337.5,483.2 1339.5,486.5 1342.3,490.5 C1345.1,494.5 1348.5,499.8 1351.6,503.5 C1354.7,507.2 1357.8,509.8 1360.9,512.8 C1364.0,515.8 1367.1,518.7 1370.2,521.2 C1373.3,523.7 1376.4,525.5 1379.5,527.7 C1382.6,529.9 1385.5,532.0 1388.8,534.2 C1392.1,536.4 1397.7,539.6 1399.6,540.7 C1401.5,541.8 1399.9,540.7 1400.0,540.7 L1400.0,577.0 C1184.8,577.0 323.8,577.0 108.6,577.0 Z"/></clipPath>
<path d="M108.6,566.0 C108.8,566.0 108.1,566.1 109.5,566.0 C110.9,565.9 114.8,566.0 116.8,565.5 C118.8,565.0 120.4,563.7 121.7,563.1 C123.0,562.5 122.9,562.7 124.8,562.1 C126.7,561.5 129.8,559.9 133.0,559.4 C136.2,558.9 139.9,558.9 143.7,558.9 C147.5,558.9 152.3,559.7 155.7,559.4 C159.1,559.1 161.5,558.1 164.2,556.9 C166.9,555.7 169.4,553.8 172.0,552.4 C174.6,551.0 177.2,549.7 179.8,548.5 C182.4,547.3 184.9,546.5 187.5,545.3 C190.1,544.1 192.7,542.6 195.3,541.2 C197.9,539.8 200.5,538.4 203.1,536.9 C205.7,535.4 208.2,533.8 210.8,532.4 C213.4,531.0 216.0,529.8 218.6,528.5 C221.2,527.2 223.8,526.0 226.4,524.6 C229.0,523.2 231.5,521.5 234.1,520.1 C236.7,518.7 239.3,517.4 241.9,516.2 C244.5,515.0 246.7,514.3 249.7,512.9 C252.7,511.5 255.9,511.3 260.0,507.8 C264.1,504.3 269.9,496.8 274.3,491.9 C278.7,487.0 283.8,481.1 286.4,478.5 C289.0,475.9 288.1,477.5 290.0,476.2 C291.9,474.9 295.4,472.4 298.1,470.5 C300.8,468.6 303.8,466.6 306.2,464.9 C308.6,463.1 310.3,462.0 312.7,460.0 C315.1,458.0 317.9,456.3 320.4,453.1 C322.9,449.9 325.1,444.7 327.7,440.9 C330.3,437.1 332.4,434.4 335.9,430.2 C339.4,426.0 344.0,420.5 348.9,415.6 C353.8,410.7 359.6,406.1 365.0,401.0 C370.4,395.9 377.0,388.8 381.2,384.9 C385.4,381.0 385.8,380.3 390.0,377.4 C394.2,374.5 400.8,370.8 406.2,367.7 C411.6,364.6 416.5,362.3 422.4,358.6 C428.3,354.9 435.9,348.5 441.8,345.7 C447.7,342.9 452.6,343.8 458.0,341.8 C463.4,339.8 468.7,336.4 474.1,333.7 C479.5,331.0 486.0,327.3 490.3,325.6 C494.6,323.9 496.6,323.7 500.0,323.3 C503.4,322.9 507.4,323.6 510.4,323.1 C513.4,322.6 516.0,321.8 518.1,320.5 C520.2,319.2 521.1,317.5 523.3,315.3 C525.5,313.1 528.3,309.8 531.1,307.5 C533.9,305.2 537.3,302.9 540.1,301.7 C542.9,300.4 545.5,300.8 547.9,300.0 C550.3,299.2 552.0,298.1 554.4,297.2 C556.8,296.3 559.5,295.9 562.1,294.6 C564.7,293.3 567.5,290.9 569.9,289.4 C572.3,287.9 574.2,287.2 576.4,285.5 C578.5,283.8 580.9,280.9 582.8,279.1 C584.7,277.3 586.0,275.9 588.0,274.5 C590.0,273.1 592.5,271.6 594.5,270.6 C596.5,269.6 598.0,269.2 600.0,268.7 C602.0,268.2 604.4,268.0 606.5,267.8 C608.6,267.6 610.8,267.8 612.9,267.4 C615.0,267.0 617.2,266.3 619.4,265.2 C621.6,264.1 623.7,262.5 625.9,260.7 C628.1,258.9 630.7,256.2 632.4,254.2 C634.1,252.1 634.9,250.3 636.2,248.4 C637.5,246.5 638.5,244.6 640.1,242.6 C641.7,240.6 643.0,239.1 645.8,236.5 C648.6,233.9 653.1,230.0 657.1,226.8 C661.1,223.6 665.7,220.6 670.0,217.1 C674.3,213.6 678.7,209.0 683.0,205.8 C687.3,202.6 691.9,199.9 695.9,197.7 C699.9,195.5 703.4,195.8 707.2,192.8 C711.0,189.8 714.6,184.2 718.6,179.9 C722.6,175.6 727.2,170.5 731.5,166.9 C735.8,163.3 739.3,161.0 744.5,158.2 C749.7,155.4 757.7,152.4 762.9,150.0 C768.1,147.6 772.1,144.9 775.9,143.5 C779.7,142.1 782.4,142.8 785.6,141.6 C788.8,140.4 791.5,138.5 795.3,136.1 C799.1,133.7 805.1,129.0 808.3,127.3 C811.5,125.6 811.5,126.9 814.7,125.7 C817.9,124.5 823.4,121.8 827.7,119.9 C832.0,118.0 836.3,116.3 840.6,114.4 C844.9,112.5 849.3,110.3 853.6,108.5 C857.9,106.7 862.2,105.3 866.5,103.7 C870.8,102.1 875.1,100.7 879.4,98.8 C883.7,96.9 888.1,94.5 892.4,92.4 C896.7,90.4 901.0,88.2 905.3,86.5 C909.6,84.8 914.5,83.1 918.3,82.0 C922.1,80.9 926.4,80.4 928.0,80.1 C929.6,79.8 926.9,80.7 928.0,80.1 C929.1,79.5 932.5,77.2 934.8,76.6 C937.1,76.0 939.2,76.4 941.8,76.4 C944.3,76.4 947.8,76.0 950.1,76.4 C952.4,76.8 953.6,78.0 955.7,78.6 C957.8,79.2 960.3,79.6 962.6,80.2 C964.9,80.8 967.3,81.4 969.6,82.3 C971.9,83.2 974.2,84.7 976.5,85.7 C978.8,86.7 981.2,87.7 983.5,88.5 C985.8,89.3 988.2,90.0 990.5,90.3 C992.8,90.6 994.9,90.5 997.4,90.3 C999.9,90.1 1003.2,89.3 1005.8,89.2 C1008.3,89.1 1010.6,90.0 1012.7,89.9 C1014.8,89.9 1016.2,89.2 1018.3,88.9 C1020.4,88.6 1023.0,88.6 1025.3,88.1 C1027.6,87.6 1029.9,86.3 1032.2,85.7 C1034.5,85.1 1036.9,84.8 1039.2,84.4 C1041.5,84.0 1043.8,83.5 1046.1,83.4 C1048.4,83.3 1050.8,83.5 1053.1,83.7 C1055.4,83.9 1057.8,84.2 1060.1,84.4 C1062.4,84.6 1064.7,84.8 1067.0,85.1 C1069.3,85.4 1071.7,85.8 1074.0,86.4 C1076.3,87.0 1078.6,87.1 1080.9,88.5 C1083.2,89.9 1085.6,92.6 1087.9,94.8 C1090.2,97.0 1092.5,99.2 1094.8,101.8 C1097.1,104.4 1099.0,106.7 1101.8,110.2 C1104.6,113.8 1108.3,119.1 1111.5,123.1 C1114.7,127.1 1118.1,130.8 1121.2,134.4 C1124.3,138.0 1126.9,141.2 1130.0,144.9 C1133.1,148.6 1136.5,152.2 1139.7,156.8 C1142.9,161.4 1146.2,167.7 1149.4,172.4 C1152.6,177.2 1155.6,181.0 1159.1,185.3 C1162.6,189.6 1167.3,194.0 1170.5,198.3 C1173.7,202.6 1175.8,206.1 1178.5,211.2 C1181.2,216.3 1183.9,223.1 1186.6,229.0 C1189.3,234.9 1192.0,240.3 1194.7,246.8 C1197.4,253.3 1200.1,261.3 1202.8,267.8 C1205.5,274.3 1208.2,279.4 1210.9,285.6 C1213.6,291.8 1216.3,299.3 1219.0,305.0 C1221.7,310.7 1224.2,314.1 1227.1,319.6 C1230.0,325.1 1233.1,332.3 1236.2,337.8 C1239.3,343.3 1242.7,347.8 1245.9,352.4 C1249.1,357.0 1251.8,360.4 1255.6,365.3 C1259.4,370.2 1264.7,376.6 1268.5,381.5 C1272.3,386.4 1275.0,390.1 1278.3,394.4 C1281.5,398.7 1284.8,402.5 1288.0,407.4 C1291.2,412.3 1294.5,418.2 1297.7,423.6 C1300.9,429.0 1304.2,434.9 1307.4,439.7 C1310.6,444.5 1313.9,448.1 1317.1,452.7 C1320.3,457.3 1323.8,462.8 1326.8,467.2 C1329.8,471.6 1332.3,475.4 1334.9,479.3 C1337.5,483.2 1339.5,486.5 1342.3,490.5 C1345.1,494.5 1348.5,499.8 1351.6,503.5 C1354.7,507.2 1357.8,509.8 1360.9,512.8 C1364.0,515.8 1367.1,518.7 1370.2,521.2 C1373.3,523.7 1376.4,525.5 1379.5,527.7 C1382.6,529.9 1385.5,532.0 1388.8,534.2 C1392.1,536.4 1397.7,539.6 1399.6,540.7 C1401.5,541.8 1399.9,540.7 1400.0,540.7" fill="none" stroke="#000" stroke-width="3.4" stroke-linejoin="round" filter="url(#si)" clip-path="url(#inmax)"/>
<path d="M108.6,566.0 C108.8,566.0 108.1,566.1 109.5,566.0 C110.9,565.9 114.8,566.0 116.8,565.5 C118.8,565.0 120.4,563.7 121.7,563.1 C123.0,562.5 122.9,562.7 124.8,562.1 C126.7,561.5 129.8,559.9 133.0,559.4 C136.2,558.9 139.9,558.9 143.7,558.9 C147.5,558.9 152.3,559.7 155.7,559.4 C159.1,559.1 161.5,558.1 164.2,556.9 C166.9,555.7 169.4,553.8 172.0,552.4 C174.6,551.0 177.2,549.7 179.8,548.5 C182.4,547.3 184.9,546.5 187.5,545.3 C190.1,544.1 192.7,542.6 195.3,541.2 C197.9,539.8 200.5,538.4 203.1,536.9 C205.7,535.4 208.2,533.8 210.8,532.4 C213.4,531.0 216.0,529.8 218.6,528.5 C221.2,527.2 223.8,526.0 226.4,524.6 C229.0,523.2 231.5,521.5 234.1,520.1 C236.7,518.7 239.3,517.4 241.9,516.2 C244.5,515.0 246.7,514.3 249.7,512.9 C252.7,511.5 255.9,511.3 260.0,507.8 C264.1,504.3 269.9,496.8 274.3,491.9 C278.7,487.0 283.8,481.1 286.4,478.5 C289.0,475.9 288.1,477.5 290.0,476.2 C291.9,474.9 295.4,472.4 298.1,470.5 C300.8,468.6 303.8,466.6 306.2,464.9 C308.6,463.1 310.3,462.0 312.7,460.0 C315.1,458.0 317.9,456.3 320.4,453.1 C322.9,449.9 325.1,444.7 327.7,440.9 C330.3,437.1 332.4,434.4 335.9,430.2 C339.4,426.0 344.0,420.5 348.9,415.6 C353.8,410.7 359.6,406.1 365.0,401.0 C370.4,395.9 377.0,388.8 381.2,384.9 C385.4,381.0 385.8,380.3 390.0,377.4 C394.2,374.5 400.8,370.8 406.2,367.7 C411.6,364.6 416.5,362.3 422.4,358.6 C428.3,354.9 435.9,348.5 441.8,345.7 C447.7,342.9 452.6,343.8 458.0,341.8 C463.4,339.8 468.7,336.4 474.1,333.7 C479.5,331.0 486.0,327.3 490.3,325.6 C494.6,323.9 496.6,323.7 500.0,323.3 C503.4,322.9 507.4,323.6 510.4,323.1 C513.4,322.6 516.0,321.8 518.1,320.5 C520.2,319.2 521.1,317.5 523.3,315.3 C525.5,313.1 528.3,309.8 531.1,307.5 C533.9,305.2 537.3,302.9 540.1,301.7 C542.9,300.4 545.5,300.8 547.9,300.0 C550.3,299.2 552.0,298.1 554.4,297.2 C556.8,296.3 559.5,295.9 562.1,294.6 C564.7,293.3 567.5,290.9 569.9,289.4 C572.3,287.9 574.2,287.2 576.4,285.5 C578.5,283.8 580.9,280.9 582.8,279.1 C584.7,277.3 586.0,275.9 588.0,274.5 C590.0,273.1 592.5,271.6 594.5,270.6 C596.5,269.6 598.0,269.2 600.0,268.7 C602.0,268.2 604.4,268.0 606.5,267.8 C608.6,267.6 610.8,267.8 612.9,267.4 C615.0,267.0 617.2,266.3 619.4,265.2 C621.6,264.1 623.7,262.5 625.9,260.7 C628.1,258.9 630.7,256.2 632.4,254.2 C634.1,252.1 634.9,250.3 636.2,248.4 C637.5,246.5 638.5,244.6 640.1,242.6 C641.7,240.6 643.0,239.1 645.8,236.5 C648.6,233.9 653.1,230.0 657.1,226.8 C661.1,223.6 665.7,220.6 670.0,217.1 C674.3,213.6 678.7,209.0 683.0,205.8 C687.3,202.6 691.9,199.9 695.9,197.7 C699.9,195.5 703.4,195.8 707.2,192.8 C711.0,189.8 714.6,184.2 718.6,179.9 C722.6,175.6 727.2,170.5 731.5,166.9 C735.8,163.3 739.3,161.0 744.5,158.2 C749.7,155.4 757.7,152.4 762.9,150.0 C768.1,147.6 772.1,144.9 775.9,143.5 C779.7,142.1 782.4,142.8 785.6,141.6 C788.8,140.4 791.5,138.5 795.3,136.1 C799.1,133.7 805.1,129.0 808.3,127.3 C811.5,125.6 811.5,126.9 814.7,125.7 C817.9,124.5 823.4,121.8 827.7,119.9 C832.0,118.0 836.3,116.3 840.6,114.4 C844.9,112.5 849.3,110.3 853.6,108.5 C857.9,106.7 862.2,105.3 866.5,103.7 C870.8,102.1 875.1,100.7 879.4,98.8 C883.7,96.9 888.1,94.5 892.4,92.4 C896.7,90.4 901.0,88.2 905.3,86.5 C909.6,84.8 914.5,83.1 918.3,82.0 C922.1,80.9 926.4,80.4 928.0,80.1 C929.6,79.8 926.9,80.7 928.0,80.1 C929.1,79.5 932.5,77.2 934.8,76.6 C937.1,76.0 939.2,76.4 941.8,76.4 C944.3,76.4 947.8,76.0 950.1,76.4 C952.4,76.8 953.6,78.0 955.7,78.6 C957.8,79.2 960.3,79.6 962.6,80.2 C964.9,80.8 967.3,81.4 969.6,82.3 C971.9,83.2 974.2,84.7 976.5,85.7 C978.8,86.7 981.2,87.7 983.5,88.5 C985.8,89.3 988.2,90.0 990.5,90.3 C992.8,90.6 994.9,90.5 997.4,90.3 C999.9,90.1 1003.2,89.3 1005.8,89.2 C1008.3,89.1 1010.6,90.0 1012.7,89.9 C1014.8,89.9 1016.2,89.2 1018.3,88.9 C1020.4,88.6 1023.0,88.6 1025.3,88.1 C1027.6,87.6 1029.9,86.3 1032.2,85.7 C1034.5,85.1 1036.9,84.8 1039.2,84.4 C1041.5,84.0 1043.8,83.5 1046.1,83.4 C1048.4,83.3 1050.8,83.5 1053.1,83.7 C1055.4,83.9 1057.8,84.2 1060.1,84.4 C1062.4,84.6 1064.7,84.8 1067.0,85.1 C1069.3,85.4 1071.7,85.8 1074.0,86.4 C1076.3,87.0 1078.6,87.1 1080.9,88.5 C1083.2,89.9 1085.6,92.6 1087.9,94.8 C1090.2,97.0 1092.5,99.2 1094.8,101.8 C1097.1,104.4 1099.0,106.7 1101.8,110.2 C1104.6,113.8 1108.3,119.1 1111.5,123.1 C1114.7,127.1 1118.1,130.8 1121.2,134.4 C1124.3,138.0 1126.9,141.2 1130.0,144.9 C1133.1,148.6 1136.5,152.2 1139.7,156.8 C1142.9,161.4 1146.2,167.7 1149.4,172.4 C1152.6,177.2 1155.6,181.0 1159.1,185.3 C1162.6,189.6 1167.3,194.0 1170.5,198.3 C1173.7,202.6 1175.8,206.1 1178.5,211.2 C1181.2,216.3 1183.9,223.1 1186.6,229.0 C1189.3,234.9 1192.0,240.3 1194.7,246.8 C1197.4,253.3 1200.1,261.3 1202.8,267.8 C1205.5,274.3 1208.2,279.4 1210.9,285.6 C1213.6,291.8 1216.3,299.3 1219.0,305.0 C1221.7,310.7 1224.2,314.1 1227.1,319.6 C1230.0,325.1 1233.1,332.3 1236.2,337.8 C1239.3,343.3 1242.7,347.8 1245.9,352.4 C1249.1,357.0 1251.8,360.4 1255.6,365.3 C1259.4,370.2 1264.7,376.6 1268.5,381.5 C1272.3,386.4 1275.0,390.1 1278.3,394.4 C1281.5,398.7 1284.8,402.5 1288.0,407.4 C1291.2,412.3 1294.5,418.2 1297.7,423.6 C1300.9,429.0 1304.2,434.9 1307.4,439.7 C1310.6,444.5 1313.9,448.1 1317.1,452.7 C1320.3,457.3 1323.8,462.8 1326.8,467.2 C1329.8,471.6 1332.3,475.4 1334.9,479.3 C1337.5,483.2 1339.5,486.5 1342.3,490.5 C1345.1,494.5 1348.5,499.8 1351.6,503.5 C1354.7,507.2 1357.8,509.8 1360.9,512.8 C1364.0,515.8 1367.1,518.7 1370.2,521.2 C1373.3,523.7 1376.4,525.5 1379.5,527.7 C1382.6,529.9 1385.5,532.0 1388.8,534.2 C1392.1,536.4 1397.7,539.6 1399.6,540.7 C1401.5,541.8 1399.9,540.7 1400.0,540.7" fill="none" stroke="#002060" stroke-width="3.4" stroke-linejoin="round"/>
<path d="M107.5,577.0 C116.2,576.8 146.7,576.9 160.0,576.0 C173.3,575.1 181.0,572.7 187.5,571.8 C194.0,570.9 195.5,571.0 199.2,570.5 C202.9,570.0 206.1,569.6 209.5,568.6 C212.9,567.6 216.5,565.9 219.9,564.7 C223.3,563.5 226.8,562.8 230.2,561.5 C233.6,560.2 237.6,558.3 240.6,556.9 C243.6,555.5 245.2,554.4 248.4,553.1 C251.6,551.8 255.7,550.7 260.0,549.2 C264.3,547.7 269.3,546.3 274.3,544.1 C279.3,541.9 286.0,538.0 290.0,536.0 C294.0,534.0 295.1,533.6 298.5,531.9 C301.9,530.2 306.7,528.1 310.7,525.9 C314.7,523.7 318.8,520.5 322.4,518.6 C326.0,516.7 328.6,515.6 332.1,514.2 C335.6,512.8 339.1,511.9 343.4,510.2 C347.7,508.5 353.9,505.8 358.0,504.0 C362.1,502.2 364.5,501.3 367.7,499.6 C370.9,497.9 374.2,496.1 377.4,494.0 C380.6,491.9 384.1,488.9 387.1,486.7 C390.1,484.5 393.1,482.7 395.2,481.0 C397.3,479.3 397.7,477.5 400.0,476.6 C402.3,475.7 405.9,476.4 408.9,475.7 C411.9,475.0 414.8,473.7 417.8,472.2 C420.8,470.7 423.7,468.5 426.7,466.8 C429.7,465.1 432.6,463.4 435.6,461.9 C438.6,460.3 441.5,459.1 444.5,457.5 C447.5,455.9 450.4,454.2 453.4,452.6 C456.4,451.0 459.3,449.1 462.3,447.7 C465.3,446.3 468.2,445.1 471.2,444.1 C474.1,443.1 478.0,442.3 480.0,441.5 C482.0,440.7 480.4,440.5 483.0,439.5 C485.6,438.5 491.6,437.0 495.9,435.6 C500.2,434.2 504.6,433.2 508.9,431.1 C513.2,429.0 517.5,425.5 521.8,422.7 C526.1,419.9 530.4,417.0 534.8,414.2 C539.2,411.4 543.5,408.6 548.2,405.7 C552.9,402.8 558.1,399.1 562.8,396.8 C567.5,394.5 572.0,394.1 576.2,392.0 C580.4,389.9 584.0,386.8 588.0,384.5 C592.0,382.2 595.9,380.6 600.0,378.0 C604.1,375.4 608.6,371.8 612.9,368.8 C617.2,365.8 621.6,362.6 625.9,360.0 C630.2,357.4 634.5,355.1 638.8,353.5 C643.1,351.9 647.5,351.6 651.8,350.7 C656.1,349.8 660.0,349.6 664.7,348.1 C669.4,346.6 675.9,343.3 680.0,341.7 C684.1,340.1 685.1,339.9 689.4,338.3 C693.7,336.7 700.2,334.0 705.6,331.8 C711.0,329.6 716.4,327.7 721.8,325.3 C727.2,322.9 733.3,319.3 738.0,317.2 C742.7,315.1 745.3,314.4 750.0,312.5 C754.7,310.6 760.8,308.5 766.2,306.1 C771.6,303.7 777.0,300.4 782.4,298.0 C787.8,295.6 793.1,293.7 798.5,291.5 C803.9,289.3 809.3,286.9 814.7,285.0 C820.1,283.1 825.5,281.6 830.9,280.2 C836.3,278.8 841.7,278.2 847.1,276.9 C852.5,275.5 857.9,273.5 863.3,272.1 C868.7,270.8 874.0,269.9 879.4,268.8 C884.8,267.7 890.2,266.7 895.6,265.6 C901.0,264.5 906.4,263.5 911.8,262.4 C917.2,261.3 923.0,260.2 928.0,259.1 C933.0,258.0 937.3,255.7 942.0,256.0 C946.7,256.3 951.1,259.4 956.2,260.7 C961.3,262.0 967.0,262.9 972.4,264.0 C977.8,265.1 983.9,266.2 988.5,267.2 C993.1,268.2 997.0,269.2 1000.0,269.8 C1003.0,270.4 1004.4,270.8 1006.5,270.8 C1008.6,270.8 1010.8,270.4 1012.9,270.0 C1015.0,269.6 1017.2,268.8 1019.4,268.7 C1021.6,268.6 1023.7,268.8 1025.9,269.1 C1028.1,269.4 1030.2,269.8 1032.4,270.4 C1034.6,270.9 1036.7,271.8 1038.8,272.4 C1040.9,273.0 1043.3,273.4 1045.3,274.3 C1047.2,275.2 1049.0,276.1 1050.5,277.5 C1052.0,278.9 1053.1,281.0 1054.4,282.7 C1055.7,284.4 1057.0,286.2 1058.3,287.9 C1059.6,289.6 1060.6,291.2 1062.1,293.1 C1063.6,295.0 1065.6,297.4 1067.3,299.5 C1069.0,301.6 1070.8,303.7 1072.5,306.0 C1074.2,308.3 1075.6,310.2 1077.7,313.1 C1079.8,316.1 1082.6,320.0 1085.3,323.7 C1088.0,327.4 1090.9,331.8 1093.7,335.3 C1096.5,338.8 1099.3,341.7 1102.1,344.7 C1104.9,347.7 1107.7,350.2 1110.5,353.2 C1113.3,356.2 1116.1,358.8 1118.9,362.6 C1121.7,366.5 1124.6,371.9 1127.4,376.3 C1130.2,380.7 1133.7,385.6 1135.8,389.0 C1137.9,392.4 1138.6,394.1 1140.0,396.5 C1141.4,398.9 1142.8,400.8 1144.2,403.7 C1145.6,406.6 1146.3,409.4 1148.4,414.0 C1150.5,418.6 1154.0,426.6 1156.8,431.6 C1159.6,436.6 1162.5,440.0 1165.3,444.2 C1168.1,448.4 1170.9,452.2 1173.7,456.8 C1176.5,461.4 1179.3,467.4 1182.1,471.6 C1184.9,475.8 1187.7,479.0 1190.5,482.1 C1193.3,485.2 1196.1,487.3 1198.9,490.5 C1201.7,493.7 1204.6,497.2 1207.4,501.1 C1210.2,505.0 1213.0,509.5 1215.8,513.7 C1218.6,517.9 1221.9,522.7 1224.2,526.3 C1226.5,529.9 1227.3,532.0 1229.8,535.1 C1232.3,538.2 1236.4,541.5 1239.3,544.6 C1242.2,547.7 1244.8,551.0 1247.4,553.7 C1250.0,556.5 1252.4,558.9 1254.9,561.1 C1257.4,563.3 1259.8,565.2 1262.3,566.7 C1264.8,568.2 1267.3,569.3 1269.8,570.4 C1272.3,571.5 1274.4,572.4 1277.2,573.2 C1280.0,574.0 1283.4,574.6 1286.5,575.1 C1289.6,575.6 1291.9,575.7 1295.8,576.0 C1299.7,576.3 1292.7,576.8 1310.0,577.0 C1327.3,577.2 1384.7,577.2 1399.6,577.3" fill="none" stroke="#fff" stroke-width="4.4" stroke-linejoin="round" stroke-linecap="round" filter="url(#shl)"/>
</g>
<g stroke="#878787" stroke-width="1.2" fill="none">
<line x1="111.5" y1="577" x2="111.5" y2="572.6"/>
<line x1="115.5" y1="577" x2="115.5" y2="572.6"/>
<line x1="119.5" y1="577" x2="119.5" y2="572.6"/>
<line x1="123.5" y1="577" x2="123.5" y2="572.6"/>
<line x1="127.5" y1="577" x2="127.5" y2="572.6"/>
<line x1="132.5" y1="577" x2="132.5" y2="572.6"/>
<line x1="136.5" y1="577" x2="136.5" y2="572.6"/>
<line x1="140.5" y1="577" x2="140.5" y2="572.6"/>
<line x1="144.5" y1="577" x2="144.5" y2="572.6"/>
<line x1="149.5" y1="577" x2="149.5" y2="572.6"/>
<line x1="153.5" y1="577" x2="153.5" y2="572.6"/>
<line x1="157.5" y1="577" x2="157.5" y2="572.6"/>
<line x1="161.5" y1="577" x2="161.5" y2="572.6"/>
<line x1="165.5" y1="577" x2="165.5" y2="572.6"/>
<line x1="170.5" y1="577" x2="170.5" y2="572.6"/>
<line x1="174.5" y1="577" x2="174.5" y2="572.6"/>
<line x1="178.5" y1="577" x2="178.5" y2="572.6"/>
<line x1="182.5" y1="577" x2="182.5" y2="572.6"/>
<line x1="187.5" y1="577" x2="187.5" y2="572.6"/>
<line x1="191.5" y1="577" x2="191.5" y2="572.6"/>
<line x1="195.5" y1="577" x2="195.5" y2="572.6"/>
<line x1="199.5" y1="577" x2="199.5" y2="572.6"/>
<line x1="204.5" y1="577" x2="204.5" y2="572.6"/>
<line x1="208.5" y1="577" x2="208.5" y2="572.6"/>
<line x1="212.5" y1="577" x2="212.5" y2="572.6"/>
<line x1="216.5" y1="577" x2="216.5" y2="572.6"/>
<line x1="220.5" y1="577" x2="220.5" y2="572.6"/>
<line x1="225.5" y1="577" x2="225.5" y2="572.6"/>
<line x1="229.5" y1="577" x2="229.5" y2="572.6"/>
<line x1="233.5" y1="577" x2="233.5" y2="572.6"/>
<line x1="242.5" y1="577" x2="242.5" y2="572.6"/>
<line x1="246.5" y1="577" x2="246.5" y2="572.6"/>
<line x1="250.5" y1="577" x2="250.5" y2="572.6"/>
<line x1="254.5" y1="577" x2="254.5" y2="572.6"/>
<line x1="259.5" y1="577" x2="259.5" y2="572.6"/>
<line x1="263.5" y1="577" x2="263.5" y2="572.6"/>
<line x1="267.5" y1="577" x2="267.5" y2="572.6"/>
<line x1="271.5" y1="577" x2="271.5" y2="572.6"/>
<line x1="275.5" y1="577" x2="275.5" y2="572.6"/>
<line x1="280.5" y1="577" x2="280.5" y2="572.6"/>
<line x1="284.5" y1="577" x2="284.5" y2="572.6"/>
<line x1="288.5" y1="577" x2="288.5" y2="572.6"/>
<line x1="292.5" y1="577" x2="292.5" y2="572.6"/>
<line x1="297.5" y1="577" x2="297.5" y2="572.6"/>
<line x1="301.5" y1="577" x2="301.5" y2="572.6"/>
<line x1="305.5" y1="577" x2="305.5" y2="572.6"/>
<line x1="309.5" y1="577" x2="309.5" y2="572.6"/>
<line x1="313.5" y1="577" x2="313.5" y2="572.6"/>
<line x1="318.5" y1="577" x2="318.5" y2="572.6"/>
<line x1="322.5" y1="577" x2="322.5" y2="572.6"/>
<line x1="326.5" y1="577" x2="326.5" y2="572.6"/>
<line x1="330.5" y1="577" x2="330.5" y2="572.6"/>
<line x1="335.5" y1="577" x2="335.5" y2="572.6"/>
<line x1="339.5" y1="577" x2="339.5" y2="572.6"/>
<line x1="343.5" y1="577" x2="343.5" y2="572.6"/>
<line x1="347.5" y1="577" x2="347.5" y2="572.6"/>
<line x1="352.5" y1="577" x2="352.5" y2="572.6"/>
<line x1="356.5" y1="577" x2="356.5" y2="572.6"/>
<line x1="360.5" y1="577" x2="360.5" y2="572.6"/>
<line x1="368.5" y1="577" x2="368.5" y2="572.6"/>
<line x1="373.5" y1="577" x2="373.5" y2="572.6"/>
<line x1="377.5" y1="577" x2="377.5" y2="572.6"/>
<line x1="381.5" y1="577" x2="381.5" y2="572.6"/>
<line x1="385.5" y1="577" x2="385.5" y2="572.6"/>
<line x1="390.5" y1="577" x2="390.5" y2="572.6"/>
<line x1="394.5" y1="577" x2="394.5" y2="572.6"/>
<line x1="398.5" y1="577" x2="398.5" y2="572.6"/>
<line x1="402.5" y1="577" x2="402.5" y2="572.6"/>
<line x1="407.5" y1="577" x2="407.5" y2="572.6"/>
<line x1="411.5" y1="577" x2="411.5" y2="572.6"/>
<line x1="415.5" y1="577" x2="415.5" y2="572.6"/>
<line x1="419.5" y1="577" x2="419.5" y2="572.6"/>
<line x1="423.5" y1="577" x2="423.5" y2="572.6"/>
<line x1="428.5" y1="577" x2="428.5" y2="572.6"/>
<line x1="432.5" y1="577" x2="432.5" y2="572.6"/>
<line x1="436.5" y1="577" x2="436.5" y2="572.6"/>
<line x1="440.5" y1="577" x2="440.5" y2="572.6"/>
<line x1="445.5" y1="577" x2="445.5" y2="572.6"/>
<line x1="449.5" y1="577" x2="449.5" y2="572.6"/>
<line x1="453.5" y1="577" x2="453.5" y2="572.6"/>
<line x1="457.5" y1="577" x2="457.5" y2="572.6"/>
<line x1="461.5" y1="577" x2="461.5" y2="572.6"/>
<line x1="466.5" y1="577" x2="466.5" y2="572.6"/>
<line x1="470.5" y1="577" x2="470.5" y2="572.6"/>
<line x1="474.5" y1="577" x2="474.5" y2="572.6"/>
<line x1="478.5" y1="577" x2="478.5" y2="572.6"/>
<line x1="483.5" y1="577" x2="483.5" y2="572.6"/>
<line x1="487.5" y1="577" x2="487.5" y2="572.6"/>
<line x1="491.5" y1="577" x2="491.5" y2="572.6"/>
<line x1="500.5" y1="577" x2="500.5" y2="572.6"/>
<line x1="504.5" y1="577" x2="504.5" y2="572.6"/>
<line x1="508.5" y1="577" x2="508.5" y2="572.6"/>
<line x1="512.5" y1="577" x2="512.5" y2="572.6"/>
<line x1="516.5" y1="577" x2="516.5" y2="572.6"/>
<line x1="521.5" y1="577" x2="521.5" y2="572.6"/>
<line x1="525.5" y1="577" x2="525.5" y2="572.6"/>
<line x1="529.5" y1="577" x2="529.5" y2="572.6"/>
<line x1="533.5" y1="577" x2="533.5" y2="572.6"/>
<line x1="538.5" y1="577" x2="538.5" y2="572.6"/>
<line x1="542.5" y1="577" x2="542.5" y2="572.6"/>
<line x1="546.5" y1="577" x2="546.5" y2="572.6"/>
<line x1="550.5" y1="577" x2="550.5" y2="572.6"/>
<line x1="554.5" y1="577" x2="554.5" y2="572.6"/>
<line x1="559.5" y1="577" x2="559.5" y2="572.6"/>
<line x1="563.5" y1="577" x2="563.5" y2="572.6"/>
<line x1="567.5" y1="577" x2="567.5" y2="572.6"/>
<line x1="571.5" y1="577" x2="571.5" y2="572.6"/>
<line x1="576.5" y1="577" x2="576.5" y2="572.6"/>
<line x1="580.5" y1="577" x2="580.5" y2="572.6"/>
<line x1="584.5" y1="577" x2="584.5" y2="572.6"/>
<line x1="588.5" y1="577" x2="588.5" y2="572.6"/>
<line x1="593.5" y1="577" x2="593.5" y2="572.6"/>
<line x1="597.5" y1="577" x2="597.5" y2="572.6"/>
<line x1="601.5" y1="577" x2="601.5" y2="572.6"/>
<line x1="605.5" y1="577" x2="605.5" y2="572.6"/>
<line x1="609.5" y1="577" x2="609.5" y2="572.6"/>
<line x1="614.5" y1="577" x2="614.5" y2="572.6"/>
<line x1="618.5" y1="577" x2="618.5" y2="572.6"/>
<line x1="622.5" y1="577" x2="622.5" y2="572.6"/>
<line x1="631.5" y1="577" x2="631.5" y2="572.6"/>
<line x1="635.5" y1="577" x2="635.5" y2="572.6"/>
<line x1="639.5" y1="577" x2="639.5" y2="572.6"/>
<line x1="643.5" y1="577" x2="643.5" y2="572.6"/>
<line x1="648.5" y1="577" x2="648.5" y2="572.6"/>
<line x1="652.5" y1="577" x2="652.5" y2="572.6"/>
<line x1="656.5" y1="577" x2="656.5" y2="572.6"/>
<line x1="660.5" y1="577" x2="660.5" y2="572.6"/>
<line x1="664.5" y1="577" x2="664.5" y2="572.6"/>
<line x1="669.5" y1="577" x2="669.5" y2="572.6"/>
<line x1="673.5" y1="577" x2="673.5" y2="572.6"/>
<line x1="677.5" y1="577" x2="677.5" y2="572.6"/>
<line x1="681.5" y1="577" x2="681.5" y2="572.6"/>
<line x1="686.5" y1="577" x2="686.5" y2="572.6"/>
<line x1="690.5" y1="577" x2="690.5" y2="572.6"/>
<line x1="694.5" y1="577" x2="694.5" y2="572.6"/>
<line x1="698.5" y1="577" x2="698.5" y2="572.6"/>
<line x1="702.5" y1="577" x2="702.5" y2="572.6"/>
<line x1="707.5" y1="577" x2="707.5" y2="572.6"/>
<line x1="711.5" y1="577" x2="711.5" y2="572.6"/>
<line x1="715.5" y1="577" x2="715.5" y2="572.6"/>
<line x1="719.5" y1="577" x2="719.5" y2="572.6"/>
<line x1="724.5" y1="577" x2="724.5" y2="572.6"/>
<line x1="728.5" y1="577" x2="728.5" y2="572.6"/>
<line x1="732.5" y1="577" x2="732.5" y2="572.6"/>
<line x1="736.5" y1="577" x2="736.5" y2="572.6"/>
<line x1="741.5" y1="577" x2="741.5" y2="572.6"/>
<line x1="745.5" y1="577" x2="745.5" y2="572.6"/>
<line x1="753.5" y1="577" x2="753.5" y2="572.6"/>
<line x1="757.5" y1="577" x2="757.5" y2="572.6"/>
<line x1="762.5" y1="577" x2="762.5" y2="572.6"/>
<line x1="766.5" y1="577" x2="766.5" y2="572.6"/>
<line x1="770.5" y1="577" x2="770.5" y2="572.6"/>
<line x1="774.5" y1="577" x2="774.5" y2="572.6"/>
<line x1="779.5" y1="577" x2="779.5" y2="572.6"/>
<line x1="783.5" y1="577" x2="783.5" y2="572.6"/>
<line x1="787.5" y1="577" x2="787.5" y2="572.6"/>
<line x1="791.5" y1="577" x2="791.5" y2="572.6"/>
<line x1="795.5" y1="577" x2="795.5" y2="572.6"/>
<line x1="800.5" y1="577" x2="800.5" y2="572.6"/>
<line x1="804.5" y1="577" x2="804.5" y2="572.6"/>
<line x1="808.5" y1="577" x2="808.5" y2="572.6"/>
<line x1="812.5" y1="577" x2="812.5" y2="572.6"/>
<line x1="817.5" y1="577" x2="817.5" y2="572.6"/>
<line x1="821.5" y1="577" x2="821.5" y2="572.6"/>
<line x1="825.5" y1="577" x2="825.5" y2="572.6"/>
<line x1="829.5" y1="577" x2="829.5" y2="572.6"/>
<line x1="834.5" y1="577" x2="834.5" y2="572.6"/>
<line x1="838.5" y1="577" x2="838.5" y2="572.6"/>
<line x1="842.5" y1="577" x2="842.5" y2="572.6"/>
<line x1="846.5" y1="577" x2="846.5" y2="572.6"/>
<line x1="850.5" y1="577" x2="850.5" y2="572.6"/>
<line x1="855.5" y1="577" x2="855.5" y2="572.6"/>
<line x1="859.5" y1="577" x2="859.5" y2="572.6"/>
<line x1="863.5" y1="577" x2="863.5" y2="572.6"/>
<line x1="867.5" y1="577" x2="867.5" y2="572.6"/>
<line x1="872.5" y1="577" x2="872.5" y2="572.6"/>
<line x1="876.5" y1="577" x2="876.5" y2="572.6"/>
<line x1="884.5" y1="577" x2="884.5" y2="572.6"/>
<line x1="889.5" y1="577" x2="889.5" y2="572.6"/>
<line x1="893.5" y1="577" x2="893.5" y2="572.6"/>
<line x1="897.5" y1="577" x2="897.5" y2="572.6"/>
<line x1="901.5" y1="577" x2="901.5" y2="572.6"/>
<line x1="905.5" y1="577" x2="905.5" y2="572.6"/>
<line x1="910.5" y1="577" x2="910.5" y2="572.6"/>
<line x1="914.5" y1="577" x2="914.5" y2="572.6"/>
<line x1="918.5" y1="577" x2="918.5" y2="572.6"/>
<line x1="922.5" y1="577" x2="922.5" y2="572.6"/>
<line x1="927.5" y1="577" x2="927.5" y2="572.6"/>
<line x1="931.5" y1="577" x2="931.5" y2="572.6"/>
<line x1="935.5" y1="577" x2="935.5" y2="572.6"/>
<line x1="939.5" y1="577" x2="939.5" y2="572.6"/>
<line x1="943.5" y1="577" x2="943.5" y2="572.6"/>
<line x1="948.5" y1="577" x2="948.5" y2="572.6"/>
<line x1="952.5" y1="577" x2="952.5" y2="572.6"/>
<line x1="956.5" y1="577" x2="956.5" y2="572.6"/>
<line x1="960.5" y1="577" x2="960.5" y2="572.6"/>
<line x1="965.5" y1="577" x2="965.5" y2="572.6"/>
<line x1="969.5" y1="577" x2="969.5" y2="572.6"/>
<line x1="973.5" y1="577" x2="973.5" y2="572.6"/>
<line x1="977.5" y1="577" x2="977.5" y2="572.6"/>
<line x1="982.5" y1="577" x2="982.5" y2="572.6"/>
<line x1="986.5" y1="577" x2="986.5" y2="572.6"/>
<line x1="990.5" y1="577" x2="990.5" y2="572.6"/>
<line x1="994.5" y1="577" x2="994.5" y2="572.6"/>
<line x1="998.5" y1="577" x2="998.5" y2="572.6"/>
<line x1="1003.5" y1="577" x2="1003.5" y2="572.6"/>
<line x1="1011.5" y1="577" x2="1011.5" y2="572.6"/>
<line x1="1015.5" y1="577" x2="1015.5" y2="572.6"/>
<line x1="1020.5" y1="577" x2="1020.5" y2="572.6"/>
<line x1="1024.5" y1="577" x2="1024.5" y2="572.6"/>
<line x1="1028.5" y1="577" x2="1028.5" y2="572.6"/>
<line x1="1032.5" y1="577" x2="1032.5" y2="572.6"/>
<line x1="1037.5" y1="577" x2="1037.5" y2="572.6"/>
<line x1="1041.5" y1="577" x2="1041.5" y2="572.6"/>
<line x1="1045.5" y1="577" x2="1045.5" y2="572.6"/>
<line x1="1049.5" y1="577" x2="1049.5" y2="572.6"/>
<line x1="1053.5" y1="577" x2="1053.5" y2="572.6"/>
<line x1="1058.5" y1="577" x2="1058.5" y2="572.6"/>
<line x1="1062.5" y1="577" x2="1062.5" y2="572.6"/>
<line x1="1066.5" y1="577" x2="1066.5" y2="572.6"/>
<line x1="1070.5" y1="577" x2="1070.5" y2="572.6"/>
<line x1="1075.5" y1="577" x2="1075.5" y2="572.6"/>
<line x1="1079.5" y1="577" x2="1079.5" y2="572.6"/>
<line x1="1083.5" y1="577" x2="1083.5" y2="572.6"/>
<line x1="1087.5" y1="577" x2="1087.5" y2="572.6"/>
<line x1="1091.5" y1="577" x2="1091.5" y2="572.6"/>
<line x1="1096.5" y1="577" x2="1096.5" y2="572.6"/>
<line x1="1100.5" y1="577" x2="1100.5" y2="572.6"/>
<line x1="1104.5" y1="577" x2="1104.5" y2="572.6"/>
<line x1="1108.5" y1="577" x2="1108.5" y2="572.6"/>
<line x1="1113.5" y1="577" x2="1113.5" y2="572.6"/>
<line x1="1117.5" y1="577" x2="1117.5" y2="572.6"/>
<line x1="1121.5" y1="577" x2="1121.5" y2="572.6"/>
<line x1="1125.5" y1="577" x2="1125.5" y2="572.6"/>
<line x1="1130.5" y1="577" x2="1130.5" y2="572.6"/>
<line x1="1134.5" y1="577" x2="1134.5" y2="572.6"/>
<line x1="1142.5" y1="577" x2="1142.5" y2="572.6"/>
<line x1="1146.5" y1="577" x2="1146.5" y2="572.6"/>
<line x1="1151.5" y1="577" x2="1151.5" y2="572.6"/>
<line x1="1155.5" y1="577" x2="1155.5" y2="572.6"/>
<line x1="1159.5" y1="577" x2="1159.5" y2="572.6"/>
<line x1="1163.5" y1="577" x2="1163.5" y2="572.6"/>
<line x1="1168.5" y1="577" x2="1168.5" y2="572.6"/>
<line x1="1172.5" y1="577" x2="1172.5" y2="572.6"/>
<line x1="1176.5" y1="577" x2="1176.5" y2="572.6"/>
<line x1="1180.5" y1="577" x2="1180.5" y2="572.6"/>
<line x1="1184.5" y1="577" x2="1184.5" y2="572.6"/>
<line x1="1189.5" y1="577" x2="1189.5" y2="572.6"/>
<line x1="1193.5" y1="577" x2="1193.5" y2="572.6"/>
<line x1="1197.5" y1="577" x2="1197.5" y2="572.6"/>
<line x1="1201.5" y1="577" x2="1201.5" y2="572.6"/>
<line x1="1206.5" y1="577" x2="1206.5" y2="572.6"/>
<line x1="1210.5" y1="577" x2="1210.5" y2="572.6"/>
<line x1="1214.5" y1="577" x2="1214.5" y2="572.6"/>
<line x1="1218.5" y1="577" x2="1218.5" y2="572.6"/>
<line x1="1223.5" y1="577" x2="1223.5" y2="572.6"/>
<line x1="1227.5" y1="577" x2="1227.5" y2="572.6"/>
<line x1="1231.5" y1="577" x2="1231.5" y2="572.6"/>
<line x1="1235.5" y1="577" x2="1235.5" y2="572.6"/>
<line x1="1239.5" y1="577" x2="1239.5" y2="572.6"/>
<line x1="1244.5" y1="577" x2="1244.5" y2="572.6"/>
<line x1="1248.5" y1="577" x2="1248.5" y2="572.6"/>
<line x1="1252.5" y1="577" x2="1252.5" y2="572.6"/>
<line x1="1256.5" y1="577" x2="1256.5" y2="572.6"/>
<line x1="1261.5" y1="577" x2="1261.5" y2="572.6"/>
<line x1="1269.5" y1="577" x2="1269.5" y2="572.6"/>
<line x1="1273.5" y1="577" x2="1273.5" y2="572.6"/>
<line x1="1278.5" y1="577" x2="1278.5" y2="572.6"/>
<line x1="1282.5" y1="577" x2="1282.5" y2="572.6"/>
<line x1="1286.5" y1="577" x2="1286.5" y2="572.6"/>
<line x1="1290.5" y1="577" x2="1290.5" y2="572.6"/>
<line x1="1294.5" y1="577" x2="1294.5" y2="572.6"/>
<line x1="1299.5" y1="577" x2="1299.5" y2="572.6"/>
<line x1="1303.5" y1="577" x2="1303.5" y2="572.6"/>
<line x1="1307.5" y1="577" x2="1307.5" y2="572.6"/>
<line x1="1311.5" y1="577" x2="1311.5" y2="572.6"/>
<line x1="1316.5" y1="577" x2="1316.5" y2="572.6"/>
<line x1="1320.5" y1="577" x2="1320.5" y2="572.6"/>
<line x1="1324.5" y1="577" x2="1324.5" y2="572.6"/>
<line x1="1328.5" y1="577" x2="1328.5" y2="572.6"/>
<line x1="1332.5" y1="577" x2="1332.5" y2="572.6"/>
<line x1="1337.5" y1="577" x2="1337.5" y2="572.6"/>
<line x1="1341.5" y1="577" x2="1341.5" y2="572.6"/>
<line x1="1345.5" y1="577" x2="1345.5" y2="572.6"/>
<line x1="1349.5" y1="577" x2="1349.5" y2="572.6"/>
<line x1="1354.5" y1="577" x2="1354.5" y2="572.6"/>
<line x1="1358.5" y1="577" x2="1358.5" y2="572.6"/>
<line x1="1362.5" y1="577" x2="1362.5" y2="572.6"/>
<line x1="1366.5" y1="577" x2="1366.5" y2="572.6"/>
<line x1="1371.5" y1="577" x2="1371.5" y2="572.6"/>
<line x1="1375.5" y1="577" x2="1375.5" y2="572.6"/>
<line x1="1379.5" y1="577" x2="1379.5" y2="572.6"/>
<line x1="1383.5" y1="577" x2="1383.5" y2="572.6"/>
<line x1="1387.5" y1="577" x2="1387.5" y2="572.6"/>
<line x1="1392.5" y1="577" x2="1392.5" y2="572.6"/>
<line x1="106.5" y1="569.5" x2="112.6" y2="569.5"/>
<line x1="106.5" y1="561.5" x2="112.6" y2="561.5"/>
<line x1="106.5" y1="553.5" x2="112.6" y2="553.5"/>
<line x1="106.5" y1="544.5" x2="112.6" y2="544.5"/>
<line x1="106.5" y1="528.5" x2="112.6" y2="528.5"/>
<line x1="106.5" y1="520.5" x2="112.6" y2="520.5"/>
<line x1="106.5" y1="512.5" x2="112.6" y2="512.5"/>
<line x1="106.5" y1="503.5" x2="112.6" y2="503.5"/>
<line x1="106.5" y1="487.5" x2="112.6" y2="487.5"/>
<line x1="106.5" y1="479.5" x2="112.6" y2="479.5"/>
<line x1="106.5" y1="470.5" x2="112.6" y2="470.5"/>
<line x1="106.5" y1="462.5" x2="112.6" y2="462.5"/>
<line x1="106.5" y1="446.5" x2="112.6" y2="446.5"/>
<line x1="106.5" y1="437.5" x2="112.6" y2="437.5"/>
<line x1="106.5" y1="429.5" x2="112.6" y2="429.5"/>
<line x1="106.5" y1="421.5" x2="112.6" y2="421.5"/>
<line x1="106.5" y1="405.5" x2="112.6" y2="405.5"/>
<line x1="106.5" y1="396.5" x2="112.6" y2="396.5"/>
<line x1="106.5" y1="388.5" x2="112.6" y2="388.5"/>
<line x1="106.5" y1="380.5" x2="112.6" y2="380.5"/>
<line x1="106.5" y1="363.5" x2="112.6" y2="363.5"/>
<line x1="106.5" y1="355.5" x2="112.6" y2="355.5"/>
<line x1="106.5" y1="347.5" x2="112.6" y2="347.5"/>
<line x1="106.5" y1="339.5" x2="112.6" y2="339.5"/>
<line x1="106.5" y1="322.5" x2="112.6" y2="322.5"/>
<line x1="106.5" y1="314.5" x2="112.6" y2="314.5"/>
<line x1="106.5" y1="306.5" x2="112.6" y2="306.5"/>
<line x1="106.5" y1="298.5" x2="112.6" y2="298.5"/>
<line x1="106.5" y1="281.5" x2="112.6" y2="281.5"/>
<line x1="106.5" y1="273.5" x2="112.6" y2="273.5"/>
<line x1="106.5" y1="265.5" x2="112.6" y2="265.5"/>
<line x1="106.5" y1="256.5" x2="112.6" y2="256.5"/>
<line x1="106.5" y1="240.5" x2="112.6" y2="240.5"/>
<line x1="106.5" y1="232.5" x2="112.6" y2="232.5"/>
<line x1="106.5" y1="223.5" x2="112.6" y2="223.5"/>
<line x1="106.5" y1="215.5" x2="112.6" y2="215.5"/>
<line x1="106.5" y1="199.5" x2="112.6" y2="199.5"/>
<line x1="106.5" y1="191.5" x2="112.6" y2="191.5"/>
<line x1="106.5" y1="182.5" x2="112.6" y2="182.5"/>
<line x1="106.5" y1="174.5" x2="112.6" y2="174.5"/>
<line x1="106.5" y1="158.5" x2="112.6" y2="158.5"/>
<line x1="106.5" y1="149.5" x2="112.6" y2="149.5"/>
<line x1="106.5" y1="141.5" x2="112.6" y2="141.5"/>
<line x1="106.5" y1="133.5" x2="112.6" y2="133.5"/>
<line x1="106.5" y1="116.5" x2="112.6" y2="116.5"/>
<line x1="106.5" y1="108.5" x2="112.6" y2="108.5"/>
<line x1="106.5" y1="100.5" x2="112.6" y2="100.5"/>
<line x1="106.5" y1="92.5" x2="112.6" y2="92.5"/>
<line x1="106.5" y1="75.5" x2="112.6" y2="75.5"/>
<line x1="106.5" y1="67.5" x2="112.6" y2="67.5"/>
<line x1="106.5" y1="59.5" x2="112.6" y2="59.5"/>
<line x1="106.5" y1="51.5" x2="112.6" y2="51.5"/>
<line x1="100.3" y1="577.5" x2="112.3" y2="577.5"/>
<line x1="1400.5" y1="577.5" x2="1407.8" y2="577.5"/>
<line x1="100.3" y1="536.5" x2="112.3" y2="536.5"/>
<line x1="1400.5" y1="536.5" x2="1407.8" y2="536.5"/>
<line x1="100.3" y1="495.5" x2="112.3" y2="495.5"/>
<line x1="1400.5" y1="495.5" x2="1407.8" y2="495.5"/>
<line x1="100.3" y1="454.5" x2="112.3" y2="454.5"/>
<line x1="1400.5" y1="454.5" x2="1407.8" y2="454.5"/>
<line x1="100.3" y1="412.5" x2="112.3" y2="412.5"/>
<line x1="1400.5" y1="412.5" x2="1407.8" y2="412.5"/>
<line x1="100.3" y1="371.5" x2="112.3" y2="371.5"/>
<line x1="1400.5" y1="371.5" x2="1407.8" y2="371.5"/>
<line x1="100.3" y1="330.5" x2="112.3" y2="330.5"/>
<line x1="1400.5" y1="330.5" x2="1407.8" y2="330.5"/>
<line x1="100.3" y1="289.5" x2="112.3" y2="289.5"/>
<line x1="1400.5" y1="289.5" x2="1407.8" y2="289.5"/>
<line x1="100.3" y1="248.5" x2="112.3" y2="248.5"/>
<line x1="1400.5" y1="248.5" x2="1407.8" y2="248.5"/>
<line x1="100.3" y1="207.5" x2="112.3" y2="207.5"/>
<line x1="1400.5" y1="207.5" x2="1407.8" y2="207.5"/>
<line x1="100.3" y1="166.5" x2="112.3" y2="166.5"/>
<line x1="1400.5" y1="166.5" x2="1407.8" y2="166.5"/>
<line x1="100.3" y1="124.5" x2="112.3" y2="124.5"/>
<line x1="1400.5" y1="124.5" x2="1407.8" y2="124.5"/>
<line x1="100.3" y1="83.5" x2="112.3" y2="83.5"/>
<line x1="1400.5" y1="83.5" x2="1407.8" y2="83.5"/>
<line x1="100.3" y1="42.5" x2="112.3" y2="42.5"/>
<line x1="1400.5" y1="42.5" x2="1407.8" y2="42.5"/>
<line x1="106.5" y1="572.6" x2="106.5" y2="584.6"/>
<line x1="237.5" y1="572.6" x2="237.5" y2="584.6"/>
<line x1="364.5" y1="572.6" x2="364.5" y2="584.6"/>
<line x1="495.5" y1="572.6" x2="495.5" y2="584.6"/>
<line x1="626.5" y1="572.6" x2="626.5" y2="584.6"/>
<line x1="749.5" y1="572.6" x2="749.5" y2="584.6"/>
<line x1="880.5" y1="572.6" x2="880.5" y2="584.6"/>
<line x1="1007.5" y1="572.6" x2="1007.5" y2="584.6"/>
<line x1="1138.5" y1="572.6" x2="1138.5" y2="584.6"/>
<line x1="1265.5" y1="572.6" x2="1265.5" y2="584.6"/>
<line x1="1396.5" y1="572.6" x2="1396.5" y2="584.6"/>
<line x1="106.5" y1="42" x2="106.5" y2="578"/>
<line x1="1400.5" y1="42" x2="1400.5" y2="578"/>
<line x1="106" y1="577.5" x2="1401" y2="577.5"/>
</g>
<g clip-path="url(#plot)">
<path d="M108.3,573.6 L113.6,572.4 L131.4,572.0 L137.1,573.2 L140.3,574.5 L150.0,575.5 L190.0,575.5 L199.2,569.2 L206.9,567.9 L214.7,565.4 L222.5,562.1 L230.2,560.2 L238.0,558.9 L243.2,556.9 L248.4,555.0 L253.5,549.2 L260.0,547.2 L269.4,546.5 L276.7,546.5 L286.4,538.0 L290.0,536.1 L299.7,529.6 L306.2,522.3 L311.0,519.1 L315.9,518.3 L322.4,515.0 L328.8,512.6 L335.3,508.5 L343.4,506.9 L351.5,505.3 L358.0,502.9 L366.0,498.8 L374.1,496.9 L382.2,496.4 L388.7,496.4 L393.6,492.5 L398.0,487.4 L415.9,487.4 L423.7,482.2 L431.5,479.6 L434.6,478.6 L438.8,473.1 L445.7,469.6 L452.5,466.2 L459.4,462.8 L466.3,460.2 L476.5,451.8 L484.2,447.3 L495.9,446.0 L508.9,443.4 L521.8,442.7 L528.3,440.2 L534.8,437.6 L541.2,433.7 L554.2,430.4 L565.7,428.3 L577.0,428.1 L586.1,427.2 L591.7,424.9 L599.7,424.0 L611.0,424.4 L616.7,422.1 L621.2,422.7 L628.0,414.7 L633.7,413.0 L641.6,411.3 L650.7,411.3 L662.0,411.3 L673.3,410.2 L680.0,409.1 L689.4,411.1 L699.2,407.8 L708.9,404.6 L718.6,396.5 L725.0,391.7 L738.0,385.2 L754.2,383.6 L766.2,382.8 L782.4,377.2 L792.1,364.3 L805.0,354.6 L814.7,351.4 L827.7,346.5 L837.4,338.4 L847.1,328.7 L863.3,325.5 L879.4,322.2 L895.6,320.6 L908.6,319.0 L921.5,314.1 L934.5,311.9 L940.0,312.5 L952.9,315.8 L965.9,318.0 L978.8,320.6 L991.8,333.6 L1004.7,340.0 L1017.7,356.2 L1030.6,367.5 L1043.6,378.9 L1056.5,388.6 L1069.0,401.0 L1081.5,408.9 L1094.2,415.2 L1106.8,431.0 L1116.2,446.8 L1124.1,457.8 L1127.3,468.9 L1138.3,481.5 L1146.3,492.6 L1152.6,501.1 L1158.9,513.7 L1165.3,524.2 L1170.0,531.0 L1179.3,541.4 L1188.8,552.5 L1201.4,562.0 L1214.0,573.0 L1226.7,575.5 L1250.0,576.1 L1399.6,576.5" fill="none" stroke="#7030a0" stroke-width="3.0" stroke-linejoin="round" stroke-linecap="round" filter="url(#shl2)"/>
<path d="M108.0,575.6 L150.0,575.6 L179.8,575.3 L183.6,569.9 L187.5,567.3 L195.3,567.0 L201.8,566.3 L206.9,565.0 L213.4,561.0 L219.9,558.5 L225.1,556.9 L228.9,553.1 L235.4,551.8 L240.6,549.2 L245.8,544.6 L257.3,544.1 L264.6,536.8 L274.3,534.4 L286.4,533.9 L290.0,531.2 L299.7,527.2 L309.4,525.5 L319.1,525.5 L327.2,519.9 L335.3,515.0 L345.0,514.2 L354.7,511.8 L364.4,511.0 L375.8,508.5 L383.8,504.0 L390.6,500.6 L396.1,491.0 L401.6,480.6 L404.5,476.5 L408.9,472.2 L413.3,471.3 L417.8,467.7 L424.9,460.6 L430.2,454.4 L432.9,448.1 L435.6,442.8 L440.0,437.5 L444.5,432.1 L448.9,428.6 L453.4,425.0 L458.0,416.2 L467.7,409.7 L477.4,404.9 L487.1,401.7 L495.8,399.9 L503.1,399.6 L508.9,394.0 L516.2,386.8 L523.5,378.8 L530.8,375.1 L536.6,370.8 L542.4,364.2 L547.5,356.6 L551.1,357.9 L557.7,358.4" fill="none" stroke="#000" stroke-width="4.4" stroke-linejoin="round" stroke-linecap="round" filter="url(#shl2)"/>
</g>
<text x="296.6" y="21.0" font-size="27.20" font-weight="bold" textLength="871.9" lengthAdjust="spacingAndGlyphs" text-anchor="start">B.C. Automated Snow Weather Station Composite (1988 - 2026)</text>
<text x="74.4" y="584.0" font-size="19.60" textLength="12.4" lengthAdjust="spacingAndGlyphs" text-anchor="start">0</text>
<text x="53.6" y="543.0" font-size="19.60" textLength="33.6" lengthAdjust="spacingAndGlyphs" text-anchor="start">100</text>
<text x="53.6" y="502.0" font-size="19.60" textLength="33.6" lengthAdjust="spacingAndGlyphs" text-anchor="start">200</text>
<text x="53.6" y="461.0" font-size="19.60" textLength="33.6" lengthAdjust="spacingAndGlyphs" text-anchor="start">300</text>
<text x="53.6" y="419.0" font-size="19.60" textLength="33.6" lengthAdjust="spacingAndGlyphs" text-anchor="start">400</text>
<text x="53.6" y="378.0" font-size="19.60" textLength="33.6" lengthAdjust="spacingAndGlyphs" text-anchor="start">500</text>
<text x="53.6" y="337.0" font-size="19.60" textLength="33.6" lengthAdjust="spacingAndGlyphs" text-anchor="start">600</text>
<text x="53.6" y="296.0" font-size="19.60" textLength="33.6" lengthAdjust="spacingAndGlyphs" text-anchor="start">700</text>
<text x="53.6" y="255.0" font-size="19.60" textLength="33.6" lengthAdjust="spacingAndGlyphs" text-anchor="start">800</text>
<text x="53.6" y="214.0" font-size="19.60" textLength="33.6" lengthAdjust="spacingAndGlyphs" text-anchor="start">900</text>
<text x="36.6" y="173.0" font-size="19.60" textLength="50.6" lengthAdjust="spacingAndGlyphs" text-anchor="start">1,000</text>
<text x="36.6" y="131.0" font-size="19.60" textLength="50.6" lengthAdjust="spacingAndGlyphs" text-anchor="start">1,100</text>
<text x="36.6" y="90.0" font-size="19.60" textLength="50.6" lengthAdjust="spacingAndGlyphs" text-anchor="start">1,200</text>
<text x="36.6" y="49.0" font-size="19.60" textLength="50.6" lengthAdjust="spacingAndGlyphs" text-anchor="start">1,300</text>
<text x="77.9" y="612.9" font-size="19.40" textLength="60.3" lengthAdjust="spacingAndGlyphs" text-anchor="start">Oct-01</text>
<text x="206.6" y="612.9" font-size="19.40" textLength="65.0" lengthAdjust="spacingAndGlyphs" text-anchor="start">Nov-01</text>
<text x="334.2" y="612.9" font-size="19.40" textLength="63.9" lengthAdjust="spacingAndGlyphs" text-anchor="start">Dec-01</text>
<text x="467.2" y="612.9" font-size="19.40" textLength="59.9" lengthAdjust="spacingAndGlyphs" text-anchor="start">Jan-01</text>
<text x="597.4" y="612.9" font-size="19.40" textLength="61.5" lengthAdjust="spacingAndGlyphs" text-anchor="start">Feb-01</text>
<text x="718.6" y="612.9" font-size="19.40" textLength="65.0" lengthAdjust="spacingAndGlyphs" text-anchor="start">Mar-01</text>
<text x="851.4" y="612.9" font-size="19.40" textLength="61.5" lengthAdjust="spacingAndGlyphs" text-anchor="start">Apr-01</text>
<text x="975.0" y="612.9" font-size="19.40" textLength="68.2" lengthAdjust="spacingAndGlyphs" text-anchor="start">May-01</text>
<text x="1110.0" y="612.9" font-size="19.40" textLength="60.2" lengthAdjust="spacingAndGlyphs" text-anchor="start">Jun-01</text>
<text x="1240.0" y="612.9" font-size="19.40" textLength="54.2" lengthAdjust="spacingAndGlyphs" text-anchor="start">Jul-01</text>
<text x="1365.8" y="612.9" font-size="19.40" textLength="64.6" lengthAdjust="spacingAndGlyphs" text-anchor="start">Aug-01</text>
<text transform="translate(29.0,480.2) rotate(-90)" x="0" y="0" font-size="25.6" textLength="347.0" lengthAdjust="spacingAndGlyphs">Snow Water Equivalent (mm)</text>
<text x="135.6" y="71.9" font-size="17.90" textLength="340.1" lengthAdjust="spacingAndGlyphs" text-anchor="start">Prepared by the BC River Forecast Centre</text>
<rect x="145.4" y="88.3" width="156.0" height="286.7" fill="#d9d9d9" stroke="#000" stroke-width="1.3" filter="url(#shg)"/>
<rect x="155.0" y="100.3" width="35.0" height="11.6" fill="#1f3864" fill-opacity="0.7"/>
<text x="194.0" y="111.9" font-size="20.20" textLength="96.5" lengthAdjust="spacingAndGlyphs" text-anchor="start">90th - Max</text>
<rect x="155.0" y="136.3" width="35.0" height="11.6" fill="#0070c0" fill-opacity="0.7"/>
<text x="194.0" y="147.9" font-size="20.20" textLength="100.0" lengthAdjust="spacingAndGlyphs" text-anchor="start">75th - 90th</text>
<rect x="155.0" y="172.2" width="35.0" height="11.6" fill="#548235" fill-opacity="0.7"/>
<text x="194.0" y="183.8" font-size="20.20" textLength="100.0" lengthAdjust="spacingAndGlyphs" text-anchor="start">25th - 75th</text>
<rect x="150.3" y="203.9" width="43.1" height="20.2" rx="4" fill="#fff"/>
<line x1="159.2" y1="214.0" x2="184.5" y2="214.0" stroke="#8c8c8c" stroke-width="2.6"/>
<text x="193.4" y="219.8" font-size="20.20" textLength="69.6" lengthAdjust="spacingAndGlyphs" text-anchor="start">Median</text>
<rect x="155.0" y="244.1" width="35.0" height="11.6" fill="#ffff00" fill-opacity="0.72"/>
<text x="194.0" y="255.7" font-size="20.20" textLength="100.2" lengthAdjust="spacingAndGlyphs" text-anchor="start">10th - 25th</text>
<rect x="154.4" y="279.4" width="35.4" height="13.0" fill="#ff0000" fill-opacity="0.62" stroke="#ff0000" stroke-width="2.2"/>
<text x="194.0" y="291.7" font-size="20.20" textLength="93.8" lengthAdjust="spacingAndGlyphs" text-anchor="start">Min - 10th</text>
<line x1="153.1" y1="321.9" x2="190.7" y2="321.9" stroke="#7030a0" stroke-width="2.6"/>
<text x="194.0" y="327.7" font-size="20.20" textLength="72.6" lengthAdjust="spacingAndGlyphs" text-anchor="start">2024-25</text>
<line x1="154.6" y1="357.8" x2="189.3" y2="357.8" stroke="#000" stroke-width="4.6" stroke-linecap="round"/>
<text x="194.0" y="363.6" font-size="20.20" textLength="72.7" lengthAdjust="spacingAndGlyphs" text-anchor="start">2025-26</text>
</svg>
</body></html>
